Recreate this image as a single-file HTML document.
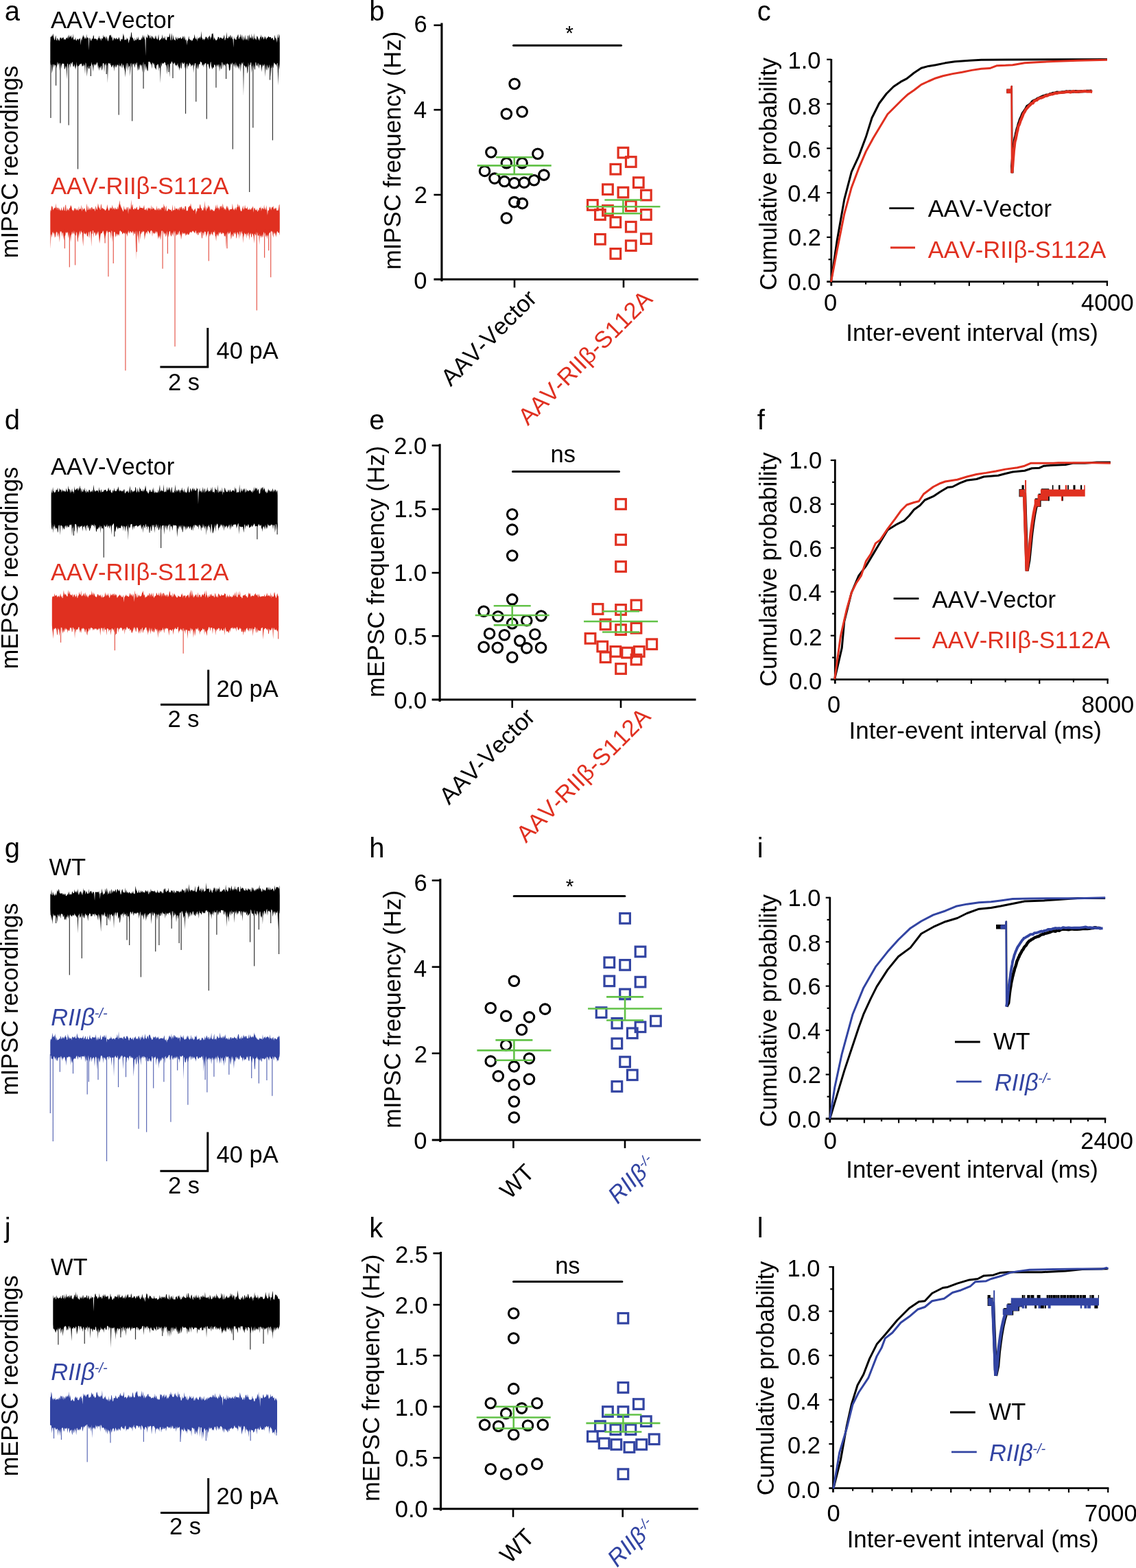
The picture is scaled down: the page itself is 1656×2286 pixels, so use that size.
<!DOCTYPE html>
<html lang="en"><head><meta charset="utf-8"><title>Figure</title>
<style>
html,body{margin:0;padding:0;background:#fff}
body{width:1656px;height:2286px;overflow:hidden}
svg{display:block}
svg text{font-family:"Liberation Sans", Arial, Helvetica, sans-serif;font-kerning:none}
</style></head><body>
<svg xmlns="http://www.w3.org/2000/svg" width="1656" height="2286" viewBox="0 0 1656 2286">
<rect width="1656" height="2286" fill="#fff"/>
<text x="6.85" y="29.8" font-size="40">a</text>
<text font-size="34.5" textLength="280.75" lengthAdjust="spacingAndGlyphs" transform="translate(26.1 376.4) rotate(-90)">mIPSC recordings</text>
<text x="74" y="41.3" font-size="34.5">AAV-Vector</text>
<text x="74" y="282.6" font-size="34.5" fill="#E03020">AAV-RIIβ-S112A</text>
<polygon points="73.3,62.5 73.65,53.83 74.35,53.43 75.05,53.76 75.75,51.36 76.45,53.34 77.15,48.78 77.85,51.49 78.55,55.45 79.25,57.66 79.95,58.84 80.65,54.05 81.35,51.41 82.05,59.08 82.75,58.81 83.45,55.5 84.15,55.65 84.85,59.74 85.55,56.63 86.25,60.22 86.95,57.5 87.65,54.77 88.35,54.41 89.05,55.62 89.75,57.36 90.44,55.05 91.14,54.62 91.84,56.25 92.54,53.52 93.24,57.9 93.94,57.43 94.64,56.66 95.34,58.28 96.04,56.85 96.74,55.03 97.44,54.64 98.14,56.68 98.84,52.06 99.54,56.95 100.24,50.26 100.94,53.03 101.64,55.24 102.34,52.56 103.04,53.91 103.74,50.44 104.44,57.04 105.14,53.39 105.84,55.97 106.54,49.36 107.24,58.8 107.94,56.44 108.64,57.97 109.34,57.66 110.04,54.13 110.74,58.65 111.44,59.58 112.14,57.79 112.84,56.63 113.54,56.39 114.24,59.24 114.94,56.6 115.64,57.17 116.34,54.97 117.04,57.56 117.74,65.83 118.44,55.57 119.14,59.19 119.84,55.51 120.54,53.8 121.24,50.42 121.94,53.95 122.64,52.98 123.34,55.95 124.03,57.05 124.73,54.07 125.43,57.17 126.13,49.46 126.83,56.47 127.53,53.87 128.23,56.31 128.93,54.53 129.63,73.34 130.33,55.2 131.03,55.27 131.73,56.93 132.43,59.4 133.13,59.54 133.83,56.21 134.53,56.41 135.23,56.42 135.93,51.5 136.63,51.82 137.33,57 138.03,56.67 138.73,55.93 139.43,56.5 140.13,57.25 140.83,56.59 141.53,59.54 142.23,57.6 142.93,56.06 143.63,55.79 144.33,51.83 145.03,55.74 145.73,56.4 146.43,55.67 147.13,59.75 147.83,57.23 148.53,55.36 149.23,56.47 149.93,56.47 150.63,50.54 151.33,55.11 152.03,52.93 152.73,53.55 153.43,56.39 154.13,52.55 154.83,58.97 155.53,52.65 156.23,55.55 156.93,58.7 157.62,60.39 158.32,57.08 159.02,53.93 159.72,50.96 160.42,51.18 161.12,52.5 161.82,49.9 162.52,55.61 163.22,52.94 163.92,56.69 164.62,59.7 165.32,57.84 166.02,53.88 166.72,56.64 167.42,55.56 168.12,56.58 168.82,57.65 169.52,54.95 170.22,55.3 170.92,57.73 171.62,56.84 172.32,57.21 173.02,54.02 173.72,55.01 174.42,57.04 175.12,59.89 175.82,60.16 176.52,56.6 177.22,57.95 177.92,56.23 178.62,57.76 179.32,48.25 180.02,54.6 180.72,49.84 181.42,57.89 182.12,58.72 182.82,57.25 183.52,57.39 184.22,58.82 184.92,54.34 185.62,57.33 186.32,55.95 187.02,59.4 187.72,63.13 188.42,58.32 189.12,57.85 189.82,52.45 190.51,55.15 191.21,46.43 191.91,48.32 192.61,55.34 193.31,54.55 194.01,56.31 194.71,57.56 195.41,59.78 196.11,59.5 196.81,54.63 197.51,59.23 198.21,57.5 198.91,59.09 199.61,53.85 200.31,57.87 201.01,56.64 201.71,52.88 202.41,58.93 203.11,57.73 203.81,58.02 204.51,58.72 205.21,57.19 205.91,58.08 206.61,53.93 207.31,57.29 208.01,50.19 208.71,53.7 209.41,55.54 210.11,51.18 210.81,56.45 211.51,58.21 212.21,81.16 212.91,51.66 213.61,54.58 214.31,54.7 215.01,56.06 215.71,49.12 216.41,51.94 217.11,51.16 217.81,52.71 218.51,56.21 219.21,54.87 219.91,50.84 220.61,57.76 221.31,52.52 222.01,52.54 222.71,55.36 223.41,54.25 224.1,56.55 224.8,56.78 225.5,56.24 226.2,51.29 226.9,57.09 227.6,51.6 228.3,57.55 229,55.86 229.7,58.61 230.4,54.56 231.1,49.7 231.8,58.09 232.5,59.62 233.2,57.41 233.9,58 234.6,56.63 235.3,56.37 236,54.75 236.7,50.05 237.4,58.12 238.1,54.71 238.8,55.29 239.5,56.9 240.2,52.13 240.9,56.41 241.6,58.04 242.3,58.16 243,58.92 243.7,52.62 244.4,54.42 245.1,54.15 245.8,53.48 246.5,54.14 247.2,48.11 247.9,51.92 248.6,58.34 249.3,59.28 250,48.01 250.7,51.96 251.4,58.88 252.1,55.89 252.8,50.84 253.5,56.77 254.2,58.58 254.9,57.82 255.6,59.8 256.3,52.95 257,55.45 257.69,57.02 258.39,58.23 259.09,53.19 259.79,56.34 260.49,56.12 261.19,56.37 261.89,55.08 262.59,55.43 263.29,53.38 263.99,57.15 264.69,56.6 265.39,55.77 266.09,54.79 266.79,52.15 267.49,54.24 268.19,58.35 268.89,51.87 269.59,55.18 270.29,58.07 270.99,59.46 271.69,56.24 272.39,65.93 273.09,59.57 273.79,58.94 274.49,56.89 275.19,52.34 275.89,57.12 276.59,57.12 277.29,58.94 277.99,58.27 278.69,57.5 279.39,60.12 280.09,59.19 280.79,58.54 281.49,56.77 282.19,55.35 282.89,55.87 283.59,49.83 284.29,54.01 284.99,56.84 285.69,56.27 286.39,58.37 287.09,52.73 287.79,60.4 288.49,56.54 289.19,55.73 289.89,55.46 290.59,53.43 291.28,57.58 291.98,52.72 292.68,55.85 293.38,45.25 294.08,54.68 294.78,55.11 295.48,58.49 296.18,56.85 296.88,56.34 297.58,59.15 298.28,56.07 298.98,57.44 299.68,53.55 300.38,53.99 301.08,53.26 301.78,56.1 302.48,54.98 303.18,58.59 303.88,52.94 304.58,54.55 305.28,51.53 305.98,53.02 306.68,58.14 307.38,52.86 308.08,56.18 308.78,49.2 309.48,49.55 310.18,48.12 310.88,51.1 311.58,58.68 312.28,53.86 312.98,56.43 313.68,56.87 314.38,58.52 315.08,59.35 315.78,58.15 316.48,57.66 317.18,56.56 317.88,53.59 318.58,54.1 319.28,54.33 319.98,57.82 320.68,54.99 321.38,54.67 322.08,54.42 322.78,55.62 323.48,56.14 324.18,56.51 324.87,56.26 325.57,55.4 326.27,53.03 326.97,50.41 327.67,58.66 328.37,58.24 329.07,54.8 329.77,55.87 330.47,46.55 331.17,55.82 331.87,55.67 332.57,55.99 333.27,54.02 333.97,52.33 334.67,55.34 335.37,50.22 336.07,57.04 336.77,50.59 337.47,56.03 338.17,51.89 338.87,57.35 339.57,56.74 340.27,69.3 340.97,52.43 341.67,56.88 342.37,55.74 343.07,57.4 343.77,58.09 344.47,57.94 345.17,53.12 345.87,54.15 346.57,50.9 347.27,49.93 347.97,56.26 348.67,56.92 349.37,54.12 350.07,54.3 350.77,49.15 351.47,53.42 352.17,58.07 352.87,49.98 353.57,54.3 354.27,59.6 354.97,57.1 355.67,52.17 356.37,56.44 357.07,59.08 357.76,50.44 358.46,56.84 359.16,58.51 359.86,55.63 360.56,59.26 361.26,51.3 361.96,52.74 362.66,60.23 363.36,49.86 364.06,52.66 364.76,56.78 365.46,53.9 366.16,56.49 366.86,48.68 367.56,57.67 368.26,51.44 368.96,55.98 369.66,58.52 370.36,48.2 371.06,57.14 371.76,55.12 372.46,56.23 373.16,58.74 373.86,56.62 374.56,52.36 375.26,52.88 375.96,54.8 376.66,58.71 377.36,54.85 378.06,59.69 378.76,56.91 379.46,53.58 380.16,53.96 380.86,50.27 381.56,57.52 382.26,52.6 382.96,55 383.66,53.96 384.36,57.7 385.06,56.4 385.76,53.35 386.46,53.26 387.16,57.48 387.86,53.46 388.56,57.97 389.26,55.12 389.96,55.36 390.66,53.9 391.35,52.52 392.05,54 392.75,54.32 393.45,54.43 394.15,53.99 394.85,54.01 395.55,56.97 396.25,55.78 396.95,55.04 397.65,55.5 398.35,57.87 399.05,58.9 399.75,57.54 400.45,50.86 401.15,54.17 401.85,56.18 402.55,56.01 403.25,58.67 403.95,62.14 404.65,49.27 405.35,55.45 406.05,55.15 406.75,49.17 407.45,52.48 407.8,62.5 407.8,87.5 407.45,102.39 406.75,93.45 406.05,102.33 405.35,124.59 404.65,92.54 403.95,91.7 403.25,97.93 402.55,93.72 401.85,94.49 401.15,93.09 400.45,92.49 399.75,91.11 399.05,93.41 398.35,99.31 397.65,97.38 396.95,94.21 396.25,98.52 395.55,98.95 394.85,112.2 394.15,95.31 393.45,100.6 392.75,93.79 392.05,98.27 391.35,98.53 390.66,102.96 389.96,94.08 389.26,96.94 388.56,102.97 387.86,100.87 387.16,93.48 386.46,111.97 385.76,95.76 385.06,92.67 384.36,96.08 383.66,94.97 382.96,98.67 382.26,92.72 381.56,105.07 380.86,98.19 380.16,93.92 379.46,95.02 378.76,93.31 378.06,95.51 377.36,100.34 376.66,93.36 375.96,91.42 375.26,97.88 374.56,94.49 373.86,96.83 373.16,90.69 372.46,90.9 371.76,101.37 371.06,101.55 370.36,94.21 369.66,100.1 368.96,91.86 368.26,95.14 367.56,96.99 366.86,107.05 366.16,91.08 365.46,90.88 364.76,94.61 364.06,94.76 363.36,93.13 362.66,98.3 361.96,91.11 361.26,104.57 360.56,107.56 359.86,97.43 359.16,96.17 358.46,99.74 357.76,97.2 357.07,96.17 356.37,95.68 355.67,94.23 354.97,139.38 354.27,89.76 353.57,93.88 352.87,90.76 352.17,93.05 351.47,95.19 350.77,104.92 350.07,92.46 349.37,93.49 348.67,102.1 347.97,95.41 347.27,100.26 346.57,94 345.87,99.27 345.17,95.93 344.47,94.41 343.77,90.41 343.07,99.67 342.37,95.87 341.67,91.8 340.97,97.53 340.27,93.35 339.57,93.57 338.87,91.86 338.17,91.31 337.47,94.96 336.77,91.91 336.07,94.78 335.37,101.78 334.67,103.38 333.97,101.73 333.27,92.97 332.57,94.47 331.87,92.68 331.17,92.14 330.47,93.5 329.77,94.87 329.07,91.24 328.37,97.01 327.67,94.77 326.97,93.53 326.27,96.04 325.57,92.14 324.87,100.84 324.18,90.98 323.48,90.67 322.78,101.27 322.08,99.86 321.38,93.79 320.68,97.71 319.98,104.48 319.28,93.69 318.58,94.62 317.88,98.67 317.18,93.27 316.48,96.3 315.78,93.14 315.08,96.88 314.38,97.78 313.68,94.69 312.98,94.59 312.28,93.99 311.58,99.19 310.88,98.2 310.18,98.14 309.48,101.35 308.78,98.81 308.08,96.48 307.38,89.7 306.68,91.48 305.98,98.19 305.28,101.36 304.58,97.44 303.88,94 303.18,92.64 302.48,94.55 301.78,90.8 301.08,99.67 300.38,92.83 299.68,91.98 298.98,91.68 298.28,94.24 297.58,93.38 296.88,98.17 296.18,93.34 295.48,95.01 294.78,96.03 294.08,90.68 293.38,91.05 292.68,89.62 291.98,90.44 291.28,94.31 290.59,93.33 289.89,93.67 289.19,98.42 288.49,101.57 287.79,92.84 287.09,98.51 286.39,100.19 285.69,92.41 284.99,91.98 284.29,91.89 283.59,96.9 282.89,91.74 282.19,106.15 281.49,95.46 280.79,93.6 280.09,96.23 279.39,94.54 278.69,97.79 277.99,93.68 277.29,93.85 276.59,91.21 275.89,93.09 275.19,96.02 274.49,96.98 273.79,92.49 273.09,101.48 272.39,92.46 271.69,93.83 270.99,101.26 270.29,94.73 269.59,100.33 268.89,90.59 268.19,92.16 267.49,93.45 266.79,92.98 266.09,91.1 265.39,91.35 264.69,99.99 263.99,99.4 263.29,90.59 262.59,100.27 261.89,98.33 261.19,103.12 260.49,95.39 259.79,98.95 259.09,91.74 258.39,94.69 257.69,94.79 257,97.04 256.3,94.31 255.6,95.46 254.9,91.44 254.2,91.22 253.5,93.78 252.8,92.65 252.1,90.74 251.4,92.52 250.7,89.59 250,89.99 249.3,92.44 248.6,93.41 247.9,91.68 247.2,112.7 246.5,98.65 245.8,94.81 245.1,92.58 244.4,95.05 243.7,108.38 243,98.25 242.3,94.85 241.6,95.2 240.9,90.97 240.2,91.16 239.5,90.5 238.8,92.58 238.1,92.04 237.4,93.56 236.7,91.09 236,93.7 235.3,97.45 234.6,90.73 233.9,121.31 233.2,98.45 232.5,99.73 231.8,93.42 231.1,104.26 230.4,93.58 229.7,93.29 229,95.02 228.3,95.09 227.6,101.97 226.9,100.31 226.2,98.97 225.5,98.62 224.8,91.56 224.1,95.16 223.41,92.89 222.71,91.12 222.01,92.4 221.31,100.4 220.61,92.39 219.91,94.51 219.21,90.9 218.51,91.32 217.81,89.55 217.11,89.96 216.41,90.36 215.71,102.23 215.01,103.99 214.31,101.37 213.61,94.96 212.91,102.58 212.21,98.27 211.51,93.75 210.81,92.88 210.11,106.25 209.41,90.06 208.71,91.46 208.01,95.38 207.31,105.69 206.61,94.62 205.91,94.54 205.21,96.92 204.51,93.57 203.81,94.76 203.11,100.13 202.41,102.46 201.71,94.26 201.01,103.78 200.31,99.58 199.61,91.3 198.91,91.4 198.21,95.74 197.51,91.43 196.81,96.15 196.11,99.03 195.41,91.71 194.71,93.41 194.01,94.72 193.31,92.01 192.61,95.77 191.91,98.4 191.21,91.56 190.51,93.32 189.82,111.73 189.12,95.43 188.42,96.6 187.72,98.52 187.02,92.12 186.32,103.96 185.62,92.15 184.92,91.92 184.22,101.66 183.52,92.35 182.82,112.8 182.12,104.32 181.42,100.32 180.72,98.23 180.02,93.4 179.32,95.25 178.62,99.72 177.92,93.86 177.22,91.71 176.52,99.49 175.82,94.23 175.12,97.12 174.42,96.26 173.72,91.47 173.02,96.71 172.32,94.93 171.62,94.67 170.92,93.85 170.22,96.74 169.52,98.75 168.82,93.5 168.12,98.86 167.42,95.32 166.72,104.28 166.02,93.37 165.32,99.41 164.62,94.68 163.92,94.79 163.22,97.47 162.52,98.33 161.82,95.27 161.12,94.37 160.42,91.81 159.72,92.86 159.02,93.02 158.32,91.49 157.62,92.87 156.93,121.12 156.23,94.32 155.53,96.16 154.83,93.25 154.13,91.77 153.43,95.81 152.73,93.27 152.03,105.45 151.33,92.03 150.63,92.15 149.93,92.26 149.23,100.56 148.53,103.06 147.83,97.06 147.13,95.18 146.43,100.81 145.73,97.27 145.03,98.71 144.33,103.37 143.63,94.75 142.93,100.38 142.23,92.65 141.53,90.41 140.83,92.34 140.13,95.24 139.43,93.11 138.73,94.8 138.03,96 137.33,92.67 136.63,94.16 135.93,104.7 135.23,97.85 134.53,94.5 133.83,93.64 133.13,90.44 132.43,96.85 131.73,95.67 131.03,96.24 130.33,100.49 129.63,100.04 128.93,99.89 128.23,95.32 127.53,99.15 126.83,111.73 126.13,100.32 125.43,92.72 124.73,91.12 124.03,108.47 123.34,93.73 122.64,96.69 121.94,92.54 121.24,96.41 120.54,95.75 119.84,97.55 119.14,93.67 118.44,92.37 117.74,93.66 117.04,92.8 116.34,93.93 115.64,94.85 114.94,96.74 114.24,95.66 113.54,97.96 112.84,94.3 112.14,97.71 111.44,90.34 110.74,102.18 110.04,95.04 109.34,100.6 108.64,93.03 107.94,95.92 107.24,97.52 106.54,96.71 105.84,90.38 105.14,90.62 104.44,94.63 103.74,91.23 103.04,92.63 102.34,99.22 101.64,92.7 100.94,94.13 100.24,93.28 99.54,100.36 98.84,92.64 98.14,92.87 97.44,115.54 96.74,98.67 96.04,95.59 95.34,98.3 94.64,100.81 93.94,100.62 93.24,93.08 92.54,92.79 91.84,93.17 91.14,91.89 90.44,93.38 89.75,95.13 89.05,99.99 88.35,92.81 87.65,91.73 86.95,102.89 86.25,91.59 85.55,94.26 84.85,90.61 84.15,96.16 83.45,89.67 82.75,99.86 82.05,95 81.35,96.03 80.65,94.6 79.95,95.71 79.25,93.06 78.55,99.52 77.85,93.32 77.15,94.59 76.45,102.04 75.75,106.92 75.05,93.45 74.35,95.22 73.65,91.91 73.3,87.5" fill="#000"/>
<path d="M73.95 88.5V171.94M81.56 88.5V124.77M87.95 88.5V179.55M100.12 88.5V182.59M113.51 88.5V246.5M132.38 88.5V111.08M155.2 88.5V108.03M173.16 88.5V167.38M192.64 88.5V176.51M209.07 88.5V129.34M245.89 88.5V104.99M251.98 88.5V114.12M270.54 88.5V165.86M285.76 88.5V148.2M301.28 88.5V173.46M314.97 88.5V127.81M329.58 88.5V115.03M339.32 88.5V217.59M363.66 88.5V279.98M368.84 88.5V186.24M393.49 88.5V116.56M397.44 88.5V204.5" stroke="#000" stroke-width="1.2" fill="none" opacity="0.8"/>
<polygon points="73.3,310.5 73.65,305.79 74.35,307.72 75.05,299.38 75.75,301.61 76.45,300.94 77.15,304.81 77.85,306.39 78.55,303.27 79.25,303.84 79.95,302.61 80.65,303.44 81.35,296.36 82.05,306.16 82.75,301.46 83.45,303.14 84.15,302.72 84.85,306.43 85.55,302.48 86.25,303.81 86.95,307.24 87.65,304.56 88.35,307.6 89.05,306.06 89.75,302.08 90.44,306.11 91.14,307.51 91.84,305.76 92.54,302.28 93.24,300.57 93.94,306.88 94.64,307.37 95.34,299.13 96.04,298.27 96.74,308.03 97.44,306.94 98.14,302.79 98.84,306.39 99.54,304.95 100.24,307.78 100.94,303.62 101.64,303.66 102.34,302.31 103.04,298.73 103.74,300.55 104.44,301.82 105.14,306.47 105.84,305.68 106.54,308.3 107.24,305.02 107.94,307.73 108.64,302.92 109.34,303.96 110.04,303.42 110.74,306.3 111.44,306.68 112.14,303.13 112.84,305.83 113.54,306.36 114.24,307.57 114.94,300.56 115.64,305.32 116.34,305.23 117.04,304.87 117.74,303.89 118.44,298.59 119.14,308.31 119.84,305.37 120.54,301.76 121.24,305.95 121.94,304.96 122.64,304.31 123.34,302.88 124.03,305.99 124.73,308.22 125.43,309.5 126.13,301.85 126.83,296.55 127.53,306.99 128.23,305.18 128.93,299.71 129.63,306.32 130.33,305.6 131.03,303.29 131.73,303.26 132.43,306.8 133.13,302.52 133.83,302.12 134.53,302.64 135.23,305.3 135.93,304.99 136.63,304.22 137.33,303.65 138.03,305.92 138.73,308.29 139.43,299.98 140.13,302.2 140.83,304.94 141.53,306.2 142.23,302.17 142.93,296.23 143.63,300.22 144.33,304.01 145.03,301.59 145.73,305.13 146.43,306.37 147.13,296.85 147.83,299.62 148.53,304.9 149.23,303.08 149.93,303.23 150.63,304.75 151.33,304.97 152.03,304.53 152.73,306.02 153.43,307.34 154.13,306.33 154.83,304.97 155.53,303.65 156.23,297.79 156.93,302.31 157.62,304.21 158.32,306.68 159.02,307.14 159.72,304.81 160.42,303 161.12,302.08 161.82,304.97 162.52,303.51 163.22,302.04 163.92,298.53 164.62,305.54 165.32,304.55 166.02,302.18 166.72,303.73 167.42,305.92 168.12,304.09 168.82,302.27 169.52,304.95 170.22,304.71 170.92,305.46 171.62,300.13 172.32,305.53 173.02,299.94 173.72,296.99 174.42,291.63 175.12,301.06 175.82,296.99 176.52,302.53 177.22,302.86 177.92,305.08 178.62,305.97 179.32,308.48 180.02,307.54 180.72,299.7 181.42,305.03 182.12,306.14 182.82,303.8 183.52,307.35 184.22,301.18 184.92,306.62 185.62,302.21 186.32,301.68 187.02,312.16 187.72,301.31 188.42,306.37 189.12,302.52 189.82,304.94 190.51,305.39 191.21,290.68 191.91,303.39 192.61,299.33 193.31,297.54 194.01,305.56 194.71,304.54 195.41,306.06 196.11,303.06 196.81,304.11 197.51,304.71 198.21,304.61 198.91,302.62 199.61,301.35 200.31,305.41 201.01,305.62 201.71,306.26 202.41,304.56 203.11,304.08 203.81,299.11 204.51,302.89 205.21,303.12 205.91,303.27 206.61,302.77 207.31,303.8 208.01,302.58 208.71,304.53 209.41,301.71 210.11,298.66 210.81,306.03 211.51,306.09 212.21,304.16 212.91,306.93 213.61,302.79 214.31,305.74 215.01,307.78 215.71,302.19 216.41,304.61 217.11,302.1 217.81,303.94 218.51,304.48 219.21,303.32 219.91,306.74 220.61,298.68 221.31,304.99 222.01,305.06 222.71,300.9 223.41,303.83 224.1,304.86 224.8,303.55 225.5,306.18 226.2,306.18 226.9,304.97 227.6,307.19 228.3,299.49 229,306.63 229.7,303.06 230.4,307.36 231.1,302.88 231.8,303.74 232.5,306.94 233.2,303.94 233.9,304.71 234.6,306.86 235.3,302.22 236,303.86 236.7,302.35 237.4,302.09 238.1,305.08 238.8,297.09 239.5,300.83 240.2,301.3 240.9,308.18 241.6,302.77 242.3,299.48 243,308.15 243.7,307.22 244.4,307.36 245.1,304.81 245.8,304.11 246.5,305.31 247.2,305.14 247.9,306.03 248.6,306 249.3,305.53 250,308.26 250.7,307.74 251.4,298.06 252.1,307.58 252.8,305.68 253.5,306.51 254.2,305.98 254.9,299.61 255.6,306.67 256.3,303.92 257,303.75 257.69,304.25 258.39,305.68 259.09,302.85 259.79,306.68 260.49,302.94 261.19,307.21 261.89,302.46 262.59,301.56 263.29,305.15 263.99,301.13 264.69,301.56 265.39,302.89 266.09,306.57 266.79,304.11 267.49,302.48 268.19,304.75 268.89,306.24 269.59,300.83 270.29,300.92 270.99,300 271.69,307.37 272.39,307.5 273.09,306.54 273.79,307.76 274.49,301.39 275.19,302.39 275.89,300.4 276.59,300.06 277.29,301.27 277.99,296.18 278.69,300.65 279.39,303.53 280.09,306.12 280.79,303.48 281.49,306.45 282.19,307.43 282.89,306.84 283.59,304.84 284.29,305.55 284.99,302.77 285.69,312.54 286.39,307.74 287.09,307.81 287.79,302.96 288.49,304.01 289.19,303.14 289.89,304.58 290.59,303.95 291.28,298.94 291.98,297.54 292.68,302.63 293.38,303.54 294.08,304.31 294.78,307.39 295.48,305.66 296.18,307.13 296.88,301.62 297.58,304.7 298.28,292.8 298.98,306.26 299.68,299.35 300.38,308.13 301.08,304.92 301.78,300.89 302.48,304.88 303.18,301.56 303.88,298.38 304.58,302.69 305.28,300.04 305.98,305.25 306.68,307.44 307.38,303.84 308.08,306.93 308.78,304.67 309.48,306.36 310.18,305.26 310.88,308.33 311.58,306.76 312.28,308.22 312.98,305.77 313.68,304.59 314.38,298.34 315.08,303.7 315.78,303.87 316.48,297.49 317.18,304.83 317.88,302.29 318.58,303.26 319.28,306.76 319.98,299.99 320.68,305.53 321.38,300.55 322.08,301.34 322.78,299.35 323.48,304.18 324.18,300.8 324.87,296.55 325.57,302.69 326.27,302.16 326.97,306 327.67,303.57 328.37,304.7 329.07,306.67 329.77,302.41 330.47,299.56 331.17,304.36 331.87,300.11 332.57,303.24 333.27,307.31 333.97,303.69 334.67,307.86 335.37,305.01 336.07,305.33 336.77,304.73 337.47,304.9 338.17,304.75 338.87,296.41 339.57,303.08 340.27,306.3 340.97,304.05 341.67,307.05 342.37,302.48 343.07,306.34 343.77,301.5 344.47,306.82 345.17,301.92 345.87,302.26 346.57,296.61 347.27,300.67 347.97,302.66 348.67,298.32 349.37,300.78 350.07,304.35 350.77,307.06 351.47,307.92 352.17,308.07 352.87,304.73 353.57,302.89 354.27,299.56 354.97,305.9 355.67,304.78 356.37,303.21 357.07,298.51 357.76,303.57 358.46,304.07 359.16,303.39 359.86,304.43 360.56,300.7 361.26,305.51 361.96,306.05 362.66,305.53 363.36,302.99 364.06,306.37 364.76,305.39 365.46,305.28 366.16,302.51 366.86,306.37 367.56,302.87 368.26,302.62 368.96,300.05 369.66,309.64 370.36,303.97 371.06,302.41 371.76,304.37 372.46,306.08 373.16,306.37 373.86,307.29 374.56,303.5 375.26,308.41 375.96,308.23 376.66,305.28 377.36,307.32 378.06,302.5 378.76,303.35 379.46,303.82 380.16,300.47 380.86,307.67 381.56,304.27 382.26,303.41 382.96,302.81 383.66,304.79 384.36,305.16 385.06,298.37 385.76,305.9 386.46,301.93 387.16,305.25 387.86,306.27 388.56,298.89 389.26,305.92 389.96,313.63 390.66,306.28 391.35,307.13 392.05,306.19 392.75,301.18 393.45,302.08 394.15,305.83 394.85,301 395.55,306.76 396.25,301.24 396.95,303.06 397.65,301.71 398.35,299.99 399.05,306.06 399.75,304.07 400.45,303.53 401.15,305.12 401.85,302.58 402.55,303.27 403.25,306.57 403.95,307.2 404.65,306.48 405.35,307.08 406.05,304.24 406.75,298.94 407.45,297.75 407.8,310.5 407.8,333.5 407.45,343.17 406.75,339.01 406.05,339.54 405.35,339.32 404.65,337.26 403.95,337.24 403.25,340.64 402.55,345.97 401.85,339.08 401.15,343.84 400.45,338.94 399.75,341.52 399.05,337.23 398.35,346.58 397.65,342.4 396.95,336.55 396.25,338.47 395.55,336.63 394.85,336.77 394.15,338.29 393.45,339.06 392.75,339.65 392.05,340.43 391.35,342.38 390.66,344.71 389.96,341.38 389.26,349 388.56,341.54 387.86,345.76 387.16,343.33 386.46,338.9 385.76,341.18 385.06,340.1 384.36,337.65 383.66,346.58 382.96,340.6 382.26,346.7 381.56,342.28 380.86,347.14 380.16,344.15 379.46,344.29 378.76,340.47 378.06,356.82 377.36,343.79 376.66,342.8 375.96,344.54 375.26,338.33 374.56,344.15 373.86,337.86 373.16,342.62 372.46,343.84 371.76,340.5 371.06,341.55 370.36,354.96 369.66,344.41 368.96,342.11 368.26,340.47 367.56,340.71 366.86,345.91 366.16,345.42 365.46,339.31 364.76,341.09 364.06,342.12 363.36,350.53 362.66,340.25 361.96,338.45 361.26,344.79 360.56,341.47 359.86,339.56 359.16,347.69 358.46,341.32 357.76,341.6 357.07,340.51 356.37,338.99 355.67,346.18 354.97,340.67 354.27,354.42 353.57,341.05 352.87,340.1 352.17,336.49 351.47,339.73 350.77,345.85 350.07,336.89 349.37,338.22 348.67,348.87 347.97,339.81 347.27,342.78 346.57,337.88 345.87,339.39 345.17,346.12 344.47,347.99 343.77,337.69 343.07,340.75 342.37,342.07 341.67,339.24 340.97,338.7 340.27,344.17 339.57,345.35 338.87,342.86 338.17,340.47 337.47,346.03 336.77,349.21 336.07,339.72 335.37,337.04 334.67,340.69 333.97,339.41 333.27,342.58 332.57,337.36 331.87,341.84 331.17,338.02 330.47,341.72 329.77,362.96 329.07,340.08 328.37,345.02 327.67,343.7 326.97,344.99 326.27,339.98 325.57,340.16 324.87,338.52 324.18,340.32 323.48,341.35 322.78,341.41 322.08,339.3 321.38,337.94 320.68,341.59 319.98,339.31 319.28,338.26 318.58,345.02 317.88,340.11 317.18,344.99 316.48,342.62 315.78,340.83 315.08,351.72 314.38,344.68 313.68,343.63 312.98,335.57 312.28,339.71 311.58,338.16 310.88,337.75 310.18,343.9 309.48,341.38 308.78,341.36 308.08,337.42 307.38,341.97 306.68,341.18 305.98,345.34 305.28,341.06 304.58,340.06 303.88,337.58 303.18,336.75 302.48,339.07 301.78,344.26 301.08,339.91 300.38,346.66 299.68,338.13 298.98,337.66 298.28,337.29 297.58,339.89 296.88,344.79 296.18,338.7 295.48,339.19 294.78,347.66 294.08,347.08 293.38,337.84 292.68,337.43 291.98,339.35 291.28,340.66 290.59,338.49 289.89,338.2 289.19,342.46 288.49,342.98 287.79,340.34 287.09,338.47 286.39,342.53 285.69,336.92 284.99,336.1 284.29,339.94 283.59,339.64 282.89,338.03 282.19,338.02 281.49,336.3 280.79,337.84 280.09,336.59 279.39,339.06 278.69,339.1 277.99,338.65 277.29,337.39 276.59,339.4 275.89,340.83 275.19,342.48 274.49,342.13 273.79,341.81 273.09,339.77 272.39,342.51 271.69,343.1 270.99,340.03 270.29,344.62 269.59,338.73 268.89,341.72 268.19,339.57 267.49,340.19 266.79,341.87 266.09,338.09 265.39,340.9 264.69,344.53 263.99,349.39 263.29,340.63 262.59,343.85 261.89,337.68 261.19,336.37 260.49,343.1 259.79,337.81 259.09,342.81 258.39,341.73 257.69,341.48 257,344.8 256.3,340.75 255.6,336.13 254.9,337.53 254.2,340.41 253.5,335.82 252.8,345.65 252.1,337.78 251.4,343.07 250.7,338.5 250,345.01 249.3,343.93 248.6,342.24 247.9,337.37 247.2,336.87 246.5,338.87 245.8,345.92 245.1,340.69 244.4,347.18 243.7,336.4 243,340.04 242.3,343.36 241.6,345.43 240.9,339.23 240.2,340.55 239.5,342.85 238.8,336.89 238.1,340.83 237.4,336.78 236.7,336.56 236,336.58 235.3,336.75 234.6,349.96 233.9,338.7 233.2,349.89 232.5,343.29 231.8,346.97 231.1,342.44 230.4,349.29 229.7,341.06 229,337.88 228.3,337.21 227.6,341.46 226.9,336.56 226.2,339.17 225.5,340.02 224.8,341.74 224.1,339.3 223.41,340.29 222.71,336.19 222.01,345.18 221.31,336.63 220.61,335.76 219.91,336.35 219.21,337.71 218.51,342.03 217.81,339.06 217.11,339.09 216.41,337.25 215.71,336.12 215.01,337.69 214.31,341.87 213.61,337.57 212.91,339.19 212.21,341.17 211.51,344.29 210.81,349.77 210.11,337.7 209.41,336.99 208.71,338.67 208.01,336.09 207.31,339.53 206.61,337.55 205.91,341.67 205.21,339.72 204.51,350.12 203.81,336.91 203.11,336.75 202.41,356.33 201.71,346.8 201.01,336.85 200.31,345.78 199.61,337.41 198.91,336.45 198.21,378.66 197.51,336.25 196.81,341.47 196.11,340.99 195.41,337.48 194.71,344.28 194.01,337.74 193.31,336.57 192.61,340.19 191.91,337.99 191.21,339.84 190.51,336.98 189.82,336.95 189.12,340.63 188.42,339.14 187.72,335.8 187.02,340.5 186.32,337.16 185.62,345.29 184.92,341.65 184.22,340.48 183.52,338.25 182.82,342.31 182.12,339.14 181.42,341 180.72,338.61 180.02,340.19 179.32,340.17 178.62,341.68 177.92,339.39 177.22,337.43 176.52,337.9 175.82,336.43 175.12,336.29 174.42,337.3 173.72,344.4 173.02,340.61 172.32,343.02 171.62,340.75 170.92,344.94 170.22,340.86 169.52,340.6 168.82,346.36 168.12,343.19 167.42,337.95 166.72,337.67 166.02,338.97 165.32,346 164.62,343.16 163.92,353.02 163.22,337.13 162.52,336.23 161.82,348.15 161.12,340.03 160.42,338.43 159.72,337.97 159.02,337.78 158.32,338.98 157.62,337.4 156.93,340.25 156.23,336.37 155.53,336.63 154.83,339.55 154.13,343.04 153.43,344.84 152.73,348.48 152.03,343.24 151.33,340.72 150.63,336.81 149.93,336.52 149.23,338.87 148.53,340.07 147.83,340.46 147.13,339.67 146.43,342.98 145.73,349.13 145.03,355.15 144.33,346.03 143.63,339.34 142.93,336.82 142.23,342.88 141.53,338.23 140.83,340.94 140.13,343.32 139.43,343.95 138.73,338.06 138.03,340.65 137.33,337.82 136.63,346.85 135.93,335.78 135.23,336.13 134.53,341.49 133.83,340.18 133.13,359.43 132.43,336.94 131.73,337.32 131.03,339.49 130.33,347.71 129.63,337.58 128.93,339.17 128.23,346.33 127.53,344.09 126.83,343.93 126.13,338.45 125.43,340.55 124.73,342.28 124.03,340.55 123.34,340.58 122.64,340.95 121.94,336.76 121.24,359.16 120.54,350.16 119.84,338.96 119.14,339.08 118.44,336.09 117.74,339.8 117.04,342.43 116.34,335.92 115.64,339.19 114.94,347.48 114.24,340.27 113.54,352.9 112.84,350.95 112.14,339.15 111.44,337.93 110.74,343.93 110.04,342.57 109.34,336.55 108.64,342.98 107.94,335.87 107.24,341.47 106.54,338.41 105.84,342.5 105.14,336.7 104.44,341.04 103.74,343 103.04,352.89 102.34,341.64 101.64,351.26 100.94,345.75 100.24,338.4 99.54,347.44 98.84,339.24 98.14,337.84 97.44,340.26 96.74,339.55 96.04,337.69 95.34,343.03 94.64,344.42 93.94,343.29 93.24,350.49 92.54,345.52 91.84,339.55 91.14,339.01 90.44,345.44 89.75,336.79 89.05,339.17 88.35,337.07 87.65,337.6 86.95,353.13 86.25,344.35 85.55,338.98 84.85,342.78 84.15,345.94 83.45,338.48 82.75,339.07 82.05,337.18 81.35,345.15 80.65,345.92 79.95,338.28 79.25,347.33 78.55,339.92 77.85,340.28 77.15,337.49 76.45,339.53 75.75,346.5 75.05,340.84 74.35,343.47 73.65,362.72 73.3,333.5" fill="#E03020"/>
<path d="M94.34 334.5V362.14M101.34 334.5V389.53M109.56 334.5V386.49M153.07 334.5V354.53M157.94 334.5V403.23M165.25 334.5V384.05M182.9 334.5V540.17M199.33 334.5V367.32M237.07 334.5V391.66M244.37 334.5V369.75M255.02 334.5V505.17M304.32 334.5V380.4M331.1 334.5V362.14M374.32 334.5V452.53M385.58 334.5V375.84M391.66 334.5V365.19M394.7 334.5V404.14" stroke="#E03020" stroke-width="1.2" fill="none" opacity="0.8"/>
<path d="M302.8 478V535H233.4" fill="none" stroke="#000" stroke-width="3" stroke-linejoin="miter"/>
<text x="315.6" y="523.4" font-size="34.5">40 pA</text>
<text x="245" y="568.5" font-size="34.5">2 s</text>
<text x="6.85" y="626.1" font-size="40">d</text>
<text font-size="34.5" textLength="294.75" lengthAdjust="spacingAndGlyphs" transform="translate(26.1 975.4) rotate(-90)">mEPSC recordings</text>
<text x="74" y="692.2" font-size="34.5">AAV-Vector</text>
<text x="74" y="846" font-size="34.5" fill="#E03020">AAV-RIIβ-S112A</text>
<polygon points="74.6,722 74.95,712.49 75.65,718.17 76.35,718.73 77.05,710.03 77.75,716.06 78.45,716.37 79.15,719 79.85,717.09 80.54,718.12 81.24,715.96 81.94,713.39 82.64,714.86 83.34,714.23 84.04,710.66 84.74,717.47 85.44,716.72 86.14,716.41 86.84,711.34 87.54,713.78 88.24,713.96 88.94,714.06 89.64,718.21 90.34,712.14 91.04,717.45 91.73,714.43 92.43,715.51 93.13,715.3 93.83,717.21 94.53,715.11 95.23,717.52 95.93,715.89 96.63,711.41 97.33,714.77 98.03,717.37 98.73,716.13 99.43,708.06 100.13,713.61 100.83,713.01 101.53,713.71 102.22,719.45 102.92,713.18 103.62,717.28 104.32,717.75 105.02,711.65 105.72,716.56 106.42,716.99 107.12,716.33 107.82,719.88 108.52,708.64 109.22,715.29 109.92,713.03 110.62,714.87 111.32,713.28 112.02,712.45 112.72,711.27 113.41,714.07 114.11,715.78 114.81,710.65 115.51,714.32 116.21,707.76 116.91,711.52 117.61,712.45 118.31,718.47 119.01,711.71 119.71,715.76 120.41,717.27 121.11,716.79 121.81,712.64 122.51,715.44 123.21,710.66 123.91,715.7 124.6,716.22 125.3,719.35 126,712.57 126.7,717.97 127.4,716.48 128.1,716.08 128.8,718.66 129.5,714.14 130.2,714.16 130.9,714.15 131.6,718.01 132.3,717.03 133,715.58 133.7,717.44 134.4,713.18 135.1,718.28 135.79,714.85 136.49,706.44 137.19,713.81 137.89,715.29 138.59,716.98 139.29,715.54 139.99,716.67 140.69,714.27 141.39,715.81 142.09,714.63 142.79,715.68 143.49,718.57 144.19,710.05 144.89,715.27 145.59,713.89 146.28,718.47 146.98,715.51 147.68,712.72 148.38,718.09 149.08,717.11 149.78,716.78 150.48,716.74 151.18,716.27 151.88,713.63 152.58,715.01 153.28,714.05 153.98,713.85 154.68,715.03 155.38,716.88 156.08,715.45 156.78,716.22 157.47,713.12 158.17,710.39 158.87,714.27 159.57,715.89 160.27,713.95 160.97,713.62 161.67,717 162.37,717.68 163.07,719.16 163.77,717.31 164.47,714.63 165.17,714.52 165.87,717.85 166.57,710.93 167.27,714.99 167.97,716.03 168.66,716.22 169.36,716.33 170.06,715.27 170.76,712.82 171.46,714.2 172.16,709.01 172.86,711.99 173.56,715.47 174.26,716.76 174.96,713.42 175.66,715.97 176.36,715.3 177.06,715.77 177.76,716.93 178.46,714.87 179.15,716.93 179.85,715.19 180.55,713.65 181.25,713.11 181.95,718.58 182.65,719.42 183.35,717.69 184.05,715.39 184.75,717.04 185.45,716.93 186.15,714.78 186.85,716.51 187.55,718.93 188.25,716.66 188.95,712.3 189.65,708.29 190.34,719.7 191.04,713.76 191.74,714.08 192.44,715.5 193.14,718 193.84,715.47 194.54,716.7 195.24,716.68 195.94,714.85 196.64,716.28 197.34,709.81 198.04,710.9 198.74,716.37 199.44,718.57 200.14,715.94 200.84,711.58 201.53,716.05 202.23,716.89 202.93,718.14 203.63,709.47 204.33,713.11 205.03,712.58 205.73,716.15 206.43,714.97 207.13,716.11 207.83,716.87 208.53,712.27 209.23,717.07 209.93,715.49 210.63,713.93 211.33,712.51 212.03,707.45 212.72,711.7 213.42,716.72 214.12,715.58 214.82,717.29 215.52,718.14 216.22,719.92 216.92,717.97 217.62,716.77 218.32,714.01 219.02,713.82 219.72,717.58 220.42,716.21 221.12,716.88 221.82,717.38 222.52,711.97 223.21,717.03 223.91,709.88 224.61,718.29 225.31,718.94 226.01,715.42 226.71,718.52 227.41,717.3 228.11,718.83 228.81,717.62 229.51,718.43 230.21,717.01 230.91,713.15 231.61,719.3 232.31,711.98 233.01,706.59 233.71,717.45 234.4,715.12 235.1,716.49 235.8,713.44 236.5,715.38 237.2,716.52 237.9,715.45 238.6,705.97 239.3,717.55 240,717.45 240.7,716.48 241.4,717.42 242.1,712.67 242.8,718.02 243.5,709.02 244.2,713.97 244.9,715.17 245.59,713.35 246.29,709.59 246.99,715.39 247.69,710.68 248.39,715.47 249.09,718.71 249.79,712.23 250.49,709.53 251.19,716.99 251.89,718.88 252.59,716.17 253.29,719.34 253.99,716.51 254.69,715.21 255.39,706.24 256.09,715.4 256.78,718.37 257.48,713.18 258.18,716.96 258.88,713.51 259.58,717.17 260.28,713.17 260.98,714.04 261.68,715.75 262.38,718.89 263.08,714.73 263.78,714.71 264.48,714.92 265.18,710.39 265.88,714.58 266.58,714.69 267.27,718.09 267.97,715.69 268.67,712 269.37,718.75 270.07,716.02 270.77,717.56 271.47,719.02 272.17,717.41 272.87,716.48 273.57,712.13 274.27,708.36 274.97,716.39 275.67,718.04 276.37,717.99 277.07,713.87 277.77,711.48 278.46,714.94 279.16,717.28 279.86,713.77 280.56,712.69 281.26,710.48 281.96,715.99 282.66,712.93 283.36,712.05 284.06,715.35 284.76,715.39 285.46,714.97 286.16,715.19 286.86,710.51 287.56,713.37 288.26,711.95 288.96,735.12 289.65,717.38 290.35,715.87 291.05,711.34 291.75,716.9 292.45,716.18 293.15,714.82 293.85,718.01 294.55,717.64 295.25,709.47 295.95,717.72 296.65,711.22 297.35,719.27 298.05,713.81 298.75,711.52 299.45,718.17 300.15,716.24 300.84,716.14 301.54,714.34 302.24,709.97 302.94,716.96 303.64,713.72 304.34,717.54 305.04,716.08 305.74,716.07 306.44,713.73 307.14,717.72 307.84,710.29 308.54,715.9 309.24,709.31 309.94,717.53 310.64,717.24 311.33,717.6 312.03,715.95 312.73,719.55 313.43,709.65 314.13,714.3 314.83,712.71 315.53,714.55 316.23,713.64 316.93,718.66 317.63,706.46 318.33,717.45 319.03,718.48 319.73,714.81 320.43,716.74 321.13,716.97 321.83,713.53 322.52,716.9 323.22,716.73 323.92,710.3 324.62,722.02 325.32,716.26 326.02,717.33 326.72,718.5 327.42,710.65 328.12,712.15 328.82,715.01 329.52,716.12 330.22,717.36 330.92,717.26 331.62,717.32 332.32,713.23 333.02,717.36 333.71,713.58 334.41,718.22 335.11,713.52 335.81,714.13 336.51,717.1 337.21,716.32 337.91,717.56 338.61,714.62 339.31,715.22 340.01,714.45 340.71,715.61 341.41,716.94 342.11,709.05 342.81,716.65 343.51,711.67 344.2,712.49 344.9,717.9 345.6,718.4 346.3,717.37 347,716.63 347.7,718.18 348.4,717.31 349.1,706.33 349.8,715.54 350.5,718.69 351.2,715.39 351.9,711.41 352.6,716.1 353.3,716.87 354,712.4 354.7,715.75 355.39,712.96 356.09,711.63 356.79,714.34 357.49,718.4 358.19,716.41 358.89,711.61 359.59,717.74 360.29,715.29 360.99,713.94 361.69,716.29 362.39,716.37 363.09,715.52 363.79,713.84 364.49,715.6 365.19,713.94 365.89,716.8 366.58,716.52 367.28,716.44 367.98,718.91 368.68,714.06 369.38,717.72 370.08,709.36 370.78,716.28 371.48,714.33 372.18,710.29 372.88,712.63 373.58,712.44 374.28,710.85 374.98,716.52 375.68,714.02 376.38,713.04 377.08,713.81 377.77,719.83 378.47,719.81 379.17,718.4 379.87,710.51 380.57,714.71 381.27,711.39 381.97,711.3 382.67,709.79 383.37,716.09 384.07,709.37 384.77,714.18 385.47,711.49 386.17,714.44 386.87,716.75 387.57,717.14 388.26,719.57 388.96,714.93 389.66,718.92 390.36,717.4 391.06,712.21 391.76,714.72 392.46,715.67 393.16,714.08 393.86,717.83 394.56,715.91 395.26,716.62 395.96,713.66 396.66,717.68 397.36,711.72 398.06,714.31 398.76,718.02 399.45,714.34 400.15,717.24 400.85,712.96 401.55,714.28 402.25,715.19 402.95,718.3 403.65,715.34 404.35,715.26 404.7,722 404.7,761 404.35,767.41 403.65,772.86 402.95,764.4 402.25,763.95 401.55,770.99 400.85,776.46 400.15,764.05 399.45,766.55 398.76,765.1 398.06,771.78 397.36,765.66 396.66,765.24 395.96,764.3 395.26,765.29 394.56,767.06 393.86,764.6 393.16,767.18 392.46,766.84 391.76,765.26 391.06,766.24 390.36,763.31 389.66,771.07 388.96,767.25 388.26,771.68 387.57,765.2 386.87,772.6 386.17,764.86 385.47,771.84 384.77,766.66 384.07,769.14 383.37,767.08 382.67,775.47 381.97,769.44 381.27,771.62 380.57,765.22 379.87,765.42 379.17,766.7 378.47,766.43 377.77,764.71 377.08,763.99 376.38,766.11 375.68,768.07 374.98,766.8 374.28,766.77 373.58,767.02 372.88,766.83 372.18,768.04 371.48,765.14 370.78,763.24 370.08,763.97 369.38,766.09 368.68,765.8 367.98,768.54 367.28,767.4 366.58,765.25 365.89,767.99 365.19,767.82 364.49,768.92 363.79,769.87 363.09,768.8 362.39,764.96 361.69,764.18 360.99,765.92 360.29,768.23 359.59,765.53 358.89,767.89 358.19,764.59 357.49,772.04 356.79,764.15 356.09,765.15 355.39,776.7 354.7,772.3 354,768.08 353.3,767.95 352.6,767.67 351.9,769.31 351.2,767.46 350.5,768.54 349.8,767.49 349.1,766.78 348.4,779.07 347.7,763.31 347,763.15 346.3,765.38 345.6,767.69 344.9,770.46 344.2,765.18 343.51,764 342.81,765.81 342.11,764.04 341.41,764.86 340.71,765.29 340.01,765.08 339.31,768.43 338.61,765.99 337.91,769.44 337.21,763.33 336.51,771.94 335.81,763.8 335.11,772.95 334.41,765.66 333.71,764.95 333.02,768.27 332.32,767.03 331.62,770.95 330.92,767.56 330.22,765.7 329.52,767.2 328.82,769.43 328.12,767.46 327.42,765.7 326.72,773.88 326.02,767.47 325.32,764.38 324.62,770.58 323.92,764.02 323.22,767.16 322.52,765.13 321.83,764.16 321.13,768.14 320.43,766.43 319.73,770.17 319.03,768.38 318.33,774.01 317.63,764.92 316.93,763.98 316.23,763.14 315.53,765.71 314.83,766.91 314.13,775.32 313.43,763.85 312.73,767.95 312.03,770.49 311.33,774.25 310.64,776.81 309.94,777.83 309.24,769.41 308.54,764.63 307.84,763.86 307.14,777.74 306.44,771.71 305.74,768.57 305.04,767.97 304.34,764.42 303.64,767.77 302.94,767.07 302.24,774.29 301.54,765.16 300.84,780.55 300.15,767.66 299.45,766.75 298.75,772.49 298.05,764.96 297.35,770.13 296.65,767.14 295.95,763.54 295.25,769.42 294.55,769.63 293.85,767.8 293.15,774.38 292.45,767.46 291.75,766.39 291.05,764.76 290.35,765.19 289.65,772.14 288.96,764.92 288.26,768.02 287.56,768.25 286.86,766.23 286.16,765.73 285.46,766.42 284.76,765.22 284.06,764.82 283.36,770.84 282.66,764.67 281.96,767.53 281.26,774.41 280.56,765.93 279.86,772.64 279.16,772.66 278.46,769.5 277.77,766.46 277.07,769.31 276.37,771.15 275.67,768.38 274.97,767.04 274.27,767.7 273.57,769.27 272.87,771.42 272.17,765.96 271.47,772.64 270.77,766.47 270.07,773.57 269.37,767.43 268.67,767.97 267.97,765.62 267.27,768.93 266.58,774.92 265.88,776.16 265.18,764.53 264.48,773.05 263.78,767.73 263.08,765.5 262.38,769.49 261.68,767.72 260.98,765.38 260.28,772.6 259.58,768.17 258.88,773.99 258.18,783.33 257.48,767.16 256.78,765.83 256.09,766.44 255.39,765.71 254.69,765.42 253.99,766.83 253.29,765.49 252.59,765.09 251.89,769.12 251.19,773.72 250.49,766.9 249.79,767.12 249.09,768.3 248.39,763.51 247.69,776.17 246.99,763.69 246.29,764.88 245.59,766.8 244.9,766.06 244.2,767.95 243.5,773.45 242.8,766.25 242.1,766.31 241.4,771.56 240.7,765.03 240,768.1 239.3,779.45 238.6,766.26 237.9,765.85 237.2,765.94 236.5,766.38 235.8,767.57 235.1,773.09 234.4,767.09 233.71,765.69 233.01,772.66 232.31,767.76 231.61,773.02 230.91,772.62 230.21,764.55 229.51,768.53 228.81,771.29 228.11,763.84 227.41,765.58 226.71,768.88 226.01,767.6 225.31,776.92 224.61,765.79 223.91,765.02 223.21,769.21 222.52,765.81 221.82,764.99 221.12,774.49 220.42,773.74 219.72,768.52 219.02,766.6 218.32,776.89 217.62,776.53 216.92,767.21 216.22,768.59 215.52,765.55 214.82,772.91 214.12,767.68 213.42,767.94 212.72,763.59 212.03,765.8 211.33,770.08 210.63,769.5 209.93,765.71 209.23,765.54 208.53,776.9 207.83,766.66 207.13,768.27 206.43,772.32 205.73,768.36 205.03,763.81 204.33,766.53 203.63,765.84 202.93,765.65 202.23,767.06 201.53,766.79 200.84,768.7 200.14,767.09 199.44,766.35 198.74,765.84 198.04,767.01 197.34,766.42 196.64,767.53 195.94,767.06 195.24,771.29 194.54,766.68 193.84,767.82 193.14,773.19 192.44,763.98 191.74,764 191.04,764.06 190.34,765.09 189.65,770.08 188.95,767.36 188.25,770.92 187.55,766.33 186.85,787.56 186.15,763.6 185.45,776.09 184.75,766.15 184.05,766.9 183.35,768.72 182.65,775.58 181.95,768.66 181.25,767.07 180.55,766.85 179.85,774.46 179.15,765.7 178.46,768.67 177.76,766.46 177.06,765.82 176.36,767.9 175.66,770.24 174.96,769.85 174.26,770.04 173.56,768.8 172.86,771.44 172.16,768.73 171.46,772.58 170.76,766.69 170.06,770.17 169.36,767.05 168.66,773.53 167.97,775.79 167.27,773.75 166.57,766.77 165.87,763.26 165.17,763.42 164.47,764.52 163.77,766.08 163.07,766.53 162.37,779.79 161.67,767.68 160.97,765.15 160.27,767.73 159.57,770.89 158.87,765.73 158.17,766.92 157.47,767.43 156.78,769.9 156.08,764.06 155.38,766.21 154.68,768.18 153.98,766.89 153.28,768.78 152.58,766.41 151.88,765.6 151.18,764.2 150.48,772.33 149.78,769.74 149.08,770.23 148.38,770.68 147.68,767.64 146.98,766.59 146.28,777.59 145.59,765 144.89,770.6 144.19,767.73 143.49,769.46 142.79,772.04 142.09,770.29 141.39,771.45 140.69,775.49 139.99,774.62 139.29,766.01 138.59,765.37 137.89,770.55 137.19,763.23 136.49,767.37 135.79,766.57 135.1,764.89 134.4,765.31 133.7,767.21 133,764.06 132.3,769.73 131.6,770.25 130.9,773.69 130.2,773.72 129.5,766.2 128.8,769.1 128.1,770.97 127.4,764.79 126.7,767.06 126,765.51 125.3,774.86 124.6,770.6 123.91,765.29 123.21,769.68 122.51,766.18 121.81,768.26 121.11,767.63 120.41,774.7 119.71,765.79 119.01,766.98 118.31,767.24 117.61,767.77 116.91,767.94 116.21,766.99 115.51,770.47 114.81,768.57 114.11,766.51 113.41,768.01 112.72,778.46 112.02,770.62 111.32,765.68 110.62,763.76 109.92,764.4 109.22,763.68 108.52,774.96 107.82,773.36 107.12,764.82 106.42,769.04 105.72,770.14 105.02,781.48 104.32,763.85 103.62,766.21 102.92,764.48 102.22,765.23 101.53,765.21 100.83,767.45 100.13,768.95 99.43,767.18 98.73,769.51 98.03,766.06 97.33,766.36 96.63,769.89 95.93,766.83 95.23,766.08 94.53,767.9 93.83,772.27 93.13,770.84 92.43,770 91.73,766.4 91.04,773.84 90.34,767.12 89.64,765.63 88.94,766.66 88.24,765.4 87.54,780.3 86.84,766.92 86.14,764.91 85.44,766.4 84.74,774.78 84.04,776.63 83.34,769.44 82.64,771.24 81.94,769.45 81.24,769.16 80.54,772.47 79.85,763.89 79.15,767.94 78.45,767.13 77.75,777.26 77.05,763.62 76.35,771.69 75.65,771.74 74.95,768.61 74.6,761" fill="#000"/>
<path d="M151.25 762V812.81M234.63 762V799.11M166.77 762V782.37M374.92 762V786.33M107.43 762V780.85M404.14 762V779.33" stroke="#000" stroke-width="1.2" fill="none" opacity="0.8"/>
<polygon points="75.8,874.5 76.15,870.03 76.85,870.31 77.55,868.53 78.25,869.73 78.95,869.89 79.65,865.09 80.35,868.82 81.05,868.1 81.75,869 82.45,866.85 83.15,869.48 83.85,871.05 84.55,868.95 85.25,869.78 85.95,867.79 86.65,871.1 87.35,869.29 88.05,864.99 88.75,868.26 89.45,871.09 90.15,868.09 90.85,872.28 91.55,871.75 92.25,865.57 92.95,860.28 93.65,868.24 94.35,864.44 95.05,867.71 95.75,865.89 96.45,866.88 97.15,869.41 97.85,869.03 98.55,869.73 99.25,859.66 99.95,864.92 100.65,866.49 101.35,861.5 102.05,865.23 102.75,867.63 103.45,867.35 104.15,866.91 104.85,868.78 105.55,865.26 106.25,870.75 106.95,869.86 107.65,866.53 108.35,868.27 109.05,865.6 109.75,871.33 110.45,869.16 111.15,869.36 111.85,865.15 112.55,871.66 113.25,871.57 113.95,867.74 114.65,868.72 115.35,862.86 116.05,866.29 116.75,866.48 117.45,868.1 118.15,860.81 118.85,869.28 119.55,869.27 120.25,866.76 120.95,869.36 121.65,866.55 122.35,864.41 123.05,866.91 123.75,869.8 124.45,863.35 125.15,866.92 125.85,870.57 126.55,865.82 127.25,871.11 127.95,868.62 128.65,871.72 129.35,867.67 130.05,868.91 130.75,865.77 131.45,868.13 132.15,866 132.85,868.31 133.55,860.85 134.25,867.91 134.95,866.33 135.65,862.97 136.35,869 137.05,864.52 137.75,866.21 138.45,868.4 139.15,869.67 139.85,870.37 140.55,870.7 141.25,869.77 141.95,866.26 142.65,866.51 143.35,866.64 144.05,869.45 144.75,867.31 145.45,869.08 146.15,866.53 146.85,868.45 147.55,870.05 148.25,871.99 148.95,866.2 149.65,870.51 150.35,871.21 151.05,870.12 151.75,870.34 152.45,869.3 153.15,862.91 153.85,869.84 154.55,864.44 155.25,869.77 155.95,866.85 156.65,868.49 157.35,864.49 158.05,867.91 158.75,868.74 159.45,871.66 160.15,870.87 160.85,864.49 161.55,869.01 162.25,866.08 162.95,868.3 163.65,867.4 164.35,865.83 165.05,865.74 165.75,869.04 166.45,864.49 167.15,867.41 167.85,868.75 168.55,865.48 169.25,867.06 169.95,867.94 170.65,871.49 171.35,871.15 172.05,869.11 172.75,869.8 173.45,867.76 174.15,868.01 174.85,866.26 175.55,869.22 176.25,867.29 176.95,871.03 177.65,869.35 178.35,871.3 179.05,869.81 179.75,866.91 180.45,877.94 181.15,870.78 181.85,869.69 182.55,869.06 183.25,868.22 183.95,866.31 184.65,869.47 185.35,868.28 186.05,869.35 186.75,869.6 187.45,870.14 188.15,869.54 188.85,867.01 189.55,864.13 190.25,866.79 190.95,868.64 191.65,865.69 192.35,869.74 193.05,865.42 193.75,870.73 194.45,865.24 195.15,870.39 195.85,877.56 196.55,860.46 197.25,866.02 197.95,865.69 198.65,872.23 199.35,864.06 200.05,871.3 200.75,870.71 201.45,866.73 202.15,870.6 202.85,866.73 203.55,868.46 204.25,869.85 204.95,869.28 205.65,869.33 206.35,867.84 207.05,864.55 207.75,863.87 208.45,860.94 209.15,865.43 209.85,868.52 210.55,866.22 211.25,869.43 211.95,872.12 212.65,869.9 213.35,870.6 214.05,868.9 214.75,869.81 215.45,866.84 216.15,867.83 216.85,868.98 217.55,865.11 218.25,864.76 218.95,870.61 219.65,866.66 220.35,866.98 221.05,863.69 221.75,869.96 222.45,868.9 223.15,863.73 223.85,869.79 224.55,871.72 225.25,870.18 225.95,868.13 226.65,869.31 227.35,868.25 228.05,864.05 228.75,865.36 229.45,867.57 230.15,867.78 230.85,867.72 231.55,863.47 232.25,869.62 232.95,868.05 233.65,864.4 234.35,862.97 235.05,870.8 235.75,865.4 236.45,865.02 237.15,869.65 237.85,864.42 238.55,864.51 239.25,865.62 239.95,869.61 240.65,866.66 241.35,867.72 242.05,870.13 242.75,867.59 243.45,866.18 244.15,867.85 244.85,870.8 245.55,868.98 246.25,866.96 246.95,863.59 247.65,861.39 248.35,868.27 249.05,868.23 249.75,866.87 250.45,869.38 251.15,871.04 251.85,863.94 252.55,870.31 253.25,868.01 253.95,864.72 254.65,866.85 255.35,867.22 256.05,870.15 256.75,868.32 257.45,871.39 258.15,870.52 258.85,871.48 259.55,867.49 260.25,869.47 260.95,869.04 261.65,869.83 262.35,870.45 263.05,870.02 263.75,869.78 264.45,865.71 265.15,868.06 265.85,864.36 266.55,871.67 267.25,867.24 267.95,869.52 268.65,868.75 269.35,867.67 270.05,868.18 270.75,872.21 271.45,869.34 272.15,868.63 272.85,868.38 273.55,867.53 274.25,866.54 274.95,869.39 275.65,872.08 276.35,862.56 277.05,870.64 277.75,863.55 278.45,859.83 279.15,866.32 279.85,869.41 280.55,860.35 281.25,871.41 281.95,866.05 282.65,871.45 283.35,869.85 284.05,868.48 284.75,868.1 285.45,866.49 286.15,866.57 286.85,869.74 287.55,871.27 288.25,863.27 288.95,868.55 289.65,871.4 290.35,867.08 291.05,866.91 291.75,867.35 292.45,870.32 293.15,870.65 293.85,868.95 294.55,866.96 295.25,865.86 295.95,867.9 296.65,868.22 297.35,865.36 298.05,866.36 298.75,861.2 299.45,871.51 300.15,867.68 300.85,860.31 301.55,867.53 302.25,868.44 302.95,871.81 303.65,870.6 304.35,867.12 305.05,869.97 305.75,869.92 306.45,866.14 307.15,866.41 307.85,869.62 308.55,864.94 309.25,869.32 309.95,868.4 310.65,868.63 311.35,867.89 312.05,870.86 312.75,870.79 313.45,864.73 314.15,865.7 314.85,869.94 315.55,870.51 316.25,867.61 316.95,871.16 317.65,870.42 318.35,865.27 319.05,865.65 319.75,867.03 320.45,868.18 321.15,869.31 321.85,869.08 322.55,865.67 323.25,868.75 323.95,867.16 324.65,868.04 325.35,867.67 326.05,868.33 326.75,866.74 327.45,864.55 328.15,866.1 328.85,865.66 329.55,871.59 330.25,867.97 330.95,871.99 331.65,866.16 332.35,870.06 333.05,868.69 333.75,871.53 334.45,866.13 335.15,869.9 335.85,870.37 336.55,868.48 337.25,870.02 337.95,871.15 338.65,869.74 339.35,869.66 340.05,866.21 340.75,868.26 341.45,869.48 342.15,863.24 342.85,867.64 343.55,869.38 344.25,861.61 344.95,870.45 345.65,869.91 346.35,871.12 347.05,862.22 347.75,868.35 348.45,866.35 349.15,868.48 349.85,861.34 350.55,870.33 351.25,869.81 351.95,870.21 352.65,872.29 353.35,872.11 354.05,867.82 354.75,868.45 355.45,867.86 356.15,868.37 356.85,867.3 357.55,865.84 358.25,869.31 358.95,868.53 359.65,869.55 360.35,871.2 361.05,871.26 361.75,867.99 362.45,863.47 363.15,867.32 363.85,864.7 364.55,865.19 365.25,868.01 365.95,870.71 366.65,868.66 367.35,868.89 368.05,867.75 368.75,868.8 369.45,868.77 370.15,869.38 370.85,866.81 371.55,866.78 372.25,864.53 372.95,866.53 373.65,868.2 374.35,867.84 375.05,865.8 375.75,868.89 376.45,871.32 377.15,865.28 377.85,868.02 378.55,869.31 379.25,870.48 379.95,869.75 380.65,869.13 381.35,869.81 382.05,869.38 382.75,868.94 383.45,869.18 384.15,869.19 384.85,869.41 385.55,866.36 386.25,869.87 386.95,870.09 387.65,868.26 388.35,868.63 389.05,864.37 389.75,866.73 390.45,869.28 391.15,868.71 391.85,867 392.55,868.5 393.25,868.74 393.95,870.13 394.65,863.44 395.35,872.25 396.05,866.62 396.75,869.08 397.45,870.48 398.15,868.88 398.85,870.15 399.55,864.79 400.25,863.2 400.95,867.6 401.65,869.43 402.35,872.02 403.05,870.86 403.75,866.44 404.45,864.91 405.15,869.83 405.85,867.43 406.2,874.5 406.2,911.5 405.85,918.83 405.15,918.29 404.45,921.24 403.75,918.46 403.05,919.46 402.35,916.39 401.65,918.69 400.95,918.35 400.25,918.24 399.55,915.64 398.85,915.33 398.15,931.82 397.45,918.14 396.75,914.93 396.05,915.98 395.35,918.48 394.65,918.27 393.95,919.84 393.25,917.82 392.55,916.78 391.85,924.61 391.15,923.77 390.45,915.61 389.75,919.49 389.05,917.2 388.35,917.43 387.65,915.88 386.95,915.87 386.25,915.78 385.55,917.82 384.85,916.59 384.15,922.5 383.45,932.34 382.75,914.68 382.05,915.09 381.35,915.74 380.65,915.74 379.95,919.85 379.25,919.58 378.55,920.01 377.85,918.5 377.15,919.87 376.45,917.72 375.75,922.79 375.05,919.37 374.35,915.09 373.65,923.33 372.95,920.54 372.25,914.84 371.55,913.85 370.85,916.71 370.15,917.32 369.45,916.45 368.75,927.47 368.05,918.22 367.35,915.08 366.65,920.79 365.95,915.68 365.25,916.17 364.55,921 363.85,916.4 363.15,915.45 362.45,921.19 361.75,918.07 361.05,919.21 360.35,914.93 359.65,916.2 358.95,916.55 358.25,919.33 357.55,922.62 356.85,917.34 356.15,921.28 355.45,920.89 354.75,926.53 354.05,917.24 353.35,921.46 352.65,920.42 351.95,921.69 351.25,915.92 350.55,917.14 349.85,914.85 349.15,916.47 348.45,917.6 347.75,918.81 347.05,918.38 346.35,915.9 345.65,913.84 344.95,914.77 344.25,921.08 343.55,914.78 342.85,917.62 342.15,915.08 341.45,915.42 340.75,917.47 340.05,914.62 339.35,917.38 338.65,913.89 337.95,916.19 337.25,915.48 336.55,915.79 335.85,918.2 335.15,921.55 334.45,917.33 333.75,922.65 333.05,922.33 332.35,920.29 331.65,920.43 330.95,920.25 330.25,921.26 329.55,918.51 328.85,916.61 328.15,913.92 327.45,926.46 326.75,917.32 326.05,915.96 325.35,920.46 324.65,918.49 323.95,919.74 323.25,917.95 322.55,915.63 321.85,917.98 321.15,919.24 320.45,920.42 319.75,915.56 319.05,916.46 318.35,915.37 317.65,917.76 316.95,918.22 316.25,915.91 315.55,920.79 314.85,916.76 314.15,926.32 313.45,918.05 312.75,917.5 312.05,915.47 311.35,915.94 310.65,916.79 309.95,924.53 309.25,915.12 308.55,915.33 307.85,914.95 307.15,914.94 306.45,920.42 305.75,915.66 305.05,914.05 304.35,914.31 303.65,916.87 302.95,918.85 302.25,919.14 301.55,927.13 300.85,923.51 300.15,919.52 299.45,922 298.75,916.22 298.05,925.41 297.35,917.18 296.65,917.83 295.95,917.21 295.25,915.73 294.55,919.15 293.85,918.56 293.15,919.22 292.45,921.52 291.75,919.86 291.05,925.59 290.35,917.49 289.65,920.6 288.95,917.3 288.25,914.63 287.55,918.46 286.85,915.99 286.15,918.02 285.45,915.68 284.75,922.89 284.05,927.32 283.35,917.67 282.65,921.26 281.95,929.7 281.25,918.74 280.55,917.79 279.85,915.99 279.15,920.76 278.45,916.88 277.75,915.25 277.05,924.66 276.35,919.21 275.65,919.65 274.95,919.62 274.25,919.15 273.55,931.45 272.85,919.23 272.15,917.39 271.45,919.1 270.75,917.31 270.05,924.4 269.35,918.51 268.65,920.57 267.95,915.88 267.25,916.01 266.55,916.28 265.85,920.9 265.15,918.17 264.45,918.16 263.75,916.03 263.05,918.59 262.35,917.61 261.65,921 260.95,918.71 260.25,924.03 259.55,913.63 258.85,914.21 258.15,916.93 257.45,917.01 256.75,917.48 256.05,916.25 255.35,914.74 254.65,917.63 253.95,916.45 253.25,919.69 252.55,925.43 251.85,917.52 251.15,917.25 250.45,919.79 249.75,919.68 249.05,918.45 248.35,917.84 247.65,918.17 246.95,919.31 246.25,926.85 245.55,919.63 244.85,917.05 244.15,915.41 243.45,916.85 242.75,916.01 242.05,915.19 241.35,918.37 240.65,915.48 239.95,917.73 239.25,923.58 238.55,917.84 237.85,917.4 237.15,914.68 236.45,919.39 235.75,918.17 235.05,918.88 234.35,921.92 233.65,918.6 232.95,918.15 232.25,924.43 231.55,917.9 230.85,922.12 230.15,929.89 229.45,916.31 228.75,921.03 228.05,917.42 227.35,917.16 226.65,918.1 225.95,914.91 225.25,920.88 224.55,922.41 223.85,917.16 223.15,921.7 222.45,920.49 221.75,919.84 221.05,915.36 220.35,919.32 219.65,924.75 218.95,914.8 218.25,921.86 217.55,914.6 216.85,922.88 216.15,918.47 215.45,926.22 214.75,916.89 214.05,921.06 213.35,915.04 212.65,914.24 211.95,915.69 211.25,915.38 210.55,918.47 209.85,917.49 209.15,919.99 208.45,923.18 207.75,915.44 207.05,914.92 206.35,922.93 205.65,916.87 204.95,917.25 204.25,923.97 203.55,918.31 202.85,920.89 202.15,924.12 201.45,918.2 200.75,916.1 200.05,914.6 199.35,915.08 198.65,920.71 197.95,920.67 197.25,917.02 196.55,915.21 195.85,913.85 195.15,919.84 194.45,914.83 193.75,919.65 193.05,921.37 192.35,923.36 191.65,921.64 190.95,918.36 190.25,917.44 189.55,920.21 188.85,915.94 188.15,916.35 187.45,917.29 186.75,916.55 186.05,915.81 185.35,914.08 184.65,914.43 183.95,917.56 183.25,918.76 182.55,915.52 181.85,924.94 181.15,915.82 180.45,917.46 179.75,917.4 179.05,920.51 178.35,918.23 177.65,915.19 176.95,916.36 176.25,914.61 175.55,915.47 174.85,915.41 174.15,917.73 173.45,916.18 172.75,922.56 172.05,916.01 171.35,915.26 170.65,915.91 169.95,924.25 169.25,924.08 168.55,926.23 167.85,915.75 167.15,914.95 166.45,922.17 165.75,918.7 165.05,916.57 164.35,919.11 163.65,915.69 162.95,916.43 162.25,919.18 161.55,925.89 160.85,917.83 160.15,917.73 159.45,918.76 158.75,921.31 158.05,916.75 157.35,916.67 156.65,916.37 155.95,915.95 155.25,926.58 154.55,917.39 153.85,918.25 153.15,917.58 152.45,914.05 151.75,922.79 151.05,916.44 150.35,915.11 149.65,921.45 148.95,916.13 148.25,915.48 147.55,915.34 146.85,917.95 146.15,926.87 145.45,916 144.75,917.36 144.05,915.18 143.35,917.8 142.65,918.28 141.95,916.74 141.25,919.43 140.55,916.62 139.85,916.32 139.15,917.46 138.45,915.98 137.75,916.89 137.05,919.03 136.35,916.36 135.65,919.61 134.95,916.12 134.25,915.89 133.55,914.82 132.85,916.14 132.15,914.44 131.45,917.35 130.75,920.01 130.05,915.86 129.35,916.63 128.65,921.86 127.95,918.93 127.25,926.61 126.55,924.16 125.85,918.55 125.15,916.42 124.45,922.07 123.75,921.28 123.05,917.19 122.35,916.4 121.65,916.19 120.95,915.06 120.25,917.63 119.55,915.84 118.85,917.19 118.15,922.94 117.45,920.33 116.75,917.45 116.05,922.68 115.35,914.15 114.65,913.99 113.95,916.04 113.25,917.72 112.55,917.43 111.85,918.53 111.15,917.06 110.45,922.83 109.75,915.57 109.05,930.72 108.35,916.43 107.65,918.36 106.95,915.1 106.25,914.65 105.55,920.58 104.85,921.84 104.15,914.36 103.45,916.47 102.75,914.61 102.05,915.81 101.35,918.69 100.65,920.05 99.95,919.18 99.25,917.38 98.55,922.66 97.85,916.83 97.15,918.47 96.45,915.61 95.75,919.34 95.05,915.35 94.35,917.64 93.65,920.44 92.95,922.08 92.25,916.98 91.55,924.09 90.85,920.18 90.15,914.85 89.45,915.32 88.75,914.08 88.05,915.32 87.35,921.21 86.65,927.87 85.95,918.35 85.25,917.25 84.55,915.31 83.85,926.16 83.15,924.69 82.45,918.69 81.75,915.17 81.05,917.22 80.35,915 79.65,917.77 78.95,915.93 78.25,918.23 77.55,931.19 76.85,921.84 76.15,917.1 75.8,911.5" fill="#E03020"/>
<path d="M88.56 912.5V936.66M167.38 912.5V948.23M267.19 912.5V952.79M405.66 912.5V931.49" stroke="#E03020" stroke-width="1.2" fill="none" opacity="0.8"/>
<path d="M303.7 976.5V1027.3H234" fill="none" stroke="#000" stroke-width="3" stroke-linejoin="miter"/>
<text x="315.6" y="1015.8" font-size="34.5">20 pA</text>
<text x="244.4" y="1060.2" font-size="34.5">2 s</text>
<text x="6.85" y="1250.1" font-size="40">g</text>
<text font-size="34.5" textLength="280.75" lengthAdjust="spacingAndGlyphs" transform="translate(26.1 1597.1) rotate(-90)">mIPSC recordings</text>
<text x="71.5" y="1276" font-size="34.5">WT</text>
<text x="74.3" y="1495" font-size="34.5" fill="#3244A2" font-style="italic">RIIβ<tspan font-size="20.01" dy="-10.87" dx="-0.4">-/-</tspan></text>
<polygon points="73.3,1305.5 73.65,1302.81 74.35,1304.25 75.05,1296.57 75.75,1304.9 76.45,1305.16 77.15,1299.96 77.85,1303.04 78.55,1304.29 79.25,1305.89 79.95,1305.31 80.65,1301.64 81.35,1305.74 82.05,1304.45 82.75,1302.03 83.45,1296.95 84.15,1300.42 84.85,1298.55 85.55,1296.01 86.25,1297.92 86.95,1302.33 87.65,1302.19 88.35,1303.04 89.05,1301.93 89.75,1303.03 90.44,1301.75 91.14,1303.36 91.84,1304.69 92.54,1302.14 93.24,1304.03 93.94,1304.94 94.64,1302.53 95.34,1303.24 96.04,1306.29 96.74,1305.9 97.44,1305.44 98.14,1304.04 98.84,1304.35 99.54,1300.25 100.24,1305.41 100.94,1299.22 101.64,1304.29 102.34,1303.47 103.04,1304.45 103.74,1303.5 104.44,1303.89 105.14,1299.54 105.84,1300.23 106.54,1302.43 107.24,1302 107.94,1301.98 108.64,1296.44 109.34,1301.39 110.04,1298.4 110.74,1301.15 111.44,1300.41 112.14,1297.91 112.84,1303.05 113.54,1295.35 114.24,1302.76 114.94,1305.05 115.64,1302.61 116.34,1299.61 117.04,1301.86 117.74,1298.72 118.44,1300.43 119.14,1304.94 119.84,1301.11 120.54,1305.54 121.24,1294.41 121.94,1301.81 122.64,1297 123.34,1298.64 124.03,1298.23 124.73,1304.05 125.43,1300.95 126.13,1298.92 126.83,1300.64 127.53,1303.51 128.23,1302.15 128.93,1303.29 129.63,1295.7 130.33,1302.94 131.03,1300.76 131.73,1299.51 132.43,1298.77 133.13,1299.39 133.83,1301.39 134.53,1303.2 135.23,1300.14 135.93,1300.46 136.63,1300.22 137.33,1303.51 138.03,1312.95 138.73,1300.59 139.43,1300.86 140.13,1300.01 140.83,1300.94 141.53,1300.66 142.23,1300.42 142.93,1300.23 143.63,1299.96 144.33,1303.79 145.03,1298.14 145.73,1310.79 146.43,1303.34 147.13,1301.26 147.83,1301.93 148.53,1295.23 149.23,1300.36 149.93,1302.36 150.63,1305.07 151.33,1302.98 152.03,1301.96 152.73,1304.09 153.43,1295.21 154.13,1298.71 154.83,1301.46 155.53,1294.2 156.23,1297.63 156.93,1305.06 157.62,1299.33 158.32,1302.68 159.02,1303.59 159.72,1299.4 160.42,1297.77 161.12,1302.01 161.82,1303.56 162.52,1296.05 163.22,1297.96 163.92,1302.16 164.62,1300.11 165.32,1297.96 166.02,1299.86 166.72,1299.48 167.42,1299.59 168.12,1297.4 168.82,1296.58 169.52,1301.66 170.22,1299.67 170.92,1296.14 171.62,1296.17 172.32,1298.06 173.02,1298.53 173.72,1299.72 174.42,1295.98 175.12,1300.19 175.82,1304.01 176.52,1303.79 177.22,1299.42 177.92,1296.83 178.62,1296.58 179.32,1301.51 180.02,1299.62 180.72,1301.59 181.42,1301.55 182.12,1300.96 182.82,1293.97 183.52,1302.18 184.22,1296.94 184.92,1302.12 185.62,1300.03 186.32,1301.02 187.02,1302.65 187.72,1301.49 188.42,1300.1 189.12,1301.19 189.82,1302 190.51,1302.41 191.21,1303.26 191.91,1299.98 192.61,1302.44 193.31,1301.41 194.01,1298.57 194.71,1302.63 195.41,1302.51 196.11,1303.78 196.81,1302.16 197.51,1291.48 198.21,1295.72 198.91,1298.13 199.61,1299.16 200.31,1301.53 201.01,1302.33 201.71,1300.42 202.41,1297.11 203.11,1301.53 203.81,1301.24 204.51,1301.64 205.21,1297.71 205.91,1299.88 206.61,1301.25 207.31,1298.4 208.01,1299.7 208.71,1301.61 209.41,1300.13 210.11,1300.47 210.81,1302.37 211.51,1300.08 212.21,1297.43 212.91,1298.85 213.61,1300.14 214.31,1298.6 215.01,1301.44 215.71,1297.19 216.41,1303.19 217.11,1303.7 217.81,1298.84 218.51,1301.14 219.21,1301.15 219.91,1295.42 220.61,1299.78 221.31,1298.54 222.01,1299.81 222.71,1298.64 223.41,1299.14 224.1,1300.09 224.8,1299.33 225.5,1297.92 226.2,1301.29 226.9,1299.45 227.6,1302.59 228.3,1299.94 229,1302.18 229.7,1296.92 230.4,1299.98 231.1,1302.01 231.8,1301.23 232.5,1301.76 233.2,1298.76 233.9,1299.51 234.6,1300.4 235.3,1299.09 236,1303.05 236.7,1299.92 237.4,1302.46 238.1,1301.93 238.8,1295.19 239.5,1297.91 240.2,1295.03 240.9,1295.7 241.6,1299.46 242.3,1300.58 243,1300.47 243.7,1297.64 244.4,1299.24 245.1,1298.26 245.8,1294.24 246.5,1301.43 247.2,1300.16 247.9,1300.85 248.6,1301.62 249.3,1298.01 250,1298.56 250.7,1298.41 251.4,1298.24 252.1,1300.27 252.8,1301.89 253.5,1297.17 254.2,1299.22 254.9,1303.08 255.6,1299.78 256.3,1301.88 257,1299.38 257.69,1298.59 258.39,1299.04 259.09,1299.3 259.79,1300.26 260.49,1298.33 261.19,1301.63 261.89,1300.06 262.59,1299.69 263.29,1300.48 263.99,1297.38 264.69,1300.76 265.39,1296.58 266.09,1295.91 266.79,1298.06 267.49,1298.98 268.19,1297.04 268.89,1299.23 269.59,1302.58 270.29,1293.81 270.99,1301.39 271.69,1296.75 272.39,1294.29 273.09,1295.74 273.79,1298.31 274.49,1300.93 275.19,1288.87 275.89,1295.23 276.59,1297.65 277.29,1300.21 277.99,1297.13 278.69,1297.99 279.39,1296.95 280.09,1298.93 280.79,1297.01 281.49,1299.66 282.19,1298.72 282.89,1298.33 283.59,1299.54 284.29,1291.23 284.99,1299.29 285.69,1300.6 286.39,1300.71 287.09,1298.36 287.79,1295.83 288.49,1293.08 289.19,1293.1 289.89,1290.16 290.59,1297.7 291.28,1299.24 291.98,1296.85 292.68,1295 293.38,1297.69 294.08,1301.57 294.78,1293.83 295.48,1299.38 296.18,1295.03 296.88,1297.47 297.58,1300.4 298.28,1299.27 298.98,1299.22 299.68,1298.36 300.38,1286.79 301.08,1296.98 301.78,1295.18 302.48,1296.06 303.18,1295.57 303.88,1295.79 304.58,1295.32 305.28,1301.15 305.98,1300.11 306.68,1294.81 307.38,1299.23 308.08,1296.56 308.78,1300.8 309.48,1301.96 310.18,1298.36 310.88,1297.73 311.58,1294.77 312.28,1293.6 312.98,1296.99 313.68,1293.74 314.38,1299.12 315.08,1300.76 315.78,1294.4 316.48,1295.98 317.18,1299.46 317.88,1294.75 318.58,1295.94 319.28,1297.04 319.98,1292.18 320.68,1301.07 321.38,1299.34 322.08,1300 322.78,1300.49 323.48,1298.37 324.18,1298.95 324.87,1297.59 325.57,1297.06 326.27,1296.53 326.97,1296.32 327.67,1298.43 328.37,1301.1 329.07,1289.62 329.77,1298.01 330.47,1296.83 331.17,1298.87 331.87,1300.24 332.57,1298.48 333.27,1294.76 333.97,1292.82 334.67,1295.21 335.37,1294.69 336.07,1299.35 336.77,1294.34 337.47,1291.1 338.17,1297.35 338.87,1295.14 339.57,1299.28 340.27,1294.64 340.97,1297.54 341.67,1296.68 342.37,1291.3 343.07,1296.66 343.77,1296.11 344.47,1297.44 345.17,1293.68 345.87,1299.72 346.57,1293.79 347.27,1292.67 347.97,1293.51 348.67,1298.66 349.37,1300.16 350.07,1299.72 350.77,1291.36 351.47,1296.07 352.17,1296.11 352.87,1294.53 353.57,1294.31 354.27,1294.84 354.97,1296 355.67,1297.88 356.37,1297.77 357.07,1299.03 357.76,1298.1 358.46,1294.53 359.16,1297.23 359.86,1297.97 360.56,1298.81 361.26,1296.56 361.96,1294.82 362.66,1296.38 363.36,1296.89 364.06,1297.85 364.76,1295.32 365.46,1299.44 366.16,1300.42 366.86,1296.24 367.56,1293.23 368.26,1295.26 368.96,1298.79 369.66,1293.6 370.36,1298.98 371.06,1296.67 371.76,1299.69 372.46,1297.23 373.16,1295.5 373.86,1298.49 374.56,1295.41 375.26,1295.54 375.96,1297.05 376.66,1293.38 377.36,1297.93 378.06,1290.04 378.76,1295.37 379.46,1295.34 380.16,1296.13 380.86,1299.15 381.56,1300.47 382.26,1294.73 382.96,1300.29 383.66,1295.33 384.36,1297.67 385.06,1297.74 385.76,1297.02 386.46,1298.92 387.16,1297.96 387.86,1295.89 388.56,1293.27 389.26,1295.04 389.96,1292.86 390.66,1297.78 391.35,1296.68 392.05,1292.56 392.75,1297.7 393.45,1297.75 394.15,1293.77 394.85,1297.34 395.55,1297.55 396.25,1296.24 396.95,1295.4 397.65,1295.61 398.35,1296.88 399.05,1299.67 399.75,1297.87 400.45,1290.61 401.15,1296.84 401.85,1296.86 402.55,1293.68 403.25,1293.24 403.95,1292.89 404.65,1294.07 405.35,1292.72 406.05,1295.58 406.75,1295.36 407.45,1290.52 407.8,1305.5 407.8,1325.5 407.45,1330.42 406.75,1332.74 406.05,1332.1 405.35,1355.5 404.65,1327.18 403.95,1330.51 403.25,1330.92 402.55,1328.94 401.85,1335.3 401.15,1328.26 400.45,1332.47 399.75,1328.5 399.05,1329.3 398.35,1332.35 397.65,1336.63 396.95,1328.57 396.25,1326.29 395.55,1326.02 394.85,1327.06 394.15,1331.75 393.45,1329.25 392.75,1328.76 392.05,1327.21 391.35,1328.17 390.66,1328.98 389.96,1335.08 389.26,1324.94 388.56,1326.27 387.86,1329.97 387.16,1333.53 386.46,1330.43 385.76,1327.64 385.06,1328.21 384.36,1335.29 383.66,1327.38 382.96,1347.61 382.26,1329.42 381.56,1337.75 380.86,1334.99 380.16,1338.51 379.46,1329.12 378.76,1329.07 378.06,1332.07 377.36,1337.9 376.66,1329.43 375.96,1334.63 375.26,1328.45 374.56,1327.93 373.86,1335.52 373.16,1332.89 372.46,1332.06 371.76,1331.92 371.06,1326.58 370.36,1327.38 369.66,1335.74 368.96,1332.27 368.26,1331.62 367.56,1332.59 366.86,1331 366.16,1327.03 365.46,1325.77 364.76,1330.27 364.06,1333.34 363.36,1330.95 362.66,1333.85 361.96,1334.1 361.26,1336.06 360.56,1329.52 359.86,1333.82 359.16,1333.68 358.46,1328.08 357.76,1330.86 357.07,1330.58 356.37,1330.35 355.67,1327.83 354.97,1330.43 354.27,1329.31 353.57,1343.03 352.87,1327.91 352.17,1329.15 351.47,1335.87 350.77,1331.74 350.07,1327.58 349.37,1329.69 348.67,1328.05 347.97,1328.46 347.27,1331.7 346.57,1332.44 345.87,1328.66 345.17,1334.86 344.47,1326.76 343.77,1332.56 343.07,1329.82 342.37,1327.67 341.67,1345.59 340.97,1328.75 340.27,1330.67 339.57,1328.27 338.87,1332.14 338.17,1332.64 337.47,1326.38 336.77,1335.45 336.07,1330.95 335.37,1328 334.67,1332.1 333.97,1334.14 333.27,1344.65 332.57,1335.21 331.87,1337.74 331.17,1329.14 330.47,1351.52 329.77,1329.59 329.07,1337.6 328.37,1329.62 327.67,1328.14 326.97,1332.09 326.27,1333.93 325.57,1327.1 324.87,1327.54 324.18,1327.39 323.48,1326.6 322.78,1327.32 322.08,1327.02 321.38,1330.78 320.68,1331.55 319.98,1329.24 319.28,1328.27 318.58,1331.32 317.88,1334.65 317.18,1330.95 316.48,1326.52 315.78,1328.03 315.08,1330.82 314.38,1330.05 313.68,1329.31 312.98,1331.02 312.28,1327.02 311.58,1335.39 310.88,1328.1 310.18,1331.07 309.48,1333.72 308.78,1331.54 308.08,1339.92 307.38,1331.41 306.68,1334.09 305.98,1329.89 305.28,1329.48 304.58,1338.02 303.88,1330.01 303.18,1327.93 302.48,1330.35 301.78,1327.12 301.08,1327.27 300.38,1328.01 299.68,1327.13 298.98,1331.95 298.28,1330.18 297.58,1331.46 296.88,1330.25 296.18,1331.84 295.48,1329.6 294.78,1328.2 294.08,1332.37 293.38,1333.67 292.68,1331.03 291.98,1331.37 291.28,1330.78 290.59,1327.35 289.89,1339.25 289.19,1330.22 288.49,1334.33 287.79,1329.53 287.09,1328.67 286.39,1333.98 285.69,1330.66 284.99,1335.42 284.29,1335.33 283.59,1332.61 282.89,1334.64 282.19,1331.14 281.49,1328.14 280.79,1329.16 280.09,1335.26 279.39,1330.64 278.69,1335.8 277.99,1330.31 277.29,1330.12 276.59,1335.44 275.89,1337.12 275.19,1329.3 274.49,1340.42 273.79,1332.69 273.09,1329.26 272.39,1332.93 271.69,1327.36 270.99,1330.38 270.29,1331.35 269.59,1355.23 268.89,1334.4 268.19,1335.95 267.49,1338.91 266.79,1333.37 266.09,1330.37 265.39,1328.24 264.69,1328.52 263.99,1331.2 263.29,1329.37 262.59,1330.76 261.89,1331.49 261.19,1335.51 260.49,1333.81 259.79,1339.97 259.09,1335.18 258.39,1333.7 257.69,1335.87 257,1344.59 256.3,1332.75 255.6,1333.92 254.9,1329.88 254.2,1334.35 253.5,1334.43 252.8,1338.56 252.1,1328.31 251.4,1328.66 250.7,1334.63 250,1342.04 249.3,1327.37 248.6,1335.19 247.9,1331.22 247.2,1330.07 246.5,1331.24 245.8,1330.86 245.1,1333.68 244.4,1331.86 243.7,1331.25 243,1331.95 242.3,1335.85 241.6,1329.35 240.9,1339.29 240.2,1332.05 239.5,1332.8 238.8,1331.67 238.1,1332.21 237.4,1330.88 236.7,1329.11 236,1336.02 235.3,1331.52 234.6,1330.97 233.9,1335.56 233.2,1335.34 232.5,1333.44 231.8,1330.83 231.1,1334.31 230.4,1333.05 229.7,1333.71 229,1342.08 228.3,1332.1 227.6,1333.28 226.9,1339.01 226.2,1331.23 225.5,1332.72 224.8,1329.83 224.1,1331.99 223.41,1335.29 222.71,1334.42 222.01,1328.73 221.31,1332.77 220.61,1347.38 219.91,1332.89 219.21,1330.21 218.51,1331.87 217.81,1331.56 217.11,1332.57 216.41,1333.32 215.71,1333.76 215.01,1337.65 214.31,1331.83 213.61,1341.02 212.91,1332.73 212.21,1343.03 211.51,1330.94 210.81,1332.01 210.11,1334.62 209.41,1341.22 208.71,1335.29 208.01,1332.17 207.31,1336.82 206.61,1332.66 205.91,1336.16 205.21,1330.26 204.51,1329.1 203.81,1335.39 203.11,1330.24 202.41,1339.78 201.71,1331.23 201.01,1330.27 200.31,1330.57 199.61,1330.92 198.91,1333.01 198.21,1330.3 197.51,1332.69 196.81,1330.88 196.11,1330.75 195.41,1332.81 194.71,1335.33 194.01,1330.38 193.31,1328.54 192.61,1331.94 191.91,1333.2 191.21,1330.31 190.51,1329.18 189.82,1329.85 189.12,1333.35 188.42,1344.75 187.72,1335.89 187.02,1334.88 186.32,1336.71 185.62,1333.88 184.92,1330.54 184.22,1334.96 183.52,1335.41 182.82,1331.9 182.12,1332.89 181.42,1334.1 180.72,1329.29 180.02,1338.61 179.32,1332.72 178.62,1331.58 177.92,1332.31 177.22,1335.61 176.52,1332.26 175.82,1334.5 175.12,1343.72 174.42,1345.75 173.72,1335.22 173.02,1338.55 172.32,1339.44 171.62,1330.24 170.92,1330.17 170.22,1330.97 169.52,1337.07 168.82,1330.9 168.12,1329.86 167.42,1335.86 166.72,1329.65 166.02,1353.84 165.32,1333.18 164.62,1334.99 163.92,1336.59 163.22,1334.12 162.52,1332.34 161.82,1333.44 161.12,1334.09 160.42,1344.62 159.72,1334.14 159.02,1332.07 158.32,1341.99 157.62,1338.81 156.93,1337.27 156.23,1331.43 155.53,1336.32 154.83,1336.94 154.13,1335.71 153.43,1335.69 152.73,1329.61 152.03,1332.86 151.33,1335.43 150.63,1332.07 149.93,1336.28 149.23,1334.04 148.53,1332.32 147.83,1335.14 147.13,1358.7 146.43,1345.31 145.73,1336.65 145.03,1333.12 144.33,1342.54 143.63,1331.9 142.93,1334.65 142.23,1341.7 141.53,1334.36 140.83,1334.69 140.13,1333.94 139.43,1333.1 138.73,1331.41 138.03,1336.89 137.33,1331.87 136.63,1333.66 135.93,1332.7 135.23,1332.36 134.53,1335.08 133.83,1336.15 133.13,1334.78 132.43,1336.49 131.73,1331.66 131.03,1332.4 130.33,1331.35 129.63,1334.82 128.93,1333.68 128.23,1342.91 127.53,1336.48 126.83,1333.12 126.13,1334.96 125.43,1334.49 124.73,1332.05 124.03,1332.43 123.34,1338.18 122.64,1338.85 121.94,1333.53 121.24,1338.29 120.54,1335.45 119.84,1331.32 119.14,1330.82 118.44,1333.81 117.74,1337.5 117.04,1335.24 116.34,1339.46 115.64,1331.41 114.94,1334.02 114.24,1335.02 113.54,1360.75 112.84,1334.61 112.14,1338.18 111.44,1336.81 110.74,1335.11 110.04,1334.91 109.34,1333.19 108.64,1331.52 107.94,1336.11 107.24,1333.45 106.54,1334.99 105.84,1333.29 105.14,1336.27 104.44,1336.19 103.74,1334.92 103.04,1334.44 102.34,1332.71 101.64,1338.45 100.94,1333.38 100.24,1335.78 99.54,1339.44 98.84,1332.95 98.14,1337 97.44,1336.06 96.74,1341.9 96.04,1335.96 95.34,1340.51 94.64,1340.52 93.94,1340.78 93.24,1333.79 92.54,1336.53 91.84,1336.67 91.14,1332.01 90.44,1333.13 89.75,1332.24 89.05,1332.09 88.35,1339.34 87.65,1335.31 86.95,1332.11 86.25,1336.6 85.55,1336.19 84.85,1333.44 84.15,1333.5 83.45,1345.13 82.75,1338.5 82.05,1335.69 81.35,1336.67 80.65,1333.96 79.95,1336.39 79.25,1334 78.55,1335.2 77.85,1331.82 77.15,1337.8 76.45,1347.41 75.75,1335.58 75.05,1342.29 74.35,1334.86 73.65,1333.54 73.3,1325.5" fill="#000"/>
<path d="M101.34 1326.5V1421.55M119.29 1326.5V1397.2M185.03 1326.5V1370.42M188.68 1326.5V1378.03M205.42 1326.5V1424.59M226.72 1326.5V1387.16M231.89 1326.5V1378.03M261.11 1326.5V1374.98M264.15 1326.5V1385.03M304.32 1326.5V1444.37M315.89 1326.5V1362.81M364.58 1326.5V1373.46M370.66 1326.5V1408.46M406.57 1326.5V1391.11M81.56 1326.5V1346.07M155.81 1326.5V1349.12M250.15 1326.5V1353.68M377.36 1326.5V1355.2M394.7 1326.5V1346.07" stroke="#000" stroke-width="1.2" fill="none" opacity="0.8"/>
<polygon points="73.3,1519 73.65,1515.85 74.35,1514.32 75.05,1516.11 75.75,1512 76.45,1505.42 77.15,1511.75 77.85,1511.98 78.55,1510.43 79.25,1509.25 79.95,1513.86 80.65,1506.61 81.35,1514.08 82.05,1516.98 82.75,1511.75 83.45,1516.59 84.15,1516.2 84.85,1515.87 85.55,1515.83 86.25,1514.5 86.95,1513.67 87.65,1514.78 88.35,1510.24 89.05,1512.01 89.75,1515.3 90.44,1513.97 91.14,1512.68 91.84,1511.15 92.54,1513.28 93.24,1514.42 93.94,1512.34 94.64,1511.52 95.34,1508.73 96.04,1511.88 96.74,1512.29 97.44,1515.88 98.14,1515.88 98.84,1506.93 99.54,1510.89 100.24,1512.69 100.94,1515 101.64,1511.65 102.34,1514.65 103.04,1513.54 103.74,1513.49 104.44,1516.53 105.14,1511.84 105.84,1511.33 106.54,1512.4 107.24,1513.62 107.94,1511.36 108.64,1512.86 109.34,1510.11 110.04,1513.48 110.74,1513.97 111.44,1513.52 112.14,1506.31 112.84,1509.35 113.54,1512.54 114.24,1512.96 114.94,1512.59 115.64,1515.02 116.34,1512.67 117.04,1513.76 117.74,1512.42 118.44,1514.44 119.14,1512.51 119.84,1513.78 120.54,1512.58 121.24,1509.16 121.94,1516.36 122.64,1513.11 123.34,1514.57 124.03,1511.55 124.73,1510.57 125.43,1515.7 126.13,1513.93 126.83,1515.42 127.53,1509.98 128.23,1515.2 128.93,1515.32 129.63,1515.34 130.33,1512.07 131.03,1508.56 131.73,1513.57 132.43,1514.12 133.13,1513.41 133.83,1515.38 134.53,1511.61 135.23,1511.98 135.93,1512.3 136.63,1513 137.33,1512.51 138.03,1512.04 138.73,1513.17 139.43,1507.7 140.13,1513.67 140.83,1516.93 141.53,1510.89 142.23,1516.63 142.93,1514.37 143.63,1511.55 144.33,1515.05 145.03,1514.99 145.73,1512.55 146.43,1508.19 147.13,1515.26 147.83,1515.92 148.53,1514.72 149.23,1511.81 149.93,1510.7 150.63,1512.57 151.33,1508.85 152.03,1513.44 152.73,1508.69 153.43,1512.44 154.13,1513.54 154.83,1507.72 155.53,1519.66 156.23,1515.03 156.93,1514.48 157.62,1515.16 158.32,1516.17 159.02,1515.08 159.72,1514.04 160.42,1513.67 161.12,1514.5 161.82,1510.68 162.52,1513.4 163.22,1514.29 163.92,1515.41 164.62,1514.36 165.32,1514.28 166.02,1513.18 166.72,1514.78 167.42,1515.66 168.12,1513.82 168.82,1513 169.52,1512.89 170.22,1512.02 170.92,1507.8 171.62,1513.04 172.32,1515.2 173.02,1503.44 173.72,1515.04 174.42,1512.59 175.12,1513.72 175.82,1512.58 176.52,1513.6 177.22,1512.15 177.92,1514.07 178.62,1513.34 179.32,1515.86 180.02,1510.66 180.72,1511.9 181.42,1510.79 182.12,1514.36 182.82,1513.7 183.52,1514.16 184.22,1511.27 184.92,1510.37 185.62,1510.45 186.32,1512.43 187.02,1512.89 187.72,1516.49 188.42,1516.71 189.12,1512.84 189.82,1513.27 190.51,1512.26 191.21,1514.96 191.91,1514.31 192.61,1515.52 193.31,1511.97 194.01,1514.69 194.71,1516.8 195.41,1513.46 196.11,1511.82 196.81,1513.76 197.51,1510.17 198.21,1513.73 198.91,1514.9 199.61,1514.24 200.31,1513.47 201.01,1515.84 201.71,1512.11 202.41,1510.21 203.11,1512.45 203.81,1513.93 204.51,1516.79 205.21,1512.38 205.91,1511.07 206.61,1515.24 207.31,1508.28 208.01,1513.46 208.71,1511.65 209.41,1515.2 210.11,1514.64 210.81,1511.67 211.51,1507.05 212.21,1512.9 212.91,1514.08 213.61,1515.03 214.31,1512.32 215.01,1510.37 215.71,1510.6 216.41,1515.06 217.11,1509.58 217.81,1508.22 218.51,1508.69 219.21,1510.63 219.91,1513.59 220.61,1513.62 221.31,1515.7 222.01,1516.03 222.71,1514.76 223.41,1511.18 224.1,1511.68 224.8,1513.73 225.5,1511.76 226.2,1511.99 226.9,1510.36 227.6,1515.2 228.3,1511.69 229,1514.27 229.7,1511.35 230.4,1513.91 231.1,1510.51 231.8,1515.4 232.5,1514.5 233.2,1514.4 233.9,1513.8 234.6,1513.31 235.3,1513.56 236,1513.75 236.7,1514.27 237.4,1513.1 238.1,1515.16 238.8,1511.92 239.5,1509.15 240.2,1515 240.9,1516.55 241.6,1516.65 242.3,1513.66 243,1519.95 243.7,1516.79 244.4,1516.04 245.1,1515.5 245.8,1513.47 246.5,1510.75 247.2,1509.3 247.9,1512.52 248.6,1510.68 249.3,1514.5 250,1506.44 250.7,1515.78 251.4,1509.74 252.1,1514.51 252.8,1511.79 253.5,1509.34 254.2,1509.12 254.9,1513.13 255.6,1509.7 256.3,1511.54 257,1513.05 257.69,1511.89 258.39,1513.38 259.09,1511.1 259.79,1515.11 260.49,1513.04 261.19,1512.81 261.89,1512.47 262.59,1519 263.29,1508.36 263.99,1512.47 264.69,1512.26 265.39,1510.6 266.09,1513.35 266.79,1513.81 267.49,1508.69 268.19,1514.31 268.89,1515.15 269.59,1516.27 270.29,1514.06 270.99,1515.3 271.69,1514.54 272.39,1509.95 273.09,1513.39 273.79,1509.25 274.49,1511.5 275.19,1515.43 275.89,1513.52 276.59,1516.44 277.29,1514.16 277.99,1514.44 278.69,1508.62 279.39,1514.84 280.09,1515.13 280.79,1511.81 281.49,1514.5 282.19,1516.58 282.89,1515.18 283.59,1514.74 284.29,1509.65 284.99,1512.09 285.69,1511.98 286.39,1508.88 287.09,1514.96 287.79,1516.21 288.49,1515.06 289.19,1515.34 289.89,1514.2 290.59,1513.53 291.28,1516.6 291.98,1516.66 292.68,1515.92 293.38,1516.52 294.08,1512.37 294.78,1513.76 295.48,1512.98 296.18,1514.71 296.88,1516.56 297.58,1515.83 298.28,1510.22 298.98,1516.17 299.68,1512.92 300.38,1512.88 301.08,1509.49 301.78,1510.71 302.48,1514.92 303.18,1511.65 303.88,1512.2 304.58,1514.9 305.28,1515.42 305.98,1510.68 306.68,1514.46 307.38,1514.08 308.08,1505.74 308.78,1513.98 309.48,1515.1 310.18,1514.15 310.88,1515.77 311.58,1510.89 312.28,1507 312.98,1515.82 313.68,1515.04 314.38,1514.72 315.08,1512.52 315.78,1516.84 316.48,1509.85 317.18,1511.6 317.88,1512.06 318.58,1513.97 319.28,1513.17 319.98,1512.47 320.68,1505.15 321.38,1511.52 322.08,1514.11 322.78,1512.15 323.48,1512.34 324.18,1514.39 324.87,1510.34 325.57,1511.85 326.27,1514.3 326.97,1509.12 327.67,1512.76 328.37,1507.45 329.07,1513.76 329.77,1515.04 330.47,1512.39 331.17,1514.02 331.87,1514.6 332.57,1516.26 333.27,1512.26 333.97,1514.7 334.67,1515.98 335.37,1513.53 336.07,1512.27 336.77,1511.71 337.47,1515.21 338.17,1512.29 338.87,1513.41 339.57,1514 340.27,1513.22 340.97,1513.4 341.67,1510.94 342.37,1512.62 343.07,1513.8 343.77,1513.63 344.47,1512.87 345.17,1516.28 345.87,1513.19 346.57,1510.58 347.27,1507.98 347.97,1507.58 348.67,1513.44 349.37,1514.55 350.07,1514.51 350.77,1511.6 351.47,1515.66 352.17,1509.87 352.87,1513.39 353.57,1513.63 354.27,1513.19 354.97,1508.29 355.67,1510.83 356.37,1511.14 357.07,1513.31 357.76,1510.32 358.46,1510.69 359.16,1510.35 359.86,1513.66 360.56,1513.65 361.26,1514.09 361.96,1513.59 362.66,1507.78 363.36,1513.82 364.06,1512.81 364.76,1507.99 365.46,1510.88 366.16,1511.99 366.86,1513.02 367.56,1510.47 368.26,1512.86 368.96,1509.92 369.66,1513.03 370.36,1505.03 371.06,1510.33 371.76,1507.21 372.46,1511.32 373.16,1513.53 373.86,1512.08 374.56,1514.93 375.26,1513.97 375.96,1516.33 376.66,1515.43 377.36,1516.56 378.06,1512.54 378.76,1514.63 379.46,1513.95 380.16,1513.96 380.86,1514.75 381.56,1514.33 382.26,1516.2 382.96,1508 383.66,1514.79 384.36,1514.16 385.06,1511.8 385.76,1512.91 386.46,1510.39 387.16,1513.97 387.86,1513.28 388.56,1511.53 389.26,1512.43 389.96,1510.47 390.66,1511.44 391.35,1512.71 392.05,1512.23 392.75,1515.42 393.45,1508.07 394.15,1513.78 394.85,1513.4 395.55,1513.8 396.25,1515.89 396.95,1511.63 397.65,1514.2 398.35,1511.38 399.05,1516.9 399.75,1515.01 400.45,1513.6 401.15,1513.57 401.85,1514.61 402.55,1515.24 403.25,1515.21 403.95,1514.66 404.65,1511.76 405.35,1512.5 406.05,1509.43 406.75,1512.15 407.45,1510.02 407.8,1519 407.8,1536 407.45,1540.05 406.75,1541.51 406.05,1545.08 405.35,1546.76 404.65,1544.73 403.95,1548.26 403.25,1541.82 402.55,1544.11 401.85,1541.35 401.15,1541.2 400.45,1539.91 399.75,1542.58 399.05,1545.99 398.35,1541.23 397.65,1539.65 396.95,1543.46 396.25,1543.16 395.55,1544.08 394.85,1542.91 394.15,1541.42 393.45,1540.01 392.75,1542.54 392.05,1546.51 391.35,1543.99 390.66,1542.08 389.96,1540.81 389.26,1540.64 388.56,1540.69 387.86,1543.56 387.16,1541.53 386.46,1543.94 385.76,1543.91 385.06,1544.98 384.36,1542.45 383.66,1544.01 382.96,1542.84 382.26,1542.99 381.56,1547.54 380.86,1547.62 380.16,1541.63 379.46,1546.67 378.76,1543.86 378.06,1546.76 377.36,1543.92 376.66,1545.47 375.96,1542.36 375.26,1544.48 374.56,1540.32 373.86,1541.95 373.16,1543.56 372.46,1543.14 371.76,1558.86 371.06,1558.51 370.36,1544.82 369.66,1542.24 368.96,1544.59 368.26,1539.93 367.56,1550.04 366.86,1543.49 366.16,1547.94 365.46,1539.69 364.76,1540.41 364.06,1539.54 363.36,1546.71 362.66,1546.63 361.96,1544.63 361.26,1539.19 360.56,1542.38 359.86,1539.65 359.16,1542.27 358.46,1545.15 357.76,1543.83 357.07,1544.5 356.37,1546.23 355.67,1541.06 354.97,1546.87 354.27,1540.7 353.57,1548.06 352.87,1541.68 352.17,1542.17 351.47,1541.4 350.77,1539.44 350.07,1538.81 349.37,1542.65 348.67,1544.61 347.97,1544.97 347.27,1543.14 346.57,1540.83 345.87,1543.65 345.17,1543.32 344.47,1540.52 343.77,1541.06 343.07,1545.41 342.37,1548.18 341.67,1544.27 340.97,1558.1 340.27,1547.43 339.57,1540.87 338.87,1546.06 338.17,1539.6 337.47,1542.38 336.77,1553.35 336.07,1542.14 335.37,1552.28 334.67,1542.17 333.97,1543.57 333.27,1541.96 332.57,1540.37 331.87,1540.21 331.17,1541.86 330.47,1541.81 329.77,1539.3 329.07,1541.12 328.37,1551.09 327.67,1541 326.97,1543.82 326.27,1554.22 325.57,1545.94 324.87,1546.87 324.18,1540.65 323.48,1543.8 322.78,1542 322.08,1550.38 321.38,1540.36 320.68,1546.16 319.98,1550.98 319.28,1543.52 318.58,1541.91 317.88,1541.52 317.18,1538.41 316.48,1550.53 315.78,1539.86 315.08,1544.54 314.38,1540.27 313.68,1546.31 312.98,1541.66 312.28,1543.4 311.58,1545.01 310.88,1542.37 310.18,1546.62 309.48,1541.54 308.78,1542.85 308.08,1551.5 307.38,1543.79 306.68,1543.91 305.98,1541.58 305.28,1546.34 304.58,1541.71 303.88,1542.93 303.18,1545.57 302.48,1544.08 301.78,1542.35 301.08,1549.1 300.38,1539.89 299.68,1542.25 298.98,1545.43 298.28,1555.3 297.58,1542.54 296.88,1562.99 296.18,1538.26 295.48,1546.44 294.78,1539.24 294.08,1541.55 293.38,1539.91 292.68,1542.04 291.98,1541.85 291.28,1542.48 290.59,1540.83 289.89,1543.68 289.19,1543.2 288.49,1543.24 287.79,1540.26 287.09,1540.36 286.39,1540.48 285.69,1547.86 284.99,1543.91 284.29,1543.66 283.59,1540.89 282.89,1543.08 282.19,1540.29 281.49,1542.52 280.79,1544.33 280.09,1539.63 279.39,1541.11 278.69,1545.66 277.99,1541.74 277.29,1539.28 276.59,1540.39 275.89,1543.66 275.19,1540.31 274.49,1545.92 273.79,1548.7 273.09,1545.68 272.39,1541.94 271.69,1543.94 270.99,1547.7 270.29,1549.13 269.59,1548.32 268.89,1542.3 268.19,1540.69 267.49,1573.15 266.79,1539.06 266.09,1539.4 265.39,1538.88 264.69,1541.11 263.99,1540.32 263.29,1540.37 262.59,1538.99 261.89,1549.67 261.19,1543.82 260.49,1544.65 259.79,1542.79 259.09,1540.26 258.39,1540.16 257.69,1542.61 257,1539.47 256.3,1542.58 255.6,1543.36 254.9,1540.33 254.2,1544 253.5,1540.76 252.8,1545.44 252.1,1541.72 251.4,1545.56 250.7,1539.54 250,1538.49 249.3,1541.87 248.6,1544.83 247.9,1545.38 247.2,1538.08 246.5,1538.05 245.8,1538.9 245.1,1541.01 244.4,1541.06 243.7,1543.58 243,1541.91 242.3,1543.48 241.6,1539.58 240.9,1541.02 240.2,1550.57 239.5,1540.19 238.8,1542.82 238.1,1544.27 237.4,1543.6 236.7,1541.32 236,1542.8 235.3,1544.94 234.6,1546.06 233.9,1548.04 233.2,1542.52 232.5,1551.27 231.8,1546.54 231.1,1557.76 230.4,1544.09 229.7,1541.54 229,1544.86 228.3,1543.36 227.6,1553.44 226.9,1539.48 226.2,1541.97 225.5,1541.55 224.8,1541.21 224.1,1544.12 223.41,1541.06 222.71,1543.8 222.01,1539.79 221.31,1540.61 220.61,1548.88 219.91,1544.99 219.21,1547.79 218.51,1546.68 217.81,1543.17 217.11,1542.97 216.41,1547.6 215.71,1546.89 215.01,1547.22 214.31,1540.54 213.61,1544.49 212.91,1547.58 212.21,1541.84 211.51,1540.82 210.81,1542.82 210.11,1540.04 209.41,1539.78 208.71,1543.17 208.01,1540.83 207.31,1540.02 206.61,1542.13 205.91,1542.68 205.21,1553.14 204.51,1540.69 203.81,1545.8 203.11,1538.28 202.41,1539.29 201.71,1551.68 201.01,1548.68 200.31,1540.54 199.61,1541.27 198.91,1552.43 198.21,1550.53 197.51,1541.96 196.81,1544.36 196.11,1544.99 195.41,1556.47 194.71,1569.49 194.01,1541.06 193.31,1543.58 192.61,1541.49 191.91,1543.02 191.21,1539.69 190.51,1543.22 189.82,1539.39 189.12,1539.43 188.42,1540.82 187.72,1546.69 187.02,1541.22 186.32,1543.15 185.62,1541.47 184.92,1541.73 184.22,1549.55 183.52,1543.08 182.82,1541.27 182.12,1540.78 181.42,1539.96 180.72,1542.23 180.02,1540.39 179.32,1558.65 178.62,1540.82 177.92,1538.78 177.22,1539.11 176.52,1541.57 175.82,1539.1 175.12,1544.94 174.42,1541.75 173.72,1545.72 173.02,1543.46 172.32,1542.29 171.62,1538.55 170.92,1542.02 170.22,1542.45 169.52,1541.57 168.82,1540.46 168.12,1538.83 167.42,1541.28 166.72,1541.51 166.02,1569.55 165.32,1542.13 164.62,1541.17 163.92,1541.96 163.22,1542.22 162.52,1554.08 161.82,1540.13 161.12,1542.33 160.42,1542.66 159.72,1539.74 159.02,1540.72 158.32,1545.42 157.62,1539.93 156.93,1540.99 156.23,1541.06 155.53,1544.73 154.83,1546.27 154.13,1541.33 153.43,1545.54 152.73,1542.67 152.03,1541.87 151.33,1541.38 150.63,1549.99 149.93,1540.03 149.23,1544.17 148.53,1538.81 147.83,1539.79 147.13,1538.49 146.43,1543.02 145.73,1549.27 145.03,1542.26 144.33,1548.95 143.63,1541.38 142.93,1543.89 142.23,1541.18 141.53,1559.83 140.83,1543.76 140.13,1540.64 139.43,1540.87 138.73,1542.61 138.03,1554.69 137.33,1543.82 136.63,1541.4 135.93,1541.09 135.23,1543.18 134.53,1542.86 133.83,1548.4 133.13,1543.4 132.43,1540.65 131.73,1541.54 131.03,1548.72 130.33,1544.41 129.63,1541.04 128.93,1538.42 128.23,1542.13 127.53,1546.56 126.83,1545.5 126.13,1546.25 125.43,1539.78 124.73,1548.73 124.03,1543.56 123.34,1538.46 122.64,1541.5 121.94,1539.56 121.24,1540.11 120.54,1540.67 119.84,1539.75 119.14,1540.24 118.44,1545.65 117.74,1539.18 117.04,1541.94 116.34,1541.07 115.64,1541.85 114.94,1541.21 114.24,1539.34 113.54,1545.02 112.84,1542.37 112.14,1539.05 111.44,1539.85 110.74,1541.37 110.04,1543.49 109.34,1543.88 108.64,1542.39 107.94,1543.39 107.24,1544.46 106.54,1544.59 105.84,1546.74 105.14,1549.98 104.44,1547 103.74,1540.54 103.04,1553.15 102.34,1540.22 101.64,1541.45 100.94,1540.36 100.24,1540.16 99.54,1541.41 98.84,1540.9 98.14,1542.22 97.44,1540.93 96.74,1553.7 96.04,1543.51 95.34,1548.05 94.64,1541.93 93.94,1541.36 93.24,1540.64 92.54,1542.87 91.84,1544.5 91.14,1541.37 90.44,1547.25 89.75,1539.48 89.05,1543.31 88.35,1539.5 87.65,1541.8 86.95,1541.2 86.25,1541.54 85.55,1541.59 84.85,1542.35 84.15,1544.51 83.45,1547.05 82.75,1546.11 82.05,1540.13 81.35,1546.46 80.65,1541.47 79.95,1544.83 79.25,1540.58 78.55,1539.88 77.85,1542.31 77.15,1543.39 76.45,1544.22 75.75,1542.98 75.05,1544.78 74.35,1539.01 73.65,1539.35 73.3,1536" fill="#3244A2"/>
<path d="M73.34 1537V1623.01M77.3 1537V1664.09M87.34 1537V1562.75M106.51 1537V1565.19M127.21 1537V1595.62M129.34 1537V1577.36M143.03 1537V1574.32M155.51 1537V1693M172.55 1537V1584.97M183.51 1537V1570.36M202.07 1537V1645.83M213.63 1537V1650.4M223.68 1537V1586.49M238.89 1537V1577.36M248.93 1537V1635.79M258.67 1537V1560.62M273.89 1537V1610.83M299.15 1537V1574.32M301.89 1537V1592.57M311.93 1537V1569.75M333.84 1537V1566.71M366.71 1537V1571.88M377.36 1537V1579.49M388.92 1537V1574.92M396.84 1537V1597.75" stroke="#3244A2" stroke-width="1.2" fill="none" opacity="0.8"/>
<path d="M302.8 1650.4V1707.3H233.4" fill="none" stroke="#000" stroke-width="3" stroke-linejoin="miter"/>
<text x="315.6" y="1695" font-size="34.5">40 pA</text>
<text x="245" y="1740" font-size="34.5">2 s</text>
<text x="6.85" y="1804" font-size="40">j</text>
<text font-size="34.5" transform="translate(26.1 2152.59) rotate(-90)">mEPSC recordings</text>
<text x="74" y="1858.5" font-size="34.5">WT</text>
<text x="74.3" y="2012" font-size="34.5" fill="#3244A2" font-style="italic">RIIβ<tspan font-size="20.01" dy="-10.87" dx="-0.4">-/-</tspan></text>
<polygon points="77.3,1897.5 77.65,1887.97 78.35,1892.37 79.05,1893.03 79.75,1891.14 80.45,1889.99 81.15,1893.56 81.85,1894.48 82.55,1888.28 83.25,1891.25 83.95,1892.56 84.65,1892.17 85.35,1893.81 86.05,1892.08 86.75,1892.22 87.45,1892.36 88.15,1888.85 88.85,1892.84 89.55,1893.27 90.25,1892.07 90.95,1888.17 91.65,1888.35 92.35,1893.45 93.05,1892.29 93.75,1886.69 94.46,1894.76 95.16,1889.14 95.86,1893.43 96.56,1885.87 97.26,1890.68 97.96,1892.13 98.66,1890.02 99.36,1889.74 100.06,1888.91 100.76,1893.36 101.46,1887.26 102.16,1892.86 102.86,1889.55 103.56,1888.79 104.26,1888.45 104.96,1894.19 105.66,1892.15 106.36,1894.78 107.06,1892.65 107.76,1891 108.46,1887.66 109.16,1887.49 109.86,1891.81 110.56,1883 111.26,1891.13 111.96,1891.29 112.66,1886.17 113.36,1892.62 114.06,1893.14 114.76,1893.35 115.46,1894.97 116.16,1894.27 116.86,1889.72 117.56,1892.59 118.26,1893.35 118.96,1889.41 119.66,1893.75 120.36,1887.8 121.06,1894.58 121.76,1887.58 122.46,1893.09 123.16,1891.95 123.86,1890.74 124.56,1891.11 125.26,1893.09 125.96,1889.13 126.66,1887.68 127.37,1892.57 128.07,1893.56 128.77,1888.94 129.47,1889.23 130.17,1894.65 130.87,1894.02 131.57,1891.46 132.27,1894.05 132.97,1888.41 133.67,1892.89 134.37,1890.77 135.07,1891.98 135.77,1890.74 136.47,1911.82 137.17,1891.73 137.87,1891.01 138.57,1886.53 139.27,1885.94 139.97,1889.51 140.67,1890.17 141.37,1890.26 142.07,1893.4 142.77,1892.99 143.47,1890.31 144.17,1893.06 144.87,1885.24 145.57,1890.85 146.27,1891.79 146.97,1890.77 147.67,1890.16 148.37,1893.18 149.07,1893.1 149.77,1887.73 150.47,1889.96 151.17,1889.24 151.87,1886.27 152.57,1892.41 153.27,1886.43 153.97,1890.35 154.67,1890.4 155.37,1891.04 156.07,1888.7 156.77,1890.87 157.47,1888.59 158.17,1893.34 158.87,1894.84 159.57,1893.28 160.28,1891.22 160.98,1885.55 161.68,1890.67 162.38,1890.02 163.08,1892.51 163.78,1894.98 164.48,1895.2 165.18,1892.38 165.88,1893.55 166.58,1892.97 167.28,1889.05 167.98,1891.04 168.68,1889.85 169.38,1890.72 170.08,1890.18 170.78,1891.83 171.48,1888.87 172.18,1886.37 172.88,1893.84 173.58,1888.96 174.28,1886.55 174.98,1892.59 175.68,1890.76 176.38,1891.57 177.08,1891.36 177.78,1888.71 178.48,1888.74 179.18,1892.4 179.88,1892.95 180.58,1890.53 181.28,1893.24 181.98,1888.61 182.68,1894.41 183.38,1886.53 184.08,1892.8 184.78,1890.67 185.48,1888.72 186.18,1886.55 186.88,1888.04 187.58,1892.37 188.28,1890.69 188.98,1891.59 189.68,1890.95 190.38,1891.63 191.08,1885.58 191.78,1887.83 192.48,1893.28 193.19,1891.06 193.89,1892.13 194.59,1891.51 195.29,1889.2 195.99,1890.27 196.69,1890.32 197.39,1892.97 198.09,1893.1 198.79,1889.43 199.49,1889.8 200.19,1892.59 200.89,1888.56 201.59,1890.44 202.29,1887.96 202.99,1890.79 203.69,1892.23 204.39,1893.96 205.09,1894.3 205.79,1890.31 206.49,1892.86 207.19,1885.98 207.89,1889.23 208.59,1892.34 209.29,1893.69 209.99,1890.2 210.69,1894.41 211.39,1897.98 212.09,1891.18 212.79,1891.48 213.49,1885.76 214.19,1886.04 214.89,1887.7 215.59,1892.96 216.29,1891.75 216.99,1894.76 217.69,1887.92 218.39,1890.38 219.09,1889.26 219.79,1889.48 220.49,1892.44 221.19,1891.13 221.89,1894.3 222.59,1892.27 223.29,1893.73 223.99,1892.83 224.69,1888.75 225.39,1893.22 226.1,1892.81 226.8,1893.57 227.5,1892.62 228.2,1892.8 228.9,1893.08 229.6,1895.24 230.3,1894.66 231,1893.14 231.7,1894.37 232.4,1887.76 233.1,1893.3 233.8,1892.52 234.5,1889.51 235.2,1894.22 235.9,1891.01 236.6,1890.26 237.3,1892.85 238,1889.7 238.7,1891.95 239.4,1890.99 240.1,1890.3 240.8,1893.65 241.5,1890.55 242.2,1886.84 242.9,1887 243.6,1891.67 244.3,1892.67 245,1894.37 245.7,1894.13 246.4,1886.77 247.1,1890.41 247.8,1895.42 248.5,1892.56 249.2,1890.36 249.9,1889.25 250.6,1892.54 251.3,1893.98 252,1888.02 252.7,1893.88 253.4,1894.58 254.1,1894.76 254.8,1893.75 255.5,1894.95 256.2,1890.09 256.9,1891.23 257.6,1889.29 258.3,1894.23 259,1891.91 259.71,1888.76 260.41,1890.48 261.11,1887.55 261.81,1893.68 262.51,1889.38 263.21,1895.25 263.91,1893.44 264.61,1894.27 265.31,1891.3 266.01,1889.88 266.71,1893.59 267.41,1888.44 268.11,1890.93 268.81,1890.39 269.51,1892.39 270.21,1891.77 270.91,1892.72 271.61,1892.11 272.31,1884.89 273.01,1891.1 273.71,1891.78 274.41,1884.85 275.11,1886.36 275.81,1892.6 276.51,1890.54 277.21,1893.73 277.91,1892.26 278.61,1888.66 279.31,1887.19 280.01,1890.37 280.71,1893.54 281.41,1895.38 282.11,1890.01 282.81,1890.84 283.51,1892.98 284.21,1890.95 284.91,1887.76 285.61,1894.16 286.31,1886.99 287.01,1891.29 287.71,1892.05 288.41,1892.53 289.11,1887.51 289.81,1893.13 290.51,1890.24 291.21,1894.12 291.91,1895.22 292.62,1889.94 293.32,1890.51 294.02,1889.52 294.72,1892.44 295.42,1889.26 296.12,1887.92 296.82,1891.75 297.52,1890.1 298.22,1892.03 298.92,1883.47 299.62,1892.1 300.32,1890.92 301.02,1892.74 301.72,1891.38 302.42,1892.75 303.12,1890.52 303.82,1890.67 304.52,1893.12 305.22,1894.4 305.92,1887.43 306.62,1889.67 307.32,1891.97 308.02,1894.38 308.72,1893.82 309.42,1893.42 310.12,1891.62 310.82,1889.21 311.52,1893.21 312.22,1888.38 312.92,1892.58 313.62,1888.34 314.32,1892.84 315.02,1892.03 315.72,1885.8 316.42,1889.7 317.12,1889.28 317.82,1892.73 318.52,1891.02 319.22,1893.15 319.92,1893.82 320.62,1891.48 321.32,1892.78 322.02,1891.61 322.72,1884.97 323.42,1887.59 324.12,1894.69 324.82,1885.64 325.53,1894.1 326.23,1894.48 326.93,1885.76 327.63,1894.1 328.33,1893.3 329.03,1891.23 329.73,1891.07 330.43,1888.45 331.13,1890.89 331.83,1892.8 332.53,1891.52 333.23,1891.12 333.93,1892.97 334.63,1889.77 335.33,1890.04 336.03,1884.82 336.73,1890.75 337.43,1885.99 338.13,1892.52 338.83,1885.96 339.53,1892.77 340.23,1888.69 340.93,1888.3 341.63,1890.47 342.33,1895.43 343.03,1892.81 343.73,1889.82 344.43,1891.76 345.13,1890.28 345.83,1888.43 346.53,1881.11 347.23,1887.49 347.93,1893.09 348.63,1893.41 349.33,1893.89 350.03,1894.99 350.73,1894.86 351.43,1892.06 352.13,1891.16 352.83,1894.16 353.53,1889.09 354.23,1891.62 354.93,1895.35 355.63,1893.28 356.33,1887.95 357.03,1888.83 357.73,1893.42 358.44,1891.56 359.14,1888.63 359.84,1891.42 360.54,1892.21 361.24,1886.27 361.94,1887.08 362.64,1890.23 363.34,1892.26 364.04,1893.82 364.74,1891.54 365.44,1890.04 366.14,1891.75 366.84,1889.26 367.54,1894.46 368.24,1890.86 368.94,1897.34 369.64,1891.64 370.34,1892.16 371.04,1883.84 371.74,1891.65 372.44,1887.4 373.14,1892.42 373.84,1892.05 374.54,1890.72 375.24,1892.82 375.94,1887.21 376.64,1895 377.34,1890.74 378.04,1893.31 378.74,1892.38 379.44,1890.1 380.14,1891.68 380.84,1890.06 381.54,1891.06 382.24,1890.35 382.94,1892.02 383.64,1893.76 384.34,1894.25 385.04,1893.6 385.74,1892.68 386.44,1890.37 387.14,1883.42 387.84,1888.2 388.54,1889.78 389.24,1892.44 389.94,1892.25 390.64,1893.75 391.35,1891.27 392.05,1883.42 392.75,1891.37 393.45,1889.66 394.15,1896.87 394.85,1891.14 395.55,1891.77 396.25,1890.99 396.95,1884.9 397.65,1881.66 398.35,1893.55 399.05,1894.25 399.75,1895.17 400.45,1892.32 401.15,1886.81 401.85,1887.78 402.55,1888.62 403.25,1887.22 403.95,1891.31 404.65,1889 405.35,1893.05 406.05,1893.98 406.75,1893.32 407.45,1893.9 407.8,1897.5 407.8,1930.5 407.45,1933.55 406.75,1935.59 406.05,1935.96 405.35,1938.77 404.65,1934.61 403.95,1935.31 403.25,1936.56 402.55,1939.3 401.85,1934.51 401.15,1940.48 400.45,1937.4 399.75,1934.43 399.05,1942.72 398.35,1936.75 397.65,1952.18 396.95,1936.08 396.25,1943.48 395.55,1938.81 394.85,1934.38 394.15,1934.09 393.45,1941.36 392.75,1935.91 392.05,1934.58 391.35,1934.5 390.64,1947.4 389.94,1934.7 389.24,1935.67 388.54,1936.38 387.84,1938.52 387.14,1936 386.44,1937.19 385.74,1938.99 385.04,1935.75 384.34,1936.82 383.64,1935.18 382.94,1934.66 382.24,1938.24 381.54,1937.02 380.84,1934.78 380.14,1934.51 379.44,1933.89 378.74,1943.43 378.04,1934.54 377.34,1934.7 376.64,1937.68 375.94,1939.58 375.24,1936.73 374.54,1936.79 373.84,1938.97 373.14,1935.99 372.44,1940.65 371.74,1933.61 371.04,1940.36 370.34,1939.61 369.64,1934.86 368.94,1943.01 368.24,1938.08 367.54,1940.86 366.84,1933.59 366.14,1936.49 365.44,1944.15 364.74,1940.82 364.04,1936.9 363.34,1935.95 362.64,1934.93 361.94,1934.98 361.24,1934.62 360.54,1940.69 359.84,1938.55 359.14,1935.72 358.44,1934.51 357.73,1938.51 357.03,1938.08 356.33,1943.56 355.63,1940.39 354.93,1936.75 354.23,1940.54 353.53,1933.03 352.83,1933.98 352.13,1933.64 351.43,1933.2 350.73,1934.02 350.03,1939.99 349.33,1934.87 348.63,1936.59 347.93,1934.53 347.23,1935.39 346.53,1943.63 345.83,1939.89 345.13,1935.75 344.43,1937.14 343.73,1938.47 343.03,1932.63 342.33,1934.42 341.63,1933.68 340.93,1933.25 340.23,1935.95 339.53,1938.86 338.83,1934.99 338.13,1945.9 337.43,1941.54 336.73,1935.13 336.03,1941.54 335.33,1938.62 334.63,1936.2 333.93,1935.06 333.23,1938.82 332.53,1937.98 331.83,1937.13 331.13,1933.92 330.43,1936.6 329.73,1940.05 329.03,1942.62 328.33,1938.25 327.63,1941.57 326.93,1935.48 326.23,1939.28 325.53,1939.14 324.82,1943.62 324.12,1938.94 323.42,1944.74 322.72,1937.45 322.02,1936.64 321.32,1933.75 320.62,1937.21 319.92,1939.5 319.22,1935 318.52,1937.39 317.82,1937.3 317.12,1935.28 316.42,1939.34 315.72,1935.1 315.02,1935.4 314.32,1938.8 313.62,1932.8 312.92,1935 312.22,1933.95 311.52,1934.96 310.82,1937.48 310.12,1938.69 309.42,1935.79 308.72,1932.76 308.02,1941.61 307.32,1937.28 306.62,1933.39 305.92,1938.12 305.22,1937.34 304.52,1936.83 303.82,1938.01 303.12,1935.51 302.42,1932.88 301.72,1934.38 301.02,1950.27 300.32,1933.73 299.62,1933.95 298.92,1938.17 298.22,1935.67 297.52,1935 296.82,1936.2 296.12,1939.75 295.42,1938.68 294.72,1940.19 294.02,1937.11 293.32,1934.34 292.62,1936.62 291.91,1935.46 291.21,1937.35 290.51,1939.14 289.81,1939.02 289.11,1937.49 288.41,1937.02 287.71,1944.77 287.01,1936.61 286.31,1935.54 285.61,1935.96 284.91,1934.78 284.21,1936.24 283.51,1935.13 282.81,1937.7 282.11,1937.62 281.41,1938.3 280.71,1935.12 280.01,1936.08 279.31,1933.87 278.61,1943.08 277.91,1934.52 277.21,1937.86 276.51,1934.23 275.81,1940.52 275.11,1942.71 274.41,1938.33 273.71,1937 273.01,1945.62 272.31,1937.61 271.61,1936.57 270.91,1936.17 270.21,1934.62 269.51,1935.03 268.81,1936.33 268.11,1935.38 267.41,1935.74 266.71,1934.69 266.01,1933.22 265.31,1938.57 264.61,1943.7 263.91,1939.36 263.21,1934.97 262.51,1943.05 261.81,1944.54 261.11,1938.72 260.41,1944.25 259.71,1944.92 259,1937.14 258.3,1942.84 257.6,1940.1 256.9,1933.38 256.2,1939.16 255.5,1936.39 254.8,1937.87 254.1,1935.78 253.4,1940.95 252.7,1936.95 252,1934.62 251.3,1942.93 250.6,1935.12 249.9,1936.23 249.2,1947.58 248.5,1934.87 247.8,1949.2 247.1,1939.88 246.4,1940.18 245.7,1939.96 245,1948.96 244.3,1936.57 243.6,1943.15 242.9,1934.14 242.2,1934.68 241.5,1937.3 240.8,1933.07 240.1,1937.01 239.4,1933.86 238.7,1944.32 238,1935.42 237.3,1936.84 236.6,1940.53 235.9,1940.7 235.2,1934.07 234.5,1935.79 233.8,1935.67 233.1,1938.5 232.4,1935.55 231.7,1933.76 231,1938.41 230.3,1937.85 229.6,1939.5 228.9,1933.41 228.2,1934.74 227.5,1941.11 226.8,1937.83 226.1,1937.88 225.39,1936.72 224.69,1934.85 223.99,1939.28 223.29,1940.17 222.59,1939.49 221.89,1937.94 221.19,1939.23 220.49,1935.1 219.79,1937.3 219.09,1934.56 218.39,1943.94 217.69,1937.09 216.99,1936.31 216.29,1936.6 215.59,1934.45 214.89,1932.96 214.19,1939.22 213.49,1932.93 212.79,1935.55 212.09,1934.9 211.39,1938.83 210.69,1932.9 209.99,1936.1 209.29,1946.55 208.59,1933.03 207.89,1933.01 207.19,1933.91 206.49,1936.39 205.79,1937.56 205.09,1937.65 204.39,1937.44 203.69,1938.28 202.99,1940.32 202.29,1936.87 201.59,1935.56 200.89,1939.82 200.19,1934.9 199.49,1934.85 198.79,1935.32 198.09,1938.73 197.39,1937.48 196.69,1936.4 195.99,1935.84 195.29,1935.87 194.59,1936.27 193.89,1936.24 193.19,1937.88 192.48,1934.07 191.78,1936.91 191.08,1937.63 190.38,1940.95 189.68,1936.89 188.98,1934.08 188.28,1935.98 187.58,1937.6 186.88,1934.82 186.18,1938.64 185.48,1935 184.78,1936.81 184.08,1937.59 183.38,1947.72 182.68,1935.18 181.98,1935.74 181.28,1941.36 180.58,1938.05 179.88,1934.09 179.18,1935.24 178.48,1942.78 177.78,1935.67 177.08,1935.97 176.38,1945.72 175.68,1932.89 174.98,1938.25 174.28,1936.96 173.58,1936.68 172.88,1940.15 172.18,1937.04 171.48,1936.55 170.78,1936.86 170.08,1946.14 169.38,1937.36 168.68,1953.28 167.98,1935.6 167.28,1944.7 166.58,1934.4 165.88,1936.84 165.18,1935.32 164.48,1936.45 163.78,1937.28 163.08,1935.26 162.38,1936.5 161.68,1965.16 160.98,1934.53 160.28,1936.63 159.57,1933.86 158.87,1940.1 158.17,1934.65 157.47,1933.62 156.77,1933.18 156.07,1932.68 155.37,1939.24 154.67,1937.19 153.97,1939.73 153.27,1935.01 152.57,1936.13 151.87,1936.78 151.17,1942.99 150.47,1937.35 149.77,1939.39 149.07,1937.18 148.37,1936.78 147.67,1938.91 146.97,1933.95 146.27,1939.3 145.57,1938.9 144.87,1943.29 144.17,1941.01 143.47,1936.34 142.77,1952.29 142.07,1937.23 141.37,1941.8 140.67,1939.96 139.97,1934.47 139.27,1934.34 138.57,1938.16 137.87,1938.74 137.17,1939.22 136.47,1938.15 135.77,1936.4 135.07,1942.25 134.37,1939.57 133.67,1937.38 132.97,1936.69 132.27,1937.01 131.57,1951.14 130.87,1933.53 130.17,1937.44 129.47,1935.45 128.77,1934.59 128.07,1942.85 127.37,1932.65 126.66,1937.39 125.96,1934.7 125.26,1935.77 124.56,1938.7 123.86,1938.7 123.16,1933.61 122.46,1939.37 121.76,1934.21 121.06,1935.41 120.36,1941.82 119.66,1936.71 118.96,1937.32 118.26,1933.87 117.56,1933.69 116.86,1933.58 116.16,1939.96 115.46,1933.63 114.76,1932.93 114.06,1932.88 113.36,1938.51 112.66,1942.09 111.96,1945.73 111.26,1934.89 110.56,1933.39 109.86,1935.79 109.16,1937.35 108.46,1936.57 107.76,1935 107.06,1934.82 106.36,1938.01 105.66,1935.97 104.96,1937.17 104.26,1955.19 103.56,1940.42 102.86,1933.62 102.16,1936.72 101.46,1936.79 100.76,1933.53 100.06,1933.29 99.36,1939.72 98.66,1935.72 97.96,1939.19 97.26,1939.52 96.56,1934.46 95.86,1933.63 95.16,1932.66 94.46,1934.02 93.75,1934.19 93.05,1936.13 92.35,1940.03 91.65,1948.01 90.95,1938.62 90.25,1937.03 89.55,1941.01 88.85,1944.23 88.15,1937.03 87.45,1935.3 86.75,1938.24 86.05,1938.08 85.35,1936.65 84.65,1934.91 83.95,1941.39 83.25,1937.49 82.55,1938.47 81.85,1940.8 81.15,1943.28 80.45,1940.84 79.75,1939.22 79.05,1937.14 78.35,1937.68 77.65,1936.95 77.3,1930.5" fill="#000"/>
<path d="M84.91 1931.5V1960.41M123.25 1931.5V1958.89M175.9 1931.5V1949.76M197.5 1931.5V1952.81M236.76 1931.5V1947.63M340.23 1931.5V1953.72M364.88 1931.5V1967.41M384.05 1931.5V1958.89" stroke="#000" stroke-width="1.2" fill="none" opacity="0.8"/>
<polygon points="73,2043.5 73.35,2037.08 74.05,2036.34 74.75,2028.91 75.45,2031.63 76.15,2038.52 76.85,2039.3 77.55,2041.49 78.25,2037.83 78.95,2039.79 79.65,2040.38 80.35,2037.27 81.05,2041.37 81.75,2040.75 82.45,2039.24 83.15,2040.43 83.85,2039.9 84.55,2038.6 85.25,2041.15 85.95,2038.42 86.65,2036.73 87.35,2040.45 88.05,2037.07 88.75,2034.61 89.45,2035.47 90.14,2036 90.84,2040.19 91.54,2034.54 92.24,2036.75 92.94,2041.37 93.64,2036.26 94.34,2037.63 95.04,2039.94 95.74,2034.83 96.44,2038.03 97.14,2034.25 97.84,2036.7 98.54,2035.67 99.24,2033.29 99.94,2037.22 100.64,2028.56 101.34,2038.71 102.04,2033.65 102.74,2037.36 103.44,2042.18 104.14,2042.15 104.84,2041.19 105.54,2039.46 106.24,2040.8 106.94,2042.2 107.64,2042.72 108.34,2042.67 109.04,2036.3 109.74,2038.77 110.44,2035.5 111.14,2037.43 111.84,2039.08 112.54,2036.13 113.24,2040.89 113.94,2041.1 114.64,2041.78 115.34,2037.34 116.04,2041.5 116.74,2036.15 117.44,2037.04 118.14,2034.84 118.84,2039.31 119.54,2037.36 120.24,2047.3 120.94,2038.28 121.64,2031.3 122.34,2034.01 123.03,2035.58 123.73,2032.31 124.43,2034.41 125.13,2036.91 125.83,2034.97 126.53,2033.38 127.23,2032.73 127.93,2033.72 128.63,2031.46 129.33,2037.3 130.03,2038.03 130.73,2037.24 131.43,2036.2 132.13,2037.62 132.83,2033.68 133.53,2029.7 134.23,2032.14 134.93,2034.02 135.63,2031.31 136.33,2036.73 137.03,2034.58 137.73,2036.47 138.43,2037.94 139.13,2037.4 139.83,2036.14 140.53,2030.73 141.23,2028.94 141.93,2031.26 142.63,2034.42 143.33,2034.58 144.03,2037.13 144.73,2035.03 145.43,2036.21 146.13,2037.49 146.83,2034.62 147.53,2034.45 148.23,2036.45 148.93,2027.04 149.63,2039.12 150.33,2038.59 151.03,2039.91 151.73,2038.34 152.43,2036.34 153.13,2038.14 153.83,2034.21 154.53,2039.73 155.23,2040.93 155.92,2038.83 156.62,2041.84 157.32,2039.15 158.02,2043.56 158.72,2035.07 159.42,2043.43 160.12,2040.82 160.82,2039.36 161.52,2042.18 162.22,2033.53 162.92,2034.99 163.62,2039.28 164.32,2043.01 165.02,2042.68 165.72,2038.42 166.42,2038.35 167.12,2037.75 167.82,2038.69 168.52,2034.24 169.22,2035.64 169.92,2038.51 170.62,2038.84 171.32,2039.26 172.02,2036.44 172.72,2036.27 173.42,2037.61 174.12,2034.94 174.82,2033.6 175.52,2030.45 176.22,2035.72 176.92,2033.77 177.62,2034.78 178.32,2035.52 179.02,2035.42 179.72,2033.59 180.42,2028.51 181.12,2037.24 181.82,2037.72 182.52,2036.49 183.22,2036.39 183.92,2037 184.62,2039.59 185.32,2036.96 186.02,2037.39 186.72,2034.38 187.42,2033.47 188.12,2037.91 188.82,2034.26 189.51,2038.1 190.21,2034.67 190.91,2037.86 191.61,2036.43 192.31,2036.78 193.01,2031.71 193.71,2029.57 194.41,2034.87 195.11,2037.12 195.81,2037.52 196.51,2037.07 197.21,2033.16 197.91,2029.52 198.61,2030.84 199.31,2028.38 200.01,2028.25 200.71,2034.59 201.41,2034.63 202.11,2037.03 202.81,2035.79 203.51,2034.85 204.21,2035.77 204.91,2037.1 205.61,2034.19 206.31,2027.3 207.01,2034.07 207.71,2035.7 208.41,2028.44 209.11,2035.18 209.81,2038.72 210.51,2033.04 211.21,2036.22 211.91,2038.69 212.61,2036.68 213.31,2034.4 214.01,2037.03 214.71,2033.7 215.41,2032.74 216.11,2031.66 216.81,2035.81 217.51,2035.63 218.21,2035.78 218.91,2037.42 219.61,2035.78 220.31,2038.88 221.01,2038.06 221.71,2038.36 222.4,2036.89 223.1,2038.17 223.8,2038.61 224.5,2035.13 225.2,2037.63 225.9,2031.6 226.6,2038.75 227.3,2036.24 228,2034.24 228.7,2038.95 229.4,2040.25 230.1,2038.13 230.8,2041.31 231.5,2039.68 232.2,2041.02 232.9,2039.15 233.6,2032.11 234.3,2033.77 235,2033.32 235.7,2033.46 236.4,2038.72 237.1,2034.5 237.8,2035.77 238.5,2032.86 239.2,2038.71 239.9,2031.76 240.6,2037.01 241.3,2036.46 242,2033 242.7,2035.11 243.4,2039.8 244.1,2037.65 244.8,2036.97 245.5,2039.29 246.2,2036.02 246.9,2035.95 247.6,2032.02 248.3,2033.41 249,2028.74 249.7,2034.78 250.4,2031.13 251.1,2036.27 251.8,2036.13 252.5,2036.67 253.2,2036.38 253.9,2035.2 254.6,2031.17 255.29,2034.41 255.99,2030.32 256.69,2035.43 257.39,2034.42 258.09,2036.97 258.79,2036.99 259.49,2027.88 260.19,2037.47 260.89,2032.26 261.59,2032.33 262.29,2037.78 262.99,2036.14 263.69,2041.43 264.39,2041.89 265.09,2040.16 265.79,2034.88 266.49,2039.28 267.19,2037.27 267.89,2038.79 268.59,2029.74 269.29,2035.87 269.99,2037.05 270.69,2035.33 271.39,2038.95 272.09,2041.21 272.79,2034.82 273.49,2041.22 274.19,2041.15 274.89,2038.98 275.59,2038.71 276.29,2034.2 276.99,2037.13 277.69,2037.65 278.39,2034.99 279.09,2039.82 279.79,2038.43 280.49,2038.44 281.19,2037.42 281.89,2034.93 282.59,2041.85 283.29,2041.91 283.99,2037.82 284.69,2042.08 285.39,2037.12 286.09,2039.61 286.79,2036.31 287.49,2038.64 288.18,2040.81 288.88,2039.78 289.58,2041.5 290.28,2037.14 290.98,2037.44 291.68,2035.16 292.38,2037.52 293.08,2041.55 293.78,2036.09 294.48,2041.89 295.18,2037.08 295.88,2040.62 296.58,2040.11 297.28,2035.03 297.98,2041.59 298.68,2041.8 299.38,2040.73 300.08,2039.65 300.78,2037.54 301.48,2041.82 302.18,2036.39 302.88,2040.36 303.58,2037.83 304.28,2039.13 304.98,2036.22 305.68,2038.14 306.38,2036.67 307.08,2036.69 307.78,2036.12 308.48,2037.84 309.18,2037.26 309.88,2035.16 310.58,2033.29 311.28,2034.47 311.98,2037.42 312.68,2036.63 313.38,2030.98 314.08,2036.35 314.78,2038.18 315.48,2035 316.18,2037.95 316.88,2038.57 317.58,2039.71 318.28,2034.45 318.98,2037.93 319.68,2037.14 320.38,2031.18 321.08,2036.56 321.77,2033.41 322.47,2037.05 323.17,2036.96 323.87,2038.43 324.57,2049.61 325.27,2036.79 325.97,2035.37 326.67,2040.1 327.37,2039.03 328.07,2040.5 328.77,2036.86 329.47,2040.78 330.17,2041.27 330.87,2032.93 331.57,2038.54 332.27,2039.52 332.97,2034.84 333.67,2039.69 334.37,2037.91 335.07,2036.55 335.77,2037.75 336.47,2039.43 337.17,2037.51 337.87,2039.08 338.57,2036.02 339.27,2037.06 339.97,2039.12 340.67,2039.05 341.37,2035.9 342.07,2035.42 342.77,2039.93 343.47,2033.9 344.17,2036.49 344.87,2037.12 345.57,2037.35 346.27,2037.56 346.97,2036.38 347.67,2036.88 348.37,2039.12 349.07,2035.52 349.77,2029.84 350.47,2033.58 351.17,2036.37 351.87,2039.09 352.57,2035.91 353.27,2039.93 353.97,2041.12 354.66,2039.98 355.36,2037.13 356.06,2037.51 356.76,2041.51 357.46,2036.16 358.16,2033.71 358.86,2033.4 359.56,2036.55 360.26,2037.44 360.96,2032.29 361.66,2036.46 362.36,2036.98 363.06,2040.77 363.76,2039.8 364.46,2041.12 365.16,2040.58 365.86,2040.73 366.56,2040.56 367.26,2038.88 367.96,2034.74 368.66,2039.26 369.36,2038.78 370.06,2041.97 370.76,2043.33 371.46,2042.7 372.16,2037.35 372.86,2040.07 373.56,2038.89 374.26,2038.08 374.96,2034.8 375.66,2032.08 376.36,2037.83 377.06,2028.9 377.76,2041.01 378.46,2034.95 379.16,2050.83 379.86,2035.58 380.56,2039.21 381.26,2037.64 381.96,2038.38 382.66,2038.83 383.36,2034.19 384.06,2032.57 384.76,2036.72 385.46,2038.32 386.16,2036.21 386.86,2036.96 387.55,2036.33 388.25,2033.99 388.95,2031.84 389.65,2035.7 390.35,2032.4 391.05,2034.14 391.75,2039.11 392.45,2039.31 393.15,2036.76 393.85,2037.9 394.55,2032.05 395.25,2037.13 395.95,2035.95 396.65,2035.33 397.35,2034.73 398.05,2038.24 398.75,2037.89 399.45,2036.76 400.15,2040.92 400.85,2041.9 401.55,2038.58 402.25,2038.39 402.95,2040.58 403.65,2041.15 404,2043.5 404,2076.5 403.65,2087.66 402.95,2090.06 402.25,2085.88 401.55,2083.62 400.85,2085.28 400.15,2091.99 399.45,2087.27 398.75,2088.02 398.05,2088.53 397.35,2089.85 396.65,2085.77 395.95,2082.53 395.25,2082.7 394.55,2080.03 393.85,2081.72 393.15,2083.15 392.45,2090.8 391.75,2078.93 391.05,2079.78 390.35,2081.8 389.65,2079.63 388.95,2079.26 388.25,2078.99 387.55,2081.92 386.86,2079.92 386.16,2080.43 385.46,2085.91 384.76,2081.35 384.06,2084.91 383.36,2083.65 382.66,2084.22 381.96,2083.57 381.26,2085.02 380.56,2081.16 379.86,2082.23 379.16,2078.85 378.46,2085.13 377.76,2083.23 377.06,2085.01 376.36,2080.99 375.66,2083.55 374.96,2083.01 374.26,2091.36 373.56,2083.01 372.86,2082.7 372.16,2083.13 371.46,2084.39 370.76,2087.15 370.06,2087.43 369.36,2088.94 368.66,2084.93 367.96,2085.12 367.26,2085.65 366.56,2084.8 365.86,2083.99 365.16,2085.16 364.46,2088.23 363.76,2085.97 363.06,2083.84 362.36,2095.45 361.66,2086.44 360.96,2086.6 360.26,2084.07 359.56,2084.17 358.86,2084.65 358.16,2080.57 357.46,2090.55 356.76,2079.58 356.06,2079.57 355.36,2079.15 354.66,2083.48 353.97,2084.6 353.27,2086.8 352.57,2091.49 351.87,2086.38 351.17,2078.16 350.47,2080.53 349.77,2081.87 349.07,2080.02 348.37,2079.09 347.67,2078.14 346.97,2086.88 346.27,2082.7 345.57,2082.95 344.87,2080.4 344.17,2082.58 343.47,2081.18 342.77,2080.96 342.07,2078.32 341.37,2078.9 340.67,2082.61 339.97,2081.73 339.27,2084.35 338.57,2082.59 337.87,2082.5 337.17,2080.78 336.47,2082.9 335.77,2083.19 335.07,2082.2 334.37,2086.6 333.67,2086.11 332.97,2082.41 332.27,2088.26 331.57,2087.87 330.87,2084.01 330.17,2086.48 329.47,2085.27 328.77,2082.94 328.07,2084.32 327.37,2082.32 326.67,2088.93 325.97,2085.57 325.27,2081.79 324.57,2087.8 323.87,2080.21 323.17,2081.25 322.47,2079.02 321.77,2079.91 321.08,2078.66 320.38,2084.54 319.68,2082.79 318.98,2080.15 318.28,2085.05 317.58,2082.53 316.88,2079.02 316.18,2079.82 315.48,2085.92 314.78,2083.81 314.08,2080.16 313.38,2080.1 312.68,2080.62 311.98,2083.21 311.28,2085.63 310.58,2084.67 309.88,2083.17 309.18,2085.7 308.48,2081.76 307.78,2082.07 307.08,2081.16 306.38,2083.86 305.68,2082.75 304.98,2080.32 304.28,2085.63 303.58,2088.98 302.88,2084.37 302.18,2098.72 301.48,2084.05 300.78,2084.35 300.08,2084.91 299.38,2086.12 298.68,2082.6 297.98,2082.42 297.28,2084.73 296.58,2096.99 295.88,2087.59 295.18,2087.52 294.48,2099.03 293.78,2081.59 293.08,2080.86 292.38,2081.18 291.68,2095.13 290.98,2081.93 290.28,2080.06 289.58,2080.08 288.88,2087.1 288.18,2081.75 287.49,2093.1 286.79,2086.25 286.09,2089.87 285.39,2084.37 284.69,2090.79 283.99,2090.8 283.29,2081.79 282.59,2084.86 281.89,2081.74 281.19,2082.57 280.49,2081.58 279.79,2081.17 279.09,2094.12 278.39,2084.94 277.69,2086.2 276.99,2086.8 276.29,2084.86 275.59,2084.19 274.89,2083.41 274.19,2084.86 273.49,2082.59 272.79,2090.28 272.09,2086.15 271.39,2086.26 270.69,2087.15 269.99,2083.22 269.29,2085.69 268.59,2081.09 267.89,2086.06 267.19,2086.98 266.49,2083.81 265.79,2085.22 265.09,2082.8 264.39,2085.07 263.69,2099.5 262.99,2087.09 262.29,2084.38 261.59,2079.81 260.89,2080.95 260.19,2081.61 259.49,2081.58 258.79,2083 258.09,2079.48 257.39,2082.56 256.69,2087.61 255.99,2079.37 255.29,2083.37 254.6,2082.06 253.9,2082.83 253.2,2083.24 252.5,2081.68 251.8,2078.17 251.1,2080.1 250.4,2082.8 249.7,2077.9 249,2084.18 248.3,2080.31 247.6,2081.99 246.9,2079.73 246.2,2082.2 245.5,2081.5 244.8,2079.63 244.1,2080.2 243.4,2079.27 242.7,2082.45 242,2086.72 241.3,2081.64 240.6,2081.14 239.9,2083.02 239.2,2083.21 238.5,2083.24 237.8,2080.03 237.1,2083.68 236.4,2083.44 235.7,2084 235,2088.39 234.3,2080.02 233.6,2081.04 232.9,2080.6 232.2,2087.04 231.5,2083.85 230.8,2082.13 230.1,2084.58 229.4,2081.43 228.7,2082.68 228,2084.76 227.3,2081.75 226.6,2091.36 225.9,2080.5 225.2,2081.63 224.5,2078.87 223.8,2079.14 223.1,2079.33 222.4,2079.18 221.71,2084.09 221.01,2091.19 220.31,2079.74 219.61,2078.64 218.91,2078.67 218.21,2079.63 217.51,2079.62 216.81,2082.05 216.11,2078.94 215.41,2079.55 214.71,2088.86 214.01,2082.91 213.31,2081.86 212.61,2079.79 211.91,2080.98 211.21,2081.34 210.51,2084.71 209.81,2083.32 209.11,2083.37 208.41,2081.66 207.71,2079.82 207.01,2078.71 206.31,2077.42 205.61,2085.55 204.91,2082.85 204.21,2079.1 203.51,2079.09 202.81,2080.95 202.11,2081.95 201.41,2078.81 200.71,2079.47 200.01,2078.02 199.31,2078.84 198.61,2078.35 197.91,2083.81 197.21,2082.85 196.51,2080.94 195.81,2080.88 195.11,2077.05 194.41,2080.04 193.71,2081.08 193.01,2087.07 192.31,2079.3 191.61,2082.89 190.91,2081.55 190.21,2080.85 189.51,2080.01 188.82,2082.83 188.12,2079.41 187.42,2084.17 186.72,2083.46 186.02,2083.18 185.32,2084.09 184.62,2083.57 183.92,2087 183.22,2078.38 182.52,2078.97 181.82,2081.21 181.12,2083.8 180.42,2084.01 179.72,2082.1 179.02,2082.44 178.32,2082.16 177.62,2079.56 176.92,2080.35 176.22,2081.02 175.52,2086.2 174.82,2084.62 174.12,2082.3 173.42,2085.04 172.72,2081.83 172.02,2086.84 171.32,2084.56 170.62,2083.43 169.92,2086.95 169.22,2083.82 168.52,2081.17 167.82,2083.27 167.12,2086.35 166.42,2087.52 165.72,2081.65 165.02,2083.34 164.32,2082.36 163.62,2084.66 162.92,2088.72 162.22,2086.46 161.52,2082.77 160.82,2086.25 160.12,2091.94 159.42,2085.02 158.72,2087.72 158.02,2084.57 157.32,2084.82 156.62,2091.2 155.92,2086.22 155.23,2082.47 154.53,2089.22 153.83,2084.68 153.13,2081.75 152.43,2085.99 151.73,2082.45 151.03,2081.34 150.33,2081.21 149.63,2081.61 148.93,2082.48 148.23,2079.75 147.53,2077.83 146.83,2077.3 146.13,2087.51 145.43,2077.55 144.73,2080.14 144.03,2078.44 143.33,2080.19 142.63,2078.25 141.93,2083.19 141.23,2078.39 140.53,2080.48 139.83,2077.16 139.13,2081.83 138.43,2084.56 137.73,2080.47 137.03,2083.17 136.33,2080.38 135.63,2083.81 134.93,2080.33 134.23,2096.53 133.53,2077.08 132.83,2087.18 132.13,2082.14 131.43,2079.85 130.73,2083.75 130.03,2079.7 129.33,2083.53 128.63,2080.1 127.93,2078.42 127.23,2076.83 126.53,2077.35 125.83,2077.35 125.13,2079.35 124.43,2078.08 123.73,2079.8 123.03,2081.82 122.34,2079.12 121.64,2080.77 120.94,2084.64 120.24,2087 119.54,2079.63 118.84,2080.19 118.14,2081.01 117.44,2085.4 116.74,2082.67 116.04,2084.16 115.34,2085.7 114.64,2082.92 113.94,2085.58 113.24,2084.65 112.54,2081.65 111.84,2082.18 111.14,2092.28 110.44,2086.1 109.74,2084.77 109.04,2082.31 108.34,2086.71 107.64,2089.85 106.94,2085.87 106.24,2083.94 105.54,2092.23 104.84,2089.76 104.14,2084.12 103.44,2084.84 102.74,2085.46 102.04,2086.27 101.34,2089.72 100.64,2082.53 99.94,2082.23 99.24,2082.83 98.54,2088.89 97.84,2082.69 97.14,2081.13 96.44,2082.95 95.74,2082.71 95.04,2082.91 94.34,2081.52 93.64,2086.59 92.94,2086.85 92.24,2082.77 91.54,2081.41 90.84,2081.3 90.14,2082.55 89.45,2082.24 88.75,2089.31 88.05,2082.62 87.35,2093.82 86.65,2087.06 85.95,2084.75 85.25,2084.34 84.55,2093.47 83.85,2082.95 83.15,2082.77 82.45,2084.84 81.75,2082.47 81.05,2085.35 80.35,2081.19 79.65,2082.21 78.95,2080.52 78.25,2090.71 77.55,2082.01 76.85,2081.17 76.15,2082.16 75.45,2089.54 74.75,2077.91 74.05,2078.32 73.35,2078.02 73,2076.5" fill="#3244A2"/>
<path d="M127.21 2077.5V2131.44M78.51 2077.5V2097.36M89.47 2077.5V2098.88M160.99 2077.5V2103.44M209.37 2077.5V2101.92M262.93 2077.5V2101.92M300.37 2077.5V2100.4M365.19 2077.5V2100.4M402.92 2077.5V2092.79" stroke="#3244A2" stroke-width="1.2" fill="none" opacity="0.8"/>
<path d="M303.7 2155V2205.4H234" fill="none" stroke="#000" stroke-width="3" stroke-linejoin="miter"/>
<text x="315.6" y="2193" font-size="34.5">20 pA</text>
<text x="247" y="2237" font-size="34.5">2 s</text>
<text x="538.2" y="29.8" font-size="40">b</text>
<text font-size="34.5" textLength="347.76" lengthAdjust="spacingAndGlyphs" transform="translate(584.4 393.31) rotate(-90)">mIPSC frequency (Hz)</text>
<line x1="643.9" y1="33.6" x2="643.9" y2="410.3" stroke="#000" stroke-width="3.1"/>
<line x1="632.4" y1="407.3" x2="1018" y2="407.3" stroke="#000" stroke-width="3"/>
<line x1="632.4" y1="36.8" x2="643.9" y2="36.8" stroke="#000" stroke-width="2.6"/>
<text x="603.53" y="46.9" font-size="34.5">6</text>
<line x1="632.4" y1="160.1" x2="643.9" y2="160.1" stroke="#000" stroke-width="2.6"/>
<text x="603.02" y="171.6" font-size="34.5">4</text>
<line x1="632.4" y1="284" x2="643.9" y2="284" stroke="#000" stroke-width="2.6"/>
<text x="603.75" y="296.4" font-size="34.5">2</text>
<text x="603.36" y="421.1" font-size="34.5">0</text>
<line x1="750" y1="407.3" x2="750" y2="419.3" stroke="#000" stroke-width="2.6"/>
<line x1="909" y1="407.3" x2="909" y2="419.3" stroke="#000" stroke-width="2.6"/>
<line x1="748.5" y1="66.3" x2="905.5" y2="66.3" stroke="#000" stroke-width="3" stroke-linecap="round"/>
<text x="830" y="58" font-size="30" text-anchor="middle">*</text>
<g fill="none" stroke="#000" stroke-width="3.1">
<circle cx="750.06" cy="122.18" r="7.25"/>
<circle cx="738.34" cy="166.04" r="7.25"/>
<circle cx="761.11" cy="163.02" r="7.25"/>
<circle cx="715.91" cy="221.94" r="7.25"/>
<circle cx="783.87" cy="224.28" r="7.25"/>
<circle cx="738.34" cy="237.67" r="7.25"/>
<circle cx="761.11" cy="237.67" r="7.25"/>
<circle cx="706.54" cy="249.39" r="7.25"/>
<circle cx="792.91" cy="255.08" r="7.25"/>
<circle cx="720.94" cy="260.1" r="7.25"/>
<circle cx="735.33" cy="264.45" r="7.25"/>
<circle cx="749.72" cy="266.8" r="7.25"/>
<circle cx="764.12" cy="266.13" r="7.25"/>
<circle cx="778.51" cy="262.78" r="7.25"/>
<circle cx="749.72" cy="294.58" r="7.25"/>
<circle cx="761.44" cy="296.59" r="7.25"/>
<circle cx="738.34" cy="318.01" r="7.25"/>
</g>
<path d="M695.72 241.36H803.72M722.72 229.3H776.72M722.72 254.08H776.72M749.72 229.3V254.08" fill="none" stroke="#62C248" stroke-width="2.6"/>
<g fill="none" stroke="#E03020" stroke-width="3.2">
<rect x="901.1" y="215.31" width="14.6" height="14.6"/>
<rect x="912.48" y="228.7" width="14.6" height="14.6"/>
<rect x="890.05" y="239.41" width="14.6" height="14.6"/>
<rect x="923.52" y="258.83" width="14.6" height="14.6"/>
<rect x="878.67" y="268.87" width="14.6" height="14.6"/>
<rect x="901.1" y="273.22" width="14.6" height="14.6"/>
<rect x="934.57" y="277.24" width="14.6" height="14.6"/>
<rect x="856.57" y="291.63" width="14.6" height="14.6"/>
<rect x="912.48" y="292.97" width="14.6" height="14.6"/>
<rect x="878.67" y="299.67" width="14.6" height="14.6"/>
<rect x="867.62" y="305.69" width="14.6" height="14.6"/>
<rect x="934.57" y="305.69" width="14.6" height="14.6"/>
<rect x="890.05" y="316.74" width="14.6" height="14.6"/>
<rect x="912.48" y="323.43" width="14.6" height="14.6"/>
<rect x="867.62" y="341.51" width="14.6" height="14.6"/>
<rect x="934.57" y="340.84" width="14.6" height="14.6"/>
<rect x="912.48" y="350.88" width="14.6" height="14.6"/>
<rect x="890.05" y="362.6" width="14.6" height="14.6"/>
</g>
<path d="M854.4 301.28H962.4M881.4 291.57H935.4M881.4 311.32H935.4M908.4 291.57V311.32" fill="none" stroke="#62C248" stroke-width="2.6"/>
<text font-size="34.5" text-anchor="end" transform="translate(784.5 437) rotate(-45)">AAV-Vector</text>
<text font-size="34.5" text-anchor="end" fill="#E03020" transform="translate(953 438) rotate(-45)">AAV-RIIβ-S112A</text>
<text x="538.2" y="626.1" font-size="40">e</text>
<text font-size="34.5" textLength="366.63" lengthAdjust="spacingAndGlyphs" transform="translate(560.2 1016.74) rotate(-90)">mEPSC frequency (Hz)</text>
<line x1="641.1" y1="647.2" x2="641.1" y2="1023" stroke="#000" stroke-width="3.1"/>
<line x1="629.6" y1="1020" x2="1014.5" y2="1020" stroke="#000" stroke-width="3"/>
<line x1="629.6" y1="649.5" x2="641.1" y2="649.5" stroke="#000" stroke-width="2.6"/>
<text x="574.29" y="661.8" font-size="34.5">2.0</text>
<line x1="629.6" y1="742.4" x2="641.1" y2="742.4" stroke="#000" stroke-width="2.6"/>
<text x="574.39" y="754.4" font-size="34.5">1.5</text>
<line x1="629.6" y1="835.1" x2="641.1" y2="835.1" stroke="#000" stroke-width="2.6"/>
<text x="574.29" y="847" font-size="34.5">1.0</text>
<line x1="629.6" y1="927.3" x2="641.1" y2="927.3" stroke="#000" stroke-width="2.6"/>
<text x="574.39" y="939.7" font-size="34.5">0.5</text>
<text x="574.29" y="1033.2" font-size="34.5">0.0</text>
<line x1="746.7" y1="1020" x2="746.7" y2="1032" stroke="#000" stroke-width="2.6"/>
<line x1="905" y1="1020" x2="905" y2="1032" stroke="#000" stroke-width="2.6"/>
<line x1="747.5" y1="687.6" x2="902.5" y2="687.6" stroke="#000" stroke-width="3" stroke-linecap="round"/>
<text x="820.7" y="673.5" font-size="34.5" text-anchor="middle">ns</text>
<g fill="none" stroke="#000" stroke-width="3.1">
<circle cx="746.71" cy="749.72" r="7.25"/>
<circle cx="746.71" cy="772.15" r="7.25"/>
<circle cx="746.71" cy="809.97" r="7.25"/>
<circle cx="746.71" cy="873.91" r="7.25"/>
<circle cx="705.2" cy="891.32" r="7.25"/>
<circle cx="725.96" cy="898.68" r="7.25"/>
<circle cx="788.89" cy="898.01" r="7.25"/>
<circle cx="746.71" cy="909.06" r="7.25"/>
<circle cx="767.8" cy="904.71" r="7.25"/>
<circle cx="713.57" cy="923.79" r="7.25"/>
<circle cx="735.33" cy="925.8" r="7.25"/>
<circle cx="779.85" cy="924.79" r="7.25"/>
<circle cx="757.76" cy="934.17" r="7.25"/>
<circle cx="705.2" cy="943.2" r="7.25"/>
<circle cx="725.29" cy="944.21" r="7.25"/>
<circle cx="767.8" cy="944.88" r="7.25"/>
<circle cx="788.55" cy="944.21" r="7.25"/>
<circle cx="746.71" cy="958.27" r="7.25"/>
</g>
<path d="M692.71 897.01H800.71M719.71 883.28H773.71M719.71 911.4H773.71M746.71 883.28V911.4" fill="none" stroke="#62C248" stroke-width="2.6"/>
<g fill="none" stroke="#E03020" stroke-width="3.2">
<rect x="897.75" y="727.69" width="14.6" height="14.6"/>
<rect x="897.75" y="779.58" width="14.6" height="14.6"/>
<rect x="897.75" y="818.74" width="14.6" height="14.6"/>
<rect x="920.18" y="874.98" width="14.6" height="14.6"/>
<rect x="864.27" y="880.67" width="14.6" height="14.6"/>
<rect x="897.75" y="881.67" width="14.6" height="14.6"/>
<rect x="875.32" y="903.1" width="14.6" height="14.6"/>
<rect x="920.18" y="908.45" width="14.6" height="14.6"/>
<rect x="897.75" y="910.8" width="14.6" height="14.6"/>
<rect x="853.23" y="923.52" width="14.6" height="14.6"/>
<rect x="942.94" y="931.89" width="14.6" height="14.6"/>
<rect x="870.97" y="935.23" width="14.6" height="14.6"/>
<rect x="890.05" y="942.6" width="14.6" height="14.6"/>
<rect x="906.79" y="944.27" width="14.6" height="14.6"/>
<rect x="924.53" y="942.6" width="14.6" height="14.6"/>
<rect x="875.32" y="950.97" width="14.6" height="14.6"/>
<rect x="920.18" y="954.32" width="14.6" height="14.6"/>
<rect x="897.75" y="967.71" width="14.6" height="14.6"/>
</g>
<path d="M851.05 906.05H959.05M878.05 891.32H932.05M878.05 921.45H932.05M905.05 891.32V921.45" fill="none" stroke="#62C248" stroke-width="2.6"/>
<text font-size="34.5" text-anchor="end" transform="translate(782 1047) rotate(-45)">AAV-Vector</text>
<text font-size="34.5" text-anchor="end" fill="#E03020" transform="translate(950.2 1046.5) rotate(-45)">AAV-RIIβ-S112A</text>
<text x="538.2" y="1250.1" font-size="40">h</text>
<text font-size="34.5" textLength="346.85" lengthAdjust="spacingAndGlyphs" transform="translate(584.4 1644.9) rotate(-90)">mIPSC frequency (Hz)</text>
<line x1="641.8" y1="1281.3" x2="641.8" y2="1665" stroke="#000" stroke-width="3.1"/>
<line x1="629.7" y1="1661.9" x2="1021.5" y2="1661.9" stroke="#000" stroke-width="3"/>
<line x1="629.7" y1="1283.6" x2="641.8" y2="1283.6" stroke="#000" stroke-width="2.6"/>
<text x="603.53" y="1298.6" font-size="34.5">6</text>
<line x1="629.7" y1="1409.7" x2="641.8" y2="1409.7" stroke="#000" stroke-width="2.6"/>
<text x="603.02" y="1423.9" font-size="34.5">4</text>
<line x1="629.7" y1="1535.7" x2="641.8" y2="1535.7" stroke="#000" stroke-width="2.6"/>
<text x="603.75" y="1549.2" font-size="34.5">2</text>
<text x="603.36" y="1674.9" font-size="34.5">0</text>
<line x1="748.4" y1="1661.9" x2="748.4" y2="1673.9" stroke="#000" stroke-width="2.6"/>
<line x1="911" y1="1661.9" x2="911" y2="1673.9" stroke="#000" stroke-width="2.6"/>
<line x1="749.2" y1="1306.5" x2="910.9" y2="1306.5" stroke="#000" stroke-width="3" stroke-linecap="round"/>
<text x="830.7" y="1302" font-size="30" text-anchor="middle">*</text>
<g fill="none" stroke="#000" stroke-width="3.1">
<circle cx="749.39" cy="1430.31" r="7.25"/>
<circle cx="715.24" cy="1469.47" r="7.25"/>
<circle cx="794.58" cy="1471.15" r="7.25"/>
<circle cx="737.67" cy="1481.19" r="7.25"/>
<circle cx="771.48" cy="1482.86" r="7.25"/>
<circle cx="760.44" cy="1501.28" r="7.25"/>
<circle cx="737.67" cy="1523.7" r="7.25"/>
<circle cx="715.24" cy="1547.14" r="7.25"/>
<circle cx="771.48" cy="1543.12" r="7.25"/>
<circle cx="749.39" cy="1554.84" r="7.25"/>
<circle cx="726.29" cy="1568.89" r="7.25"/>
<circle cx="771.48" cy="1573.25" r="7.25"/>
<circle cx="749.39" cy="1581.62" r="7.25"/>
<circle cx="749.39" cy="1606.05" r="7.25"/>
<circle cx="749.39" cy="1629.15" r="7.25"/>
</g>
<path d="M695.39 1531.4H803.39M722.39 1516.34H776.39M722.39 1545.8H776.39M749.39 1516.34V1545.8" fill="none" stroke="#62C248" stroke-width="2.6"/>
<g fill="none" stroke="#3244A2" stroke-width="3.2">
<rect x="903.77" y="1331.62" width="14.6" height="14.6"/>
<rect x="926.2" y="1380.16" width="14.6" height="14.6"/>
<rect x="881.01" y="1395.89" width="14.6" height="14.6"/>
<rect x="903.77" y="1399.58" width="14.6" height="14.6"/>
<rect x="881.01" y="1423.01" width="14.6" height="14.6"/>
<rect x="926.2" y="1424.35" width="14.6" height="14.6"/>
<rect x="903.77" y="1442.09" width="14.6" height="14.6"/>
<rect x="869.29" y="1468.87" width="14.6" height="14.6"/>
<rect x="948.63" y="1481.25" width="14.6" height="14.6"/>
<rect x="892.06" y="1484.6" width="14.6" height="14.6"/>
<rect x="926.2" y="1489.96" width="14.6" height="14.6"/>
<rect x="914.49" y="1499" width="14.6" height="14.6"/>
<rect x="892.06" y="1514.06" width="14.6" height="14.6"/>
<rect x="903.77" y="1540.84" width="14.6" height="14.6"/>
<rect x="914.49" y="1559.92" width="14.6" height="14.6"/>
<rect x="892.06" y="1576.66" width="14.6" height="14.6"/>
</g>
<path d="M857.07 1470.48H965.07M884.07 1453.41H938.07M884.07 1487.55H938.07M911.07 1453.41V1487.55" fill="none" stroke="#62C248" stroke-width="2.6"/>
<text font-size="34.5" text-anchor="end" transform="translate(781 1711.7) rotate(-45)">WT</text>
<text font-size="34.5" text-anchor="end" fill="#3244A2" font-style="italic" transform="translate(958.4 1698.4) rotate(-45)">RIIβ<tspan font-size="20.01" dy="-10.87" dx="-0.4">-/-</tspan></text>
<text x="538.2" y="1804" font-size="40">k</text>
<text font-size="34.5" textLength="360.35" lengthAdjust="spacingAndGlyphs" transform="translate(552.7 2189.1) rotate(-90)">mEPSC frequency (Hz)</text>
<line x1="642.5" y1="1824.9" x2="642.5" y2="2202.5" stroke="#000" stroke-width="3.1"/>
<line x1="631.4" y1="2199.8" x2="1017.9" y2="2199.8" stroke="#000" stroke-width="3"/>
<line x1="631.4" y1="1827.2" x2="642.5" y2="1827.2" stroke="#000" stroke-width="2.6"/>
<text x="575.89" y="1841.3" font-size="34.5">2.5</text>
<line x1="631.4" y1="1902.2" x2="642.5" y2="1902.2" stroke="#000" stroke-width="2.6"/>
<text x="575.79" y="1915.4" font-size="34.5">2.0</text>
<line x1="631.4" y1="1976.3" x2="642.5" y2="1976.3" stroke="#000" stroke-width="2.6"/>
<text x="575.89" y="1989.5" font-size="34.5">1.5</text>
<line x1="631.4" y1="2050.8" x2="642.5" y2="2050.8" stroke="#000" stroke-width="2.6"/>
<text x="575.79" y="2063.6" font-size="34.5">1.0</text>
<line x1="631.4" y1="2125.3" x2="642.5" y2="2125.3" stroke="#000" stroke-width="2.6"/>
<text x="575.89" y="2137.7" font-size="34.5">0.5</text>
<text x="575.79" y="2211.8" font-size="34.5">0.0</text>
<line x1="748" y1="2199.8" x2="748" y2="2211.8" stroke="#000" stroke-width="2.6"/>
<line x1="907.7" y1="2199.8" x2="907.7" y2="2211.8" stroke="#000" stroke-width="2.6"/>
<line x1="748.5" y1="1868.5" x2="906.9" y2="1868.5" stroke="#000" stroke-width="3" stroke-linecap="round"/>
<text x="827.4" y="1856.6" font-size="34.5" text-anchor="middle">ns</text>
<g fill="none" stroke="#000" stroke-width="3.1">
<circle cx="748.72" cy="1914.82" r="7.25"/>
<circle cx="748.72" cy="1950.98" r="7.25"/>
<circle cx="748.72" cy="2024.62" r="7.25"/>
<circle cx="715.24" cy="2045.71" r="7.25"/>
<circle cx="782.86" cy="2045.71" r="7.25"/>
<circle cx="760.44" cy="2053.08" r="7.25"/>
<circle cx="737.67" cy="2060.78" r="7.25"/>
<circle cx="706.54" cy="2077.18" r="7.25"/>
<circle cx="726.63" cy="2079.19" r="7.25"/>
<circle cx="769.47" cy="2078.18" r="7.25"/>
<circle cx="791.23" cy="2077.18" r="7.25"/>
<circle cx="748.72" cy="2091.57" r="7.25"/>
<circle cx="782.86" cy="2134.42" r="7.25"/>
<circle cx="715.24" cy="2141.79" r="7.25"/>
<circle cx="760.44" cy="2142.46" r="7.25"/>
<circle cx="737.67" cy="2149.15" r="7.25"/>
</g>
<path d="M694.72 2066.47H802.72M721.72 2050.73H775.72M721.72 2082.53H775.72M748.72 2050.73V2082.53" fill="none" stroke="#62C248" stroke-width="2.6"/>
<g fill="none" stroke="#3244A2" stroke-width="3.2">
<rect x="901.1" y="1914.55" width="14.6" height="14.6"/>
<rect x="901.1" y="2015.65" width="14.6" height="14.6"/>
<rect x="923.52" y="2039.75" width="14.6" height="14.6"/>
<rect x="878.67" y="2050.8" width="14.6" height="14.6"/>
<rect x="901.1" y="2050.8" width="14.6" height="14.6"/>
<rect x="934.57" y="2064.86" width="14.6" height="14.6"/>
<rect x="867.62" y="2071.89" width="14.6" height="14.6"/>
<rect x="890.05" y="2076.91" width="14.6" height="14.6"/>
<rect x="912.14" y="2076.91" width="14.6" height="14.6"/>
<rect x="856.57" y="2086.95" width="14.6" height="14.6"/>
<rect x="946.29" y="2090.97" width="14.6" height="14.6"/>
<rect x="873.31" y="2096.99" width="14.6" height="14.6"/>
<rect x="891.05" y="2098.67" width="14.6" height="14.6"/>
<rect x="910.13" y="2102.68" width="14.6" height="14.6"/>
<rect x="927.88" y="2098.67" width="14.6" height="14.6"/>
<rect x="901.1" y="2141.85" width="14.6" height="14.6"/>
</g>
<path d="M854.4 2074.84H962.4M881.4 2062.45H935.4M881.4 2087.56H935.4M908.4 2062.45V2087.56" fill="none" stroke="#62C248" stroke-width="2.6"/>
<text font-size="34.5" text-anchor="end" transform="translate(781 2243) rotate(-45)">WT</text>
<text font-size="34.5" text-anchor="end" fill="#3244A2" font-style="italic" transform="translate(957.7 2227.7) rotate(-45)">RIIβ<tspan font-size="20.01" dy="-10.87" dx="-0.4">-/-</tspan></text>
<text x="1103.7" y="29.8" font-size="40">c</text>
<text font-size="34.5" transform="translate(1131.7 423.35) rotate(-90)">Cumulative probability</text>
<line x1="1211.8" y1="85.9" x2="1211.8" y2="416.8" stroke="#000" stroke-width="2.8"/>
<line x1="1205.2" y1="410.6" x2="1615.1" y2="410.6" stroke="#000" stroke-width="2.8"/>
<line x1="1207.6" y1="378.21" x2="1211.8" y2="378.21" stroke="#000" stroke-width="2.2"/>
<line x1="1205.2" y1="345.82" x2="1211.8" y2="345.82" stroke="#000" stroke-width="2.2"/>
<line x1="1207.6" y1="313.43" x2="1211.8" y2="313.43" stroke="#000" stroke-width="2.2"/>
<line x1="1205.2" y1="281.04" x2="1211.8" y2="281.04" stroke="#000" stroke-width="2.2"/>
<line x1="1207.6" y1="248.65" x2="1211.8" y2="248.65" stroke="#000" stroke-width="2.2"/>
<line x1="1205.2" y1="216.26" x2="1211.8" y2="216.26" stroke="#000" stroke-width="2.2"/>
<line x1="1207.6" y1="183.87" x2="1211.8" y2="183.87" stroke="#000" stroke-width="2.2"/>
<line x1="1205.2" y1="151.48" x2="1211.8" y2="151.48" stroke="#000" stroke-width="2.2"/>
<line x1="1207.6" y1="119.09" x2="1211.8" y2="119.09" stroke="#000" stroke-width="2.2"/>
<line x1="1205.2" y1="86.7" x2="1211.8" y2="86.7" stroke="#000" stroke-width="2.2"/>
<text x="1148.59" y="422.8" font-size="34.5">0.0</text>
<text x="1148.98" y="358.1" font-size="34.5">0.2</text>
<text x="1148.25" y="293.8" font-size="34.5">0.4</text>
<text x="1148.76" y="229.5" font-size="34.5">0.6</text>
<text x="1148.74" y="166.8" font-size="34.5">0.8</text>
<text x="1148.59" y="100.3" font-size="34.5">1.0</text>
<line x1="1262.06" y1="410.6" x2="1262.06" y2="414.6" stroke="#000" stroke-width="2.2"/>
<line x1="1312.33" y1="410.6" x2="1312.33" y2="416.9" stroke="#000" stroke-width="2.2"/>
<line x1="1362.59" y1="410.6" x2="1362.59" y2="414.6" stroke="#000" stroke-width="2.2"/>
<line x1="1412.85" y1="410.6" x2="1412.85" y2="416.9" stroke="#000" stroke-width="2.2"/>
<line x1="1463.11" y1="410.6" x2="1463.11" y2="414.6" stroke="#000" stroke-width="2.2"/>
<line x1="1513.38" y1="410.6" x2="1513.38" y2="416.9" stroke="#000" stroke-width="2.2"/>
<line x1="1563.64" y1="410.6" x2="1563.64" y2="414.6" stroke="#000" stroke-width="2.2"/>
<line x1="1613.9" y1="410.6" x2="1613.9" y2="416.9" stroke="#000" stroke-width="2.2"/>
<text x="1201.11" y="453" font-size="34.5">0</text>
<text x="1576" y="453" font-size="34.5">4000</text>
<text x="1233.29" y="496.8" font-size="34.5" textLength="367.47" lengthAdjust="spacingAndGlyphs">Inter-event interval (ms)</text>
<polyline points="1467.4,132.9 1474,132.9 1474.9,126 1475.5,252.3" fill="none" stroke="#000" stroke-width="2.31" stroke-linejoin="round"/>
<polyline points="1475.5,252.3 1475.25,241.8 1475.66,236.3 1476.07,231.23 1476.48,224.95 1476.9,220.17 1477.31,216.02 1477.72,213.26 1478.13,209.97 1478.54,207.16 1479.09,204.02 1479.63,201.07 1480.18,199.03 1480.73,196.37 1481.28,193.37 1481.83,191.67 1482.37,189.08 1482.92,187.1 1483.88,184.12 1484.84,180.57 1485.8,178.03 1486.76,174.62 1487.85,172.18 1488.95,169.9 1490.04,166.9 1491.14,164.62 1492.64,162.75 1494.15,160.43 1495.66,158.04 1497.16,155.11 1499.08,153.87 1501,152.53 1502.91,150.75 1504.83,148.21 1506.75,146.85 1508.67,146.37 1510.58,145.44 1512.5,143.76 1514.69,143.14 1516.88,141.94 1519.07,140.97 1521.26,140.04 1523.18,139.46 1525.1,138.69 1527.02,138.94 1528.93,138.07 1531.12,137 1533.32,136.55 1535.51,135.74 1537.7,135.72 1540.44,134.72 1543.18,134.78 1545.91,134.83 1548.65,134.43 1551.39,134.22 1554.13,133.39 1556.87,133.85 1559.61,133.31 1563.72,133.74 1567.82,133.1 1571.93,133.7 1576.04,133.18 1579.88,133.24 1583.71,132.79 1587.54,132.73 1591.38,132.68" fill="none" stroke="#000" stroke-width="4.2" stroke-linejoin="round"/>
<line x1="1467.4" y1="132.9" x2="1474.6" y2="132.9" stroke="#000" stroke-width="6.4"/>
<polyline points="1467.4,132.9 1473.7,132.9 1474.6,126 1475.1,252.3" fill="none" stroke="#E03020" stroke-width="2.6" stroke-linejoin="round"/>
<polyline points="1475.1,252.3 1476.15,242.87 1476.56,236.74 1476.97,231.41 1477.38,226.51 1477.8,220.74 1478.21,217.11 1478.62,214.06 1479.03,210.02 1479.44,206.68 1479.99,204.82 1480.53,203.12 1481.08,200.05 1481.63,197.54 1482.18,194.47 1482.73,191.79 1483.27,190.31 1483.82,187.1 1484.78,183.34 1485.74,181.81 1486.7,179.07 1487.66,175.91 1488.75,173.82 1489.85,171.01 1490.94,168.35 1492.04,165.26 1493.54,163.21 1495.05,160.27 1496.56,158.17 1498.06,156.73 1499.98,154.32 1501.9,152.75 1503.81,150.63 1505.73,150.47 1507.65,147.17 1509.57,146.42 1511.48,146.03 1513.4,144.03 1515.59,143.05 1517.78,142.68 1519.97,141.83 1522.16,140.84 1524.08,139.6 1526,139.78 1527.92,138.35 1529.83,137.93 1532.02,137.35 1534.22,137.4 1536.41,136.54 1538.6,135.72 1541.34,135.84 1544.08,135.03 1546.81,134.94 1549.55,134.7 1552.29,134.36 1555.03,133.95 1557.77,133.62 1560.51,134.46 1564.62,132.95 1568.72,133.93 1572.83,133.35 1576.94,133.31 1580.78,132.78 1584.61,133.51 1588.44,133.22 1592.28,133.89" fill="none" stroke="#E03020" stroke-width="4.2" stroke-linejoin="round"/>
<line x1="1467.4" y1="132.9" x2="1474.6" y2="132.9" stroke="#E03020" stroke-width="6.4"/>
<polyline points="1211.47,410.88 1220.23,350.58 1230.75,290.98 1241.27,250.67 1251.79,227.88 1262.3,199.83 1271.07,171.79 1281.58,150.75 1292.1,136.73 1302.62,126.21 1313.14,119.2 1321.9,114.64 1332.42,106.23 1342.94,99.21 1353.45,96.41 1363.97,94.66 1377.99,91.85 1392.02,89.75 1413.05,88.35 1430.58,87.29 1465.64,86.94 1613.94,86.59" fill="none" stroke="#000" stroke-width="3" stroke-linejoin="round"/>
<polyline points="1211.47,410.88 1220.23,364.61 1230.75,312.02 1241.27,273.45 1251.79,245.41 1262.3,220.87 1272.82,201.58 1283.34,184.06 1293.85,166.53 1304.37,156.01 1314.89,145.49 1323.65,137.43 1332.42,131.47 1342.94,123.4 1353.45,118.5 1363.97,113.94 1374.49,110.78 1388.51,107.63 1402.54,105.17 1416.56,102.37 1430.58,100.27 1442.85,99.57 1453.37,95.71 1465.64,95.36 1476.16,94.66 1493.69,91.85 1511.22,90.8 1535.76,89.4 1570.81,88.35 1613.94,87.29" fill="none" stroke="#E03020" stroke-width="3" stroke-linejoin="round"/>
<line x1="1296.3" y1="303.6" x2="1332.4" y2="303.6" stroke="#000" stroke-width="2.8"/>
<text x="1352.8" y="315.5" font-size="34.5">AAV-Vector</text>
<line x1="1298" y1="361" x2="1334" y2="361" stroke="#E03020" stroke-width="2.8"/>
<text x="1352.8" y="375.8" font-size="34.5" fill="#E03020">AAV-RIIβ-S112A</text>
<text x="1103.7" y="626.1" font-size="40">f</text>
<text font-size="34.5" textLength="341.53" lengthAdjust="spacingAndGlyphs" transform="translate(1131.7 1000.96) rotate(-90)">Cumulative probability</text>
<line x1="1217.3" y1="669.8" x2="1217.3" y2="996.8" stroke="#000" stroke-width="2.8"/>
<line x1="1210.8" y1="990.6" x2="1615.8" y2="990.6" stroke="#000" stroke-width="2.8"/>
<line x1="1213.1" y1="958.64" x2="1217.3" y2="958.64" stroke="#000" stroke-width="2.2"/>
<line x1="1210.8" y1="926.68" x2="1217.3" y2="926.68" stroke="#000" stroke-width="2.2"/>
<line x1="1213.1" y1="894.72" x2="1217.3" y2="894.72" stroke="#000" stroke-width="2.2"/>
<line x1="1210.8" y1="862.76" x2="1217.3" y2="862.76" stroke="#000" stroke-width="2.2"/>
<line x1="1213.1" y1="830.8" x2="1217.3" y2="830.8" stroke="#000" stroke-width="2.2"/>
<line x1="1210.8" y1="798.84" x2="1217.3" y2="798.84" stroke="#000" stroke-width="2.2"/>
<line x1="1213.1" y1="766.88" x2="1217.3" y2="766.88" stroke="#000" stroke-width="2.2"/>
<line x1="1210.8" y1="734.92" x2="1217.3" y2="734.92" stroke="#000" stroke-width="2.2"/>
<line x1="1213.1" y1="702.96" x2="1217.3" y2="702.96" stroke="#000" stroke-width="2.2"/>
<line x1="1210.8" y1="671" x2="1217.3" y2="671" stroke="#000" stroke-width="2.2"/>
<text x="1150.19" y="1004.8" font-size="34.5">0.0</text>
<text x="1150.58" y="940.5" font-size="34.5">0.2</text>
<text x="1149.85" y="875.8" font-size="34.5">0.4</text>
<text x="1150.36" y="811.5" font-size="34.5">0.6</text>
<text x="1150.34" y="748.4" font-size="34.5">0.8</text>
<text x="1150.19" y="682.5" font-size="34.5">1.0</text>
<line x1="1266.96" y1="990.6" x2="1266.96" y2="994.6" stroke="#000" stroke-width="2.2"/>
<line x1="1316.62" y1="990.6" x2="1316.62" y2="996.9" stroke="#000" stroke-width="2.2"/>
<line x1="1366.29" y1="990.6" x2="1366.29" y2="994.6" stroke="#000" stroke-width="2.2"/>
<line x1="1415.95" y1="990.6" x2="1415.95" y2="996.9" stroke="#000" stroke-width="2.2"/>
<line x1="1465.61" y1="990.6" x2="1465.61" y2="994.6" stroke="#000" stroke-width="2.2"/>
<line x1="1515.27" y1="990.6" x2="1515.27" y2="996.9" stroke="#000" stroke-width="2.2"/>
<line x1="1564.94" y1="990.6" x2="1564.94" y2="994.6" stroke="#000" stroke-width="2.2"/>
<line x1="1614.6" y1="990.6" x2="1614.6" y2="996.9" stroke="#000" stroke-width="2.2"/>
<text x="1205.91" y="1038.8" font-size="34.5">0</text>
<text x="1576.55" y="1038.8" font-size="34.5">8000</text>
<text x="1237.58" y="1076.8" font-size="34.5" textLength="368.18" lengthAdjust="spacingAndGlyphs">Inter-event interval (ms)</text>
<polyline points="1493.59,718.7 1497.14,832.39 1500.05,816.32 1502,796.85 1503.94,777.37 1505.89,762.77 1507.84,750.11 1509.79,740.37 1511.73,733.55" fill="none" stroke="#000" stroke-width="5" stroke-linejoin="miter"/>
<rect x="1508.81" y="726.51" width="8.76" height="12.41" fill="#000"/>
<rect x="1513.68" y="719.7" width="15.58" height="10.46" fill="#000"/>
<rect x="1518.06" y="712.39" width="11.2" height="11.92" fill="#000"/>
<rect x="1485.49" y="713.09" width="8.1" height="11.22" fill="#000"/>
<path d="M1489.54 707.25h3.18v7.34h-3.18z" fill="#000"/>
<path d="M1528.16 722.82h1.71v7.34h-1.71zM1533.82 707.25h1.67v7.34h-1.67zM1543.07 707.25h2.41v7.34h-2.41zM1547.93 722.82h1.89v7.34h-1.89zM1556.22 707.25h1.74v7.34h-1.74zM1564.53 707.25h2.99v7.34h-2.99zM1575 707.25h2.25v7.34h-2.25z" fill="#000"/>
<rect x="1486.29" y="713.59" width="7.3" height="10.22" fill="#E03020"/>
<rect x="1516.96" y="713.59" width="64.75" height="10.22" fill="#E03020"/>
<rect x="1507.71" y="727.71" width="8.76" height="10.71" fill="#E03020"/>
<rect x="1512.58" y="720.9" width="15.58" height="8.76" fill="#E03020"/>
<rect x="1516.96" y="713.59" width="11.2" height="10.22" fill="#E03020"/>
<path d="M1546.92 722.82h1.67v7.34h-1.67zM1552.79 707.25h2.47v7.34h-2.47zM1580.22 707.25h1.5v7.34h-1.5z" fill="#E03020"/>
<polyline points="1493.09,718.7 1496.81,832.39 1498.95,816.32 1500.9,796.85 1502.84,777.37 1504.79,762.77 1506.74,750.11 1508.69,740.37 1510.63,733.55" fill="none" stroke="#E03020" stroke-width="4.6" stroke-linejoin="miter"/>
<line x1="1495.05" y1="699.96" x2="1495.65" y2="824.39" stroke="#E03020" stroke-width="2"/>
<polyline points="1216.73,990.18 1227.24,944.61 1230.75,906.04 1241.27,863.97 1251.79,839.43 1262.3,825.41 1272.82,807.88 1283.34,790.35 1293.85,772.82 1307.88,764.06 1318.4,758.8 1325.41,751.79 1332.42,743.02 1341.18,736.71 1348.2,729 1360.47,723.74 1370.98,716.73 1381.5,710.42 1388.51,709.72 1399.03,704.46 1409.55,700.25 1423.57,698.5 1434.09,694.99 1455.12,693.24 1465.64,690.43 1476.16,687.98 1493.69,686.23 1504.2,682.72 1514.72,682.37 1521.73,679.21 1535.76,678.16 1553.29,677.46 1563.8,675.36 1581.33,675.36 1598.86,673.96 1618.84,673.96" fill="none" stroke="#000" stroke-width="3" stroke-linejoin="round"/>
<polyline points="1216.73,990.18 1225.49,927.08 1234.26,888.51 1241.27,863.97 1248.28,849.95 1255.29,839.43 1262.3,818.4 1269.31,807.88 1276.33,792.1 1283.34,786.84 1293.85,771.07 1304.37,757.04 1313.14,744.77 1321.9,736.01 1332.42,732.5 1339.43,730.75 1346.44,720.23 1360.47,709.72 1370.98,704.46 1377.99,702 1395.52,699.2 1409.55,694.99 1423.57,691.49 1437.59,689.38 1451.62,686.93 1465.64,684.12 1483.17,681.67 1493.69,679.21 1502.45,675.36 1535.76,675.36 1542.77,674.66 1570.81,674.66 1595.36,674.66 1618.84,675.36" fill="none" stroke="#E03020" stroke-width="3" stroke-linejoin="round"/>
<line x1="1302.6" y1="872.7" x2="1339.4" y2="872.7" stroke="#000" stroke-width="2.8"/>
<text x="1358.7" y="885.7" font-size="34.5">AAV-Vector</text>
<line x1="1304.4" y1="930.6" x2="1341.2" y2="930.6" stroke="#E03020" stroke-width="2.8"/>
<text x="1358.7" y="945.3" font-size="34.5" fill="#E03020">AAV-RIIβ-S112A</text>
<text x="1103.7" y="1250.1" font-size="40">i</text>
<text font-size="34.5" transform="translate(1131.7 1643.35) rotate(-90)">Cumulative probability</text>
<line x1="1209.8" y1="1307.8" x2="1209.8" y2="1636.8" stroke="#000" stroke-width="2.8"/>
<line x1="1203.7" y1="1631" x2="1612.3" y2="1631" stroke="#000" stroke-width="2.8"/>
<line x1="1205.6" y1="1598.77" x2="1209.8" y2="1598.77" stroke="#000" stroke-width="2.2"/>
<line x1="1203.7" y1="1566.54" x2="1209.8" y2="1566.54" stroke="#000" stroke-width="2.2"/>
<line x1="1205.6" y1="1534.31" x2="1209.8" y2="1534.31" stroke="#000" stroke-width="2.2"/>
<line x1="1203.7" y1="1502.08" x2="1209.8" y2="1502.08" stroke="#000" stroke-width="2.2"/>
<line x1="1205.6" y1="1469.85" x2="1209.8" y2="1469.85" stroke="#000" stroke-width="2.2"/>
<line x1="1203.7" y1="1437.62" x2="1209.8" y2="1437.62" stroke="#000" stroke-width="2.2"/>
<line x1="1205.6" y1="1405.39" x2="1209.8" y2="1405.39" stroke="#000" stroke-width="2.2"/>
<line x1="1203.7" y1="1373.16" x2="1209.8" y2="1373.16" stroke="#000" stroke-width="2.2"/>
<line x1="1205.6" y1="1340.93" x2="1209.8" y2="1340.93" stroke="#000" stroke-width="2.2"/>
<line x1="1203.7" y1="1308.7" x2="1209.8" y2="1308.7" stroke="#000" stroke-width="2.2"/>
<text x="1148.59" y="1643.6" font-size="34.5">0.0</text>
<text x="1148.98" y="1578.9" font-size="34.5">0.2</text>
<text x="1148.25" y="1514.6" font-size="34.5">0.4</text>
<text x="1148.76" y="1450.3" font-size="34.5">0.6</text>
<text x="1148.74" y="1387.2" font-size="34.5">0.8</text>
<text x="1148.59" y="1320.6" font-size="34.5">1.0</text>
<line x1="1234.88" y1="1631" x2="1234.88" y2="1635" stroke="#000" stroke-width="2.2"/>
<line x1="1259.96" y1="1631" x2="1259.96" y2="1637.3" stroke="#000" stroke-width="2.2"/>
<line x1="1285.04" y1="1631" x2="1285.04" y2="1635" stroke="#000" stroke-width="2.2"/>
<line x1="1310.12" y1="1631" x2="1310.12" y2="1637.3" stroke="#000" stroke-width="2.2"/>
<line x1="1335.21" y1="1631" x2="1335.21" y2="1635" stroke="#000" stroke-width="2.2"/>
<line x1="1360.29" y1="1631" x2="1360.29" y2="1637.3" stroke="#000" stroke-width="2.2"/>
<line x1="1385.37" y1="1631" x2="1385.37" y2="1635" stroke="#000" stroke-width="2.2"/>
<line x1="1410.45" y1="1631" x2="1410.45" y2="1637.3" stroke="#000" stroke-width="2.2"/>
<line x1="1435.53" y1="1631" x2="1435.53" y2="1635" stroke="#000" stroke-width="2.2"/>
<line x1="1460.61" y1="1631" x2="1460.61" y2="1637.3" stroke="#000" stroke-width="2.2"/>
<line x1="1485.69" y1="1631" x2="1485.69" y2="1635" stroke="#000" stroke-width="2.2"/>
<line x1="1510.77" y1="1631" x2="1510.77" y2="1637.3" stroke="#000" stroke-width="2.2"/>
<line x1="1535.86" y1="1631" x2="1535.86" y2="1635" stroke="#000" stroke-width="2.2"/>
<line x1="1560.94" y1="1631" x2="1560.94" y2="1637.3" stroke="#000" stroke-width="2.2"/>
<line x1="1586.02" y1="1631" x2="1586.02" y2="1635" stroke="#000" stroke-width="2.2"/>
<line x1="1611.1" y1="1631" x2="1611.1" y2="1637.3" stroke="#000" stroke-width="2.2"/>
<text x="1200.81" y="1674.7" font-size="34.5">0</text>
<text x="1575.23" y="1674.7" font-size="34.5">2400</text>
<text x="1233.29" y="1716.8" font-size="34.5" textLength="367.47" lengthAdjust="spacingAndGlyphs">Inter-event interval (ms)</text>
<polyline points="1452,1351.2 1466,1351.2 1466.9,1343.6 1467.5,1467.5" fill="none" stroke="#000" stroke-width="2.42" stroke-linejoin="round"/>
<polyline points="1467.5,1467.5 1470.24,1462.32 1470.7,1458.35 1471.17,1454.29 1471.63,1449.77 1472.1,1446.18 1472.59,1442.61 1473.09,1439.91 1473.58,1437.22 1474.07,1433.51 1474.59,1431.14 1475.11,1428.81 1475.63,1426.2 1476.15,1423.81 1476.92,1421.05 1477.69,1417.69 1478.45,1415.44 1479.22,1411.81 1480.01,1410.07 1480.81,1407.62 1481.6,1404.88 1482.4,1401.51 1483.19,1399.77 1483.99,1398.21 1484.78,1395.88 1485.57,1394.92 1486.4,1392.21 1487.22,1391.3 1488.04,1389.41 1488.86,1388.31 1489.98,1385.66 1491.11,1384.72 1492.23,1382.66 1493.35,1380.58 1494.75,1379.25 1496.15,1377.69 1497.54,1375.15 1498.94,1373.48 1500.36,1371.85 1501.79,1371.2 1503.21,1370.06 1504.64,1369.34 1506.06,1368.52 1507.48,1367.5 1508.91,1366.58 1510.33,1366.34 1512.06,1365.35 1513.78,1365.21 1515.51,1364.26 1517.23,1362.93 1519.23,1362.25 1521.23,1362.06 1523.23,1360.89 1525.23,1360.59 1526.93,1360.18 1528.63,1359.7 1530.33,1359.2 1532.02,1358.31 1533.67,1357.73 1535.31,1357.2 1536.95,1357.49 1538.6,1357.88 1541.34,1356.07 1544.08,1356.74 1546.81,1355.12 1549.55,1354.84 1553.66,1354.91 1557.77,1355.39 1561.88,1354.37 1565.99,1354.81 1570.09,1354.77 1574.2,1354.64 1578.31,1354.12 1582.42,1354.14 1585.16,1353.99 1587.9,1353.89 1590.64,1353.41 1593.37,1353.08 1596.11,1352.12 1598.85,1352.62 1601.59,1352.93 1604.33,1353.3" fill="none" stroke="#000" stroke-width="4.4" stroke-linejoin="round"/>
<line x1="1452" y1="1351.2" x2="1466.6" y2="1351.2" stroke="#000" stroke-width="6.6"/>
<polyline points="1458.5,1351.4 1465.7,1351.4 1466.6,1343.6 1467.1,1467.5" fill="none" stroke="#3244A2" stroke-width="2.42" stroke-linejoin="round"/>
<polyline points="1467.1,1467.5 1468.7,1458.07 1469.06,1453.3 1469.41,1449.61 1469.77,1445.66 1470.13,1443.29 1470.54,1438.78 1470.95,1435.63 1471.36,1432.62 1471.77,1429.1 1472.32,1426.52 1472.87,1422.13 1473.41,1417.8 1473.96,1414.7 1474.51,1410.86 1475.06,1408.71 1475.6,1405.52 1476.15,1401.6 1476.97,1398.8 1477.8,1396.06 1478.62,1392.4 1479.44,1390.4 1480.53,1387.36 1481.63,1384.93 1482.73,1382.26 1483.82,1380.14 1484.92,1378.65 1486.01,1376.93 1487.11,1375.25 1488.2,1373.65 1489.3,1372.01 1490.39,1370.33 1491.49,1369.58 1492.59,1367.72 1494.23,1367.26 1495.87,1366.15 1497.52,1365.21 1499.16,1364.31 1500.8,1363.23 1502.45,1362.14 1504.09,1362.14 1505.73,1362.37 1507.92,1360.19 1510.11,1360.09 1512.3,1359.67 1514.5,1358.79 1516.41,1358.14 1518.33,1357.48 1520.25,1358.23 1522.16,1356.97 1524.08,1356.73 1526,1356.19 1527.92,1354.9 1529.83,1354.97 1532.02,1355.07 1534.22,1354.25 1536.41,1353.68 1538.6,1353.06 1541.34,1353.47 1544.08,1353.17 1546.81,1353.66 1549.55,1352.17 1553.66,1352.88 1557.77,1352.39 1561.88,1352.85 1565.99,1352.63 1570.09,1352.71 1574.2,1352.68 1578.31,1352.09 1582.42,1351.46 1585.71,1352.34 1588.99,1352.25 1592.28,1352.76 1595.57,1352.34 1598.58,1353.14 1601.59,1352.81 1604.6,1353.52 1607.62,1353.37" fill="none" stroke="#3244A2" stroke-width="3.9" stroke-linejoin="round"/>
<line x1="1458.5" y1="1351.4" x2="1466.6" y2="1351.4" stroke="#3244A2" stroke-width="6.1"/>
<polyline points="1209.72,1631.22 1220.23,1596.16 1230.75,1561.1 1241.27,1529.55 1251.79,1497.99 1258.8,1478.71 1269.31,1455.92 1278.08,1438.4 1293.85,1413.85 1309.63,1394.57 1327.16,1381.6 1342.94,1361.27 1360.47,1351.45 1377.99,1343.74 1395.52,1338.48 1409.55,1331.47 1427.08,1325.16 1444.61,1323.4 1458.63,1320.95 1476.16,1317.44 1493.69,1313.94 1521.73,1312.89 1542.77,1311.49 1570.81,1309.38 1611.13,1309.38" fill="none" stroke="#000" stroke-width="3" stroke-linejoin="round"/>
<polyline points="1209.72,1631.22 1216.73,1585.64 1227.24,1536.56 1243.02,1478.71 1258.8,1440.15 1276.33,1409.65 1293.85,1387.56 1309.63,1370.03 1327.16,1353.2 1342.94,1343.04 1360.47,1333.92 1377.99,1327.96 1393.77,1321.3 1409.55,1318.15 1427.08,1315.69 1444.61,1314.64 1458.63,1312.89 1476.16,1310.43 1500.7,1310.08 1535.76,1309.73 1570.81,1309.73 1611.13,1308.68" fill="none" stroke="#3244A2" stroke-width="3" stroke-linejoin="round"/>
<line x1="1392" y1="1519" x2="1428.8" y2="1519" stroke="#000" stroke-width="2.8"/>
<text x="1448" y="1530.3" font-size="34.5">WT</text>
<line x1="1394" y1="1576.9" x2="1430.8" y2="1576.9" stroke="#3244A2" stroke-width="2.8"/>
<text x="1449.9" y="1589.9" font-size="34.5" fill="#3244A2" font-style="italic">RIIβ<tspan font-size="20.01" dy="-10.87" dx="-0.4">-/-</tspan></text>
<text x="1103.7" y="1804" font-size="40">l</text>
<text font-size="34.5" textLength="341.53" lengthAdjust="spacingAndGlyphs" transform="translate(1128.3 2180.16) rotate(-90)">Cumulative probability</text>
<line x1="1214.5" y1="1845.9" x2="1214.5" y2="2175.7" stroke="#000" stroke-width="2.8"/>
<line x1="1208.4" y1="2169.7" x2="1616.4" y2="2169.7" stroke="#000" stroke-width="2.8"/>
<line x1="1210.3" y1="2137.44" x2="1214.5" y2="2137.44" stroke="#000" stroke-width="2.2"/>
<line x1="1208.4" y1="2105.18" x2="1214.5" y2="2105.18" stroke="#000" stroke-width="2.2"/>
<line x1="1210.3" y1="2072.92" x2="1214.5" y2="2072.92" stroke="#000" stroke-width="2.2"/>
<line x1="1208.4" y1="2040.66" x2="1214.5" y2="2040.66" stroke="#000" stroke-width="2.2"/>
<line x1="1210.3" y1="2008.4" x2="1214.5" y2="2008.4" stroke="#000" stroke-width="2.2"/>
<line x1="1208.4" y1="1976.14" x2="1214.5" y2="1976.14" stroke="#000" stroke-width="2.2"/>
<line x1="1210.3" y1="1943.88" x2="1214.5" y2="1943.88" stroke="#000" stroke-width="2.2"/>
<line x1="1208.4" y1="1911.62" x2="1214.5" y2="1911.62" stroke="#000" stroke-width="2.2"/>
<line x1="1210.3" y1="1879.36" x2="1214.5" y2="1879.36" stroke="#000" stroke-width="2.2"/>
<line x1="1208.4" y1="1847.1" x2="1214.5" y2="1847.1" stroke="#000" stroke-width="2.2"/>
<text x="1147.49" y="2183.6" font-size="34.5">0.0</text>
<text x="1147.88" y="2118.9" font-size="34.5">0.2</text>
<text x="1147.15" y="2054.6" font-size="34.5">0.4</text>
<text x="1147.66" y="1989.9" font-size="34.5">0.6</text>
<text x="1147.64" y="1926" font-size="34.5">0.8</text>
<text x="1147.49" y="1860.6" font-size="34.5">1.0</text>
<line x1="1243.12" y1="2169.7" x2="1243.12" y2="2173.7" stroke="#000" stroke-width="2.2"/>
<line x1="1271.74" y1="2169.7" x2="1271.74" y2="2176" stroke="#000" stroke-width="2.2"/>
<line x1="1300.36" y1="2169.7" x2="1300.36" y2="2173.7" stroke="#000" stroke-width="2.2"/>
<line x1="1328.99" y1="2169.7" x2="1328.99" y2="2176" stroke="#000" stroke-width="2.2"/>
<line x1="1357.61" y1="2169.7" x2="1357.61" y2="2173.7" stroke="#000" stroke-width="2.2"/>
<line x1="1386.23" y1="2169.7" x2="1386.23" y2="2176" stroke="#000" stroke-width="2.2"/>
<line x1="1414.85" y1="2169.7" x2="1414.85" y2="2173.7" stroke="#000" stroke-width="2.2"/>
<line x1="1443.47" y1="2169.7" x2="1443.47" y2="2176" stroke="#000" stroke-width="2.2"/>
<line x1="1472.09" y1="2169.7" x2="1472.09" y2="2173.7" stroke="#000" stroke-width="2.2"/>
<line x1="1500.71" y1="2169.7" x2="1500.71" y2="2176" stroke="#000" stroke-width="2.2"/>
<line x1="1529.34" y1="2169.7" x2="1529.34" y2="2173.7" stroke="#000" stroke-width="2.2"/>
<line x1="1557.96" y1="2169.7" x2="1557.96" y2="2176" stroke="#000" stroke-width="2.2"/>
<line x1="1586.58" y1="2169.7" x2="1586.58" y2="2173.7" stroke="#000" stroke-width="2.2"/>
<line x1="1615.2" y1="2169.7" x2="1615.2" y2="2176" stroke="#000" stroke-width="2.2"/>
<text x="1205.61" y="2217.6" font-size="34.5">0</text>
<text x="1581.01" y="2217.6" font-size="34.5">7000</text>
<text x="1234.69" y="2255.9" font-size="34.5" textLength="366.96" lengthAdjust="spacingAndGlyphs">Inter-event interval (ms)</text>
<polyline points="1447.53,1897.85 1451.72,2005.71 1454.75,1991.46 1456.4,1971.74 1458.04,1958.6 1459.9,1945.45 1461.87,1934.5 1464.07,1924.64 1466.26,1916.97" fill="none" stroke="#000" stroke-width="5" stroke-linejoin="miter"/>
<rect x="1462.97" y="1907" width="14.24" height="10.46" fill="#000"/>
<rect x="1468.45" y="1900.43" width="17.53" height="11.01" fill="#000"/>
<rect x="1475.02" y="1894.95" width="15.89" height="10.46" fill="#000"/>
<rect x="1439.61" y="1891.82" width="7.92" height="12.06" fill="#000"/>
<path d="M1439.61 1888.12h4.2v5.2h-4.2zM1447.49 1888.12h0.04v5.2h-0.04z" fill="#000"/>
<path d="M1489.71 1888.12h2.37v5.2h-2.37zM1492.61 1888.12h1.69v5.2h-1.69zM1494.85 1902.38h1.74v5.2h-1.74zM1497.25 1888.12h4.36v5.2h-4.36zM1502.44 1888.12h4.98v5.2h-4.98zM1508.1 1902.38h2.99v5.2h-2.99zM1511.63 1888.12h5.01v5.2h-5.01zM1516.97 1902.38h4.87v5.2h-4.87zM1522.72 1902.38h2.2v5.2h-2.2zM1525.64 1888.12h2.77v5.2h-2.77zM1528.76 1888.12h2.29v5.2h-2.29zM1531.33 1888.12h2.81v5.2h-2.81zM1534.51 1888.12h4.29v5.2h-4.29zM1539.04 1888.12h1.8v5.2h-1.8zM1541.18 1888.12h3.35v5.2h-3.35zM1545.46 1888.12h4.05v5.2h-4.05zM1549.79 1888.12h4.2v5.2h-4.2zM1554.67 1888.12h3.56v5.2h-3.56zM1558.6 1888.12h5.06v5.2h-5.06zM1563.87 1888.12h4.26v5.2h-4.26zM1568.85 1888.12h4.23v5.2h-4.23zM1573.77 1888.12h3.62v5.2h-3.62zM1577.94 1888.12h5.06v5.2h-5.06zM1588.5 1888.12h1.7v5.2h-1.7zM1590.87 1888.12h3.92v5.2h-3.92zM1595.35 1902.38h5.09v5.2h-5.09zM1600.81 1888.12h1.18v5.2h-1.18z" fill="#000"/>
<rect x="1440.41" y="1892.32" width="7.12" height="11.06" fill="#3244A2"/>
<rect x="1473.82" y="1892.32" width="128.18" height="11.06" fill="#3244A2"/>
<rect x="1461.77" y="1908.2" width="14.24" height="8.76" fill="#3244A2"/>
<rect x="1467.25" y="1901.63" width="17.53" height="9.31" fill="#3244A2"/>
<rect x="1473.82" y="1896.15" width="15.89" height="8.76" fill="#3244A2"/>
<path d="M1489.71 1902.38h3.23v5.2h-3.23zM1493.72 1902.38h1.67v5.2h-1.67zM1513.49 1902.38h3.6v5.2h-3.6zM1527.64 1902.38h3.98v5.2h-3.98zM1574.77 1902.38h2.44v5.2h-2.44zM1580.43 1902.38h4.04v5.2h-4.04zM1585.16 1902.38h4.89v5.2h-4.89z" fill="#3244A2"/>
<polyline points="1447.03,1897.85 1451.36,2005.71 1453.55,1991.46 1455.2,1971.74 1456.84,1958.6 1458.7,1945.45 1460.67,1934.5 1462.87,1924.64 1465.06,1916.97" fill="none" stroke="#3244A2" stroke-width="4.6" stroke-linejoin="miter"/>
<line x1="1449.17" y1="1881.36" x2="1449.77" y2="1997.71" stroke="#3244A2" stroke-width="2"/>
<polyline points="1214.97,2170.2 1225.49,2128.13 1234.26,2079.05 1241.27,2047.5 1250.03,2019.45 1258.8,2003.68 1267.56,1980.89 1278.08,1959.85 1290.35,1945.83 1307.88,1924.8 1325.41,1907.27 1339.43,1897.8 1348.2,1896.75 1358.71,1885.53 1374.49,1877.47 1381.5,1876.42 1395.52,1871.16 1413.05,1865.9 1425.32,1864.5 1434.09,1859.94 1448.11,1858.89 1458.63,1855.38 1469.15,1854.68 1518.23,1854.68 1553.29,1852.93 1577.83,1850.47 1615.34,1849.77" fill="none" stroke="#000" stroke-width="3" stroke-linejoin="round"/>
<polyline points="1214.97,2170.2 1223.74,2117.62 1234.26,2082.56 1243.02,2047.5 1251.79,2029.97 1265.81,2008.94 1278.08,1977.38 1285.09,1965.11 1290.35,1951.09 1300.87,1943.03 1313.14,1928.3 1325.41,1919.54 1337.68,1909.02 1348.2,1905.51 1358.71,1896.75 1376.24,1893.24 1388.51,1884.48 1400.78,1880.97 1414.81,1875.01 1421.82,1868.7 1437.59,1867.65 1444.61,1864.5 1460.38,1859.94 1472.65,1855.38 1483.17,1853.63 1500.7,1851.17 1535.76,1850.47 1570.81,1850.12 1605.87,1850.12 1612.88,1848.37 1615.34,1849.77" fill="none" stroke="#3244A2" stroke-width="3" stroke-linejoin="round"/>
<line x1="1385" y1="2059" x2="1421.8" y2="2059" stroke="#000" stroke-width="2.8"/>
<text x="1441.6" y="2070.3" font-size="34.5">WT</text>
<line x1="1387" y1="2116.9" x2="1423.8" y2="2116.9" stroke="#3244A2" stroke-width="2.8"/>
<text x="1441.9" y="2129.9" font-size="34.5" fill="#3244A2" font-style="italic">RIIβ<tspan font-size="20.01" dy="-10.87" dx="-0.4">-/-</tspan></text>
</svg></body></html>
